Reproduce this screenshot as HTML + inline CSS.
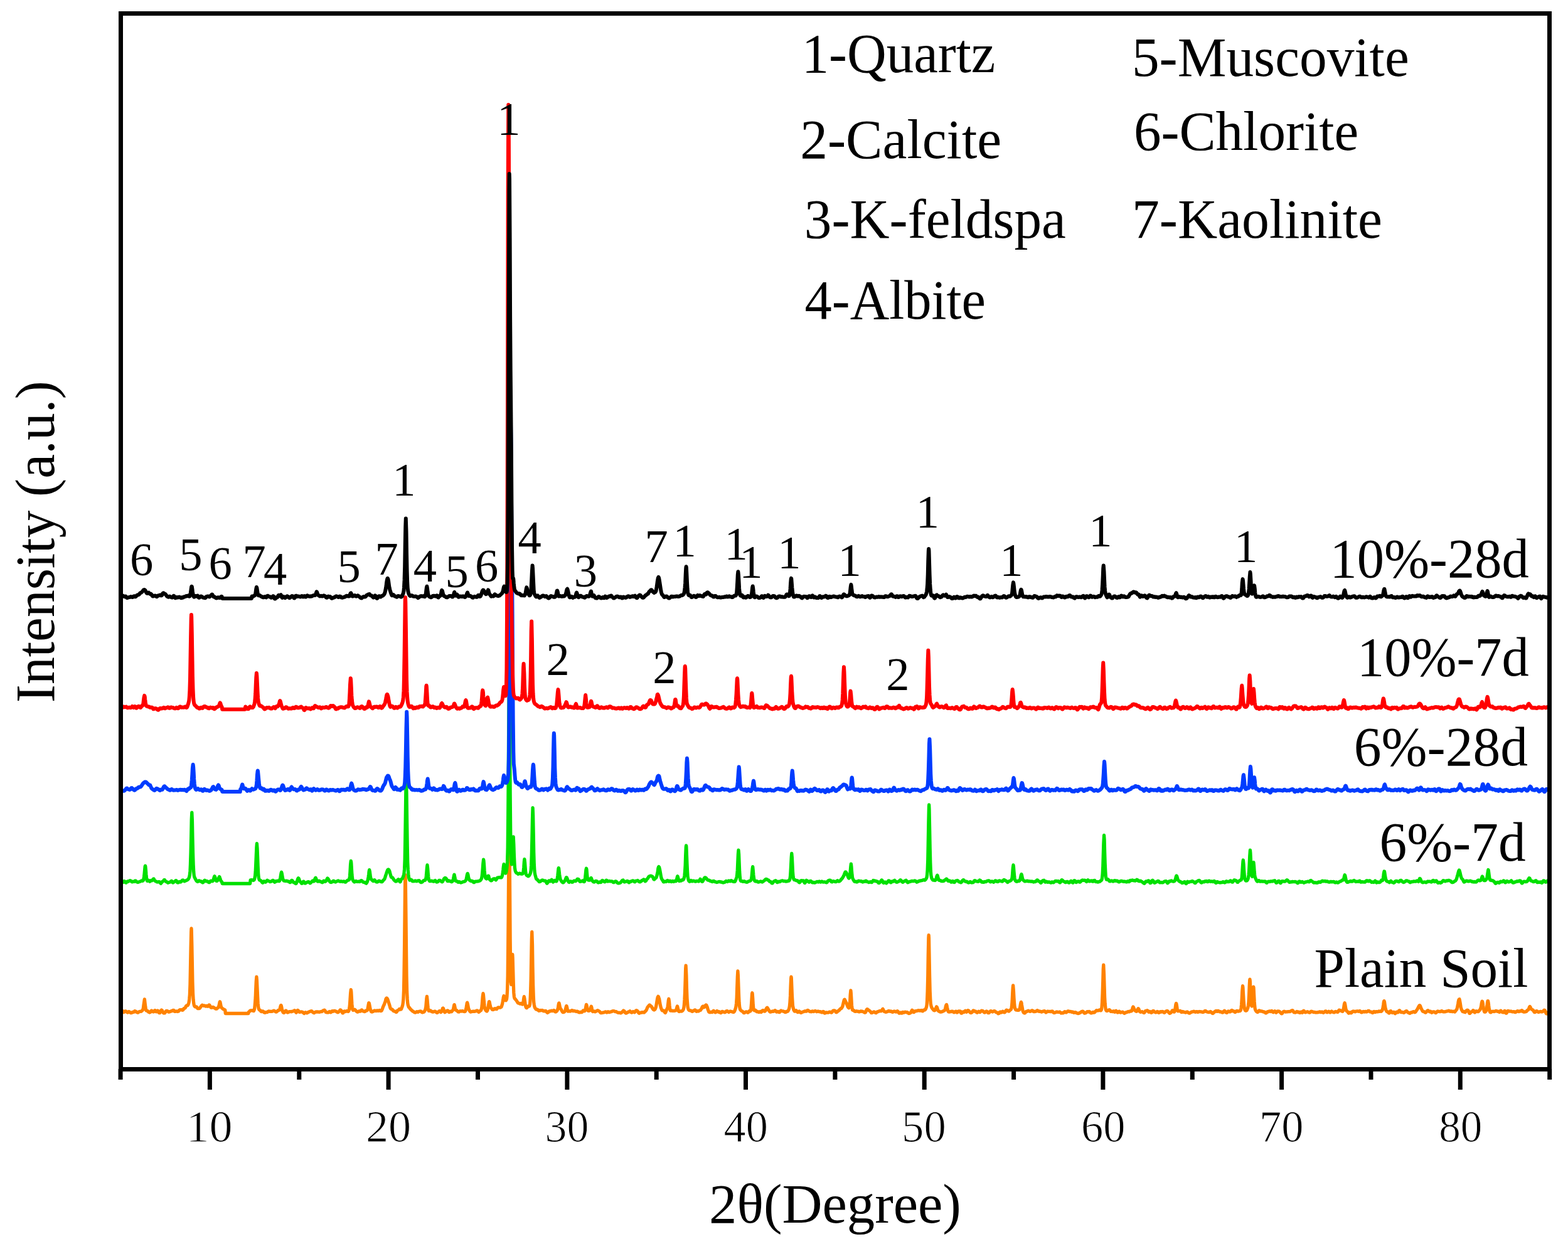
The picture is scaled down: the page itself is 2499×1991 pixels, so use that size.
<!DOCTYPE html>
<html><head><meta charset="utf-8"><title>XRD patterns</title>
<style>
html,body{margin:0;padding:0;background:#fff;}
svg{display:block;}
text{font-family:"Liberation Serif", "Times New Roman", serif;fill:#000;}
.tk{stroke:#fff;stroke-width:1.0px;}
</style></head>
<body>
<svg width="2499" height="1991" viewBox="0 0 2499 1991">
<rect width="2499" height="1991" fill="#fff"/>
<g fill="none" stroke-width="5.6" stroke-linejoin="round" stroke-linecap="round">
<path d="M192.5 1610.6 l.6 .2 .5 0 .6-.2 .6 .4 .5 .6 .6 1 .6 .8 .6 .3 .5-.3 .6-.4 .6-.6 .5-.5 .6 .1 .6-.1 .5 .4 .6 .7 .6 .4 .6 .4 .5 .3 .6-.6 .6-.5 .5-.4 .6-.1 .6 .3 .5 .5 .6 .6 .6 .4 .5 .2 .6 0 .6 .1 .6-.4 .5-.5 .6 0 .6-.5 .5 .3 .6-.1 .6-.3 .5-.7 .6-.7 .6 .1 .5 0 .6 .6 .6 .5 .6 .2 .5 .5 .6 .2 .6 .3 .5 .1 .6-.4 .6-.4 .5-.5 .6-.3 .6-.3 .5 0 .6 .1 .6-.1 .6 0 .5-.5 .6-.4 .6-.4 .5-.9 .6-.8 .6-2.5 .5-3.9 .6-4.4 .6-3.8 .3-1.8 .3 2.9 .5 4.3 .6 4.9 .6 3.9 .5 2.1 .6 .1 .6 0 .5 .1 .6 .1 .6 1 .5 .6 .6 .4 .6 .2 .6-.1 .5 .6 .6-.3 .6-.5 .5-.9 .6-1 .6-.3 .5 .3 .6 .7 .6 .3 .6 .3 .5 .3 .6-.1 .5-.5 .6-.7 .6-.8 .6-.2 .5 .8 .6 .8 .6 .7 .5 0 .6-.7 .6-.6 .6-.7 .5 .3 .6 .8 .6 1.2 .5 1.2 .6 .3 .6-.1 .5-.7 .6-1.2 .6-1.1 .5-1 .6-.6 .6 .3 .6 .9 .5 1.5 .6 1.1 .6 .7 .5 .5 .6-.3 .6 .2 .5-.1 .6-.8 .6-.5 .5-1.1 .6-.8 .6-.1 .5 0 .6 0 .6 .3 .6 .4 .5 .3 .6 .7 .6 0 .5-.3 .6-.2 .6-.1 .5-.1 .6-.3 .6-.3 .6-.4 .5-.2 .6 .3 .6-.4 .5-.6 .6-.2 .6-.1 .5 .7 .6 1.1 .6 .3 .6 0 .5-.1 .6-.5 .6 0 .5 .4 .6-.2 .6 .1 .5 .4 .6-.3 .6 0 .5-.3 .6-1.1 .6-.5 .5-.5 .6-.1 .6 .2 .6-.1 .5-.1 .6-.1 .6 0 .5 .6 .6 .1 .6-.4 .5-.5 .6-1.3 .6-.8 .6 0 .5-.2 .6-.2 .6-.9 .4-1.2 .7-1.2 .6-.6 .5-.1 .6 0 .6-.2 .6-.7 .5-1 .6-1.6 .6-2.8 .5-4.4 .6-6.7 .6-16.6 .5-25.6 .6-31.8 .6-26.4 .3-5.1 .2 2.7 .6 23.7 .6 32 .5 26.9 .6 18 .6 10.1 .6 5.6 .5 2.9 .6 1.6 .6 .9 .5 .5 .6 .1 .6-.2 .5 0 .6 .2 .6 .8 .6 1 .5 .7 .6 .2 .6-.1 .5-.1 .6 0 .6 0 .5-.3 .6-.8 .6-.8 .6-.9 .5-.8 .6-.8 .6-.4 .5-.5 .6 .3 .6 .4 .5 0 .6 .4 .6-.3 .5-.1 .6 .4 .6 .1 .5 .3 .6 .4 .6-.6 .6-.2 .5 0 .3 .2 .3 .5 .6 .4 .5-.2 .6-.8 .6-.9 .5-.5 .6 .1 .6 .8 .6 1.2 .5 .9 .6 .9 .6 .4 .5-.1 .6-.1 .6-.5 .5-.2 .6 0 .6 .2 .5 .4 .6 .3 .6 .4 .5 .3 .6 .4 .6 .4 .6 .4 .5 0 .6 0 .6-.7 .5-.3 .6-.4 .6-.6 .5 0 .6-1.2 .6-2.2 .5-2.6 .6-2.8 .3-.6 .3 .5 .6 2.5 .5 3.1 .6 2.3 .6 1.1 .5 .6 .6 .4 .6 .5 .6 .6 .5 .3 .6 .3 .6 .1 .5 .3 .6 .4 .6 .4 .5 5.3 .6 0 .6 0 .5 0 .6 0 .6 0 .6 0 .5 0 .6 0 .6 0 .5 0 .6 0 .6 0 .5 0 .6 0 .6 0 .5 0 .6 0 .6 0 .5 0 .6 0 .6 0 .6 0 .5 0 .6 0 .6 0 .5 0 .6 0 .6 0 .6 0 .5 0 .6 0 .6 0 .5 0 .6 0 .6 0 .5 0 .6 0 .6 0 .5 0 .6 0 .6 0 .5 0 .6 0 .6 0 .6 0 .5 0 .6 0 .6 0 .5 0 .6 0 .6 0 .5 0 .6 0 .6 0 .5 0 .6 0 .6 0 .6 0 .5 0 .6 0 .6 0 .5 0 .6 0 .6 0 .6-2.4 .5-.2 .6-.5 .6-.5 .5-.7 .6-.3 .6 .1 .5-.1 .6 0 .6 0 .5-.3 .6 .3 .6 .4 .6 .1 .5 .2 .6-1 .6-2 .5-3.7 .6-6.8 .6-8.1 .5-12.8 .6-13.3 .6-6.7 .5 5.6 .6 13 .6 13 .5 10.4 .6 5.6 .6 3.1 .6 1.4 .5 .5 .6 .3 .6 .3 .5 .5 .6 1.1 .6 .5 .5 0 .6 0 .6-.5 .6-.2 .5 .2 .6 .3 .6 .6 .5 .9 .6 .3 .6 .2 .5-.1 .6-.4 .6-.2 .5-.1 .6 .1 .6 .1 .5-.1 .6-.4 .6-.6 .6-.5 .5-.2 .6 .1 .6 .2 .5 .2 .6-.2 .6 .1 .5 0 .6 .1 .6 0 .6-.2 .5 0 .6-.4 .6-.1 .5-.3 .6-.3 .6 .1 .5 .2 .6 .4 .6 .5 .6 .5 .5 .2 .6 .1 .6-.1 .5-.7 .6-.4 .6-.6 .5-.6 .6 .1 .6-.3 .5-.2 .6-.3 .6-1.2 .5-1.9 .6-2.4 .6-1.9 .2-.1 .4 .5 .5 2.2 .6 2.9 .6 2.4 .5 1.6 .6 1.2 .6 .8 .5 .2 .6 .2 .6-.6 .6-.8 .5-.8 .6-1 .6-.3 .5 .3 .6 .8 .6 1.2 .5 .6 .6 .1 .6-.2 .6-.6 .5-.3 .6 .1 .6-.4 .5 0 .6 0 .6-.2 .5 .3 .6 0 .6 .1 .5-.3 .6-.3 .6-.1 .5-.2 .6 0 .6-.3 .6-.6 .5-.3 .6 .1 .6 .7 .5 1.1 .6 .9 .6 .6 .5-.5 .6-1 .6-1.1 .6-1.1 .5 .1 .6 .6 .6 .9 .5 .9 .6 .4 .6 .1 .5-.3 .6 0 .6-.1 .6-.1 .5 .1 .6 .1 .6 .2 .5 .1 .6 .6 .6 .4 .5 .5 .6 .6 .6-.4 .5-.4 .6-.4 .6-.6 .5 .3 .6 .2 .6 .3 .6 .3 .5-.2 .6-.4 .6-.5 .5-.1 .6-.4 .6 0 .5-.5 .6-.3 .6 0 .6-.4 .5 0 .6-.1 .6-.2 .5 .5 .6 .5 .6 .4 .5 .6 .6 .5 .6 .3 .6 .2 .5-.2 .6-.6 .5-.5 .6-.2 .6-.2 .6 0 .5 0 .6-.2 .6 .2 .5 0 .6 0 .6 .2 .5-.1 .6 .2 .6 0 .6-.2 .5-.1 .6-.4 .6 .1 .5-.1 .6-.2 .6 .1 .5-.6 .6-.3 .6-.4 .6-.6 .5 .2 .6-.5 .6-.1 .5 .7 .6 .5 .6 1.1 .5 1 .6 .1 .6 .2 .5 .1 .6-.1 .6 .1 .6 .2 .5-.5 .6-.3 .6-.4 .5-.4 .6 .4 .6 .6 .5 .3 .6 0 .6-.5 .6-1.1 .5-.4 .6-.1 .5 .1 .6 .5 .6-.2 .6-.2 .5-.5 .6-.1 .6 .2 .5 .1 .6 .2 .6 .4 .6 .1 .5 .3 .6 .7 .6 .2 .5 .3 .6-.1 .6-.4 .5-.4 .6-.6 .6-.7 .5-.8 .6-.8 .6-.2 .5 .5 .6 .6 .6 1.3 .6 1 .5 .7 .6 1 .6-.2 .5-.6 .6-.9 .6-1.2 .5-.1 .6 .1 .6 .3 .5 .2 .6-.2 .6-.4 .6-.4 .5-.1 .6 .2 .6 .4 .5 .5 .6-.1 .6-1 .6-1.7 .5-3.2 .6-5.4 .5-7.6 .6-9.4 .7-6.4 .5 3.2 .5 9.1 .6 10.4 .6 6.2 .5 2.8 .6 .9 .6 0 .6-.5 .5-.5 .6-.2 .6 .3 .5 .4 .6 .7 .6 .7 .5 .4 .6 .7 .6 .5 .5 .2 .6 .2 .6-.3 .5-.3 .6-.5 .6-.4 .6 .2 .5-.2 .6 .5 .6-.2 .5-1 .6-.4 .6-.7 .6 .2 .5 .8 .6 .4 .5 .5 .6 .1 .6 .1 .6 .5 .5 .1 .6 0 .6-.4 .5-.9 .6-.3 .6-.1 .5 0 .6 .1 .6-.8 .6-1.9 .5-2.7 .6-3.7 .6-3 .2-.2 .3 .2 .6 2.6 .6 3.2 .5 2.8 .6 2.2 .6 1.6 .5 1.3 .6 .3 .6 .1 .6 0 .5-.5 .6-.1 .6-.3 .5-.6 .6-.2 .6-.3 .5-.1 .6 .5 .6 0 .5 .1 .6 0 .6-.5 .6-.1 .5 0 .6 0 .6 .5 .5 0 .6-.3 .6-.2 .6-.4 .5 .2 .6 .4 .6 .4 .5 0 .6-.1 .6-.5 .5-.9 .6-1.3 .6-1.8 .5-1.5 .6-1.4 .6-1.3 .5-1 .6-1.5 .6-1.7 .6-1.7 .5-1.6 .6-2.6 .6-1.2 .6-.4 .5 .3 .6 .9 .5 .8 .6 1.9 .6 1.9 .5 1.5 .6 1.8 .6 1.8 .6 2.1 .5 2.1 .6 1.3 .6 1 .5 .1 .6 .1 .6 .5 .5 .1 .6 .8 .6 .7 .6 .7 .5 .4 .6 0 .6 .1 .5 .1 .6 .3 .6 .6 .5 .4 .6 .2 .6-.3 .5-.7 .6-1.3 .6-.7 .6-.1 .5-.4 .6-.1 .6-.8 .5-.7 .6 0 .6 .3 .5 .4 .6 .1 .6-.6 .5-1.5 .6-1.2 .6-1.8 .6-2.3 .5-3.1 .6-6.2 .6-13.2 .5-26.3 .6-44.5 .6-58.8 .5-48.4 .3-6.6 .3 9.4 .6 50.9 .6 58.1 .5 42.9 .6 25 .6 11.5 .5 6.2 .6 3.5 .6 1.8 .5 1.4 .6 .7 .6 .3 .5 .9 .6 .9 .6 .4 .6 .8 .5 .5 .6 .4 .6 .6 .5 .6 .6 .4 .6 .2 .5 .5 .6 .3 .6 .3 .5 .6 .6 0 .6 .2 .5 0 .6-.5 .6-.2 .6-.4 .5-.3 .6 .5 .6 .1 .5 .1 .6-.3 .6-.5 .6-.2 .5-.2 .6 .1 .6-.1 .5-.2 .6 .3 .6 .4 .5 .5 .6 .5 .6 .3 .5-.4 .6 .1 .6-.1 .6-.4 .5-.1 .6-1.1 .6-.8 .5-1.2 .6-2 .6-3.1 .5-6.2 .6-7.2 .5-3 .6 5.1 .6 7.6 .6 5.5 .6 3.3 .5 1.5 .6 .1 .6-.1 .5-.1 .6-.3 .6 0 .5 .8 .6 .3 .6 .1 .6 .6 .5-.1 .6-.1 .6 .5 .5-.1 .6-.3 .6-.1 .5-.3 .6-.2 .6 .1 .5 .3 .6 .4 .6 .7 .6 .6 .5 .2 .6-.2 .6-.4 .5-.6 .6-.4 .6-.4 .5-.4 .6-.5 .6 .4 .5 .5 .6 .5 .6 .7 .5-.5 .6-1 .6-1.2 .6-2 .5-1.6 .5-.3 .7 .8 .5 2.3 .6 1.8 .6 1.2 .6 .7 .5-.4 .6-.4 .5-.6 .6-.5 .6-.4 .6-.4 .5-.1 .6-.1 .6 .5 .5 1 .6 .8 .6 .4 .6-.2 .5-.7 .6-.4 .6-.1 .5 .3 .6 .4 .6-.3 .5-.7 .6-.5 .6-.9 .5-.8 .6-1.5 .6-3.1 .6-2.9 .2-.6 .3 .4 .6 3.1 .6 2.8 .5 1.8 .6 .5 .6 .1 .5 .2 .6 .7 .6 .5 .5 .3 .6 .9 .6-.2 .5 .3 .6 0 .6-.5 .6-.3 .5-.5 .6 .2 .6 0 .5 .1 .6 0 .6-.4 .6-.1 .5 .1 .6 .3 .5 .3 .6 .1 .6 .2 .6 .1 .5 0 .6-.4 .6-1.1 .5-1.9 .6-3 .6-3.4 .5-3.5 .5-1.1 .7 2.5 .6 3.2 .5 2.8 .6 2.2 .6 .9 .5 1.1 .6 1.1 .6 .5 .5 .6 .6 0 .6-.4 .5 0 .6-.2 .6-.1 .6 0 .5-.3 .6 0 .6 .1 .5 .1 .6 0 .6-.1 .5-.1 .6-.2 .6-.3 .5-.2 .6-.3 .6-.2 .6 .3 .5 .5 .6 .7 .6 .6 .5 .4 .6-.4 .6-.6 .6-.5 .5-.8 .6-.1 .6-.3 .5-1.2 .6-2.2 .6-4.7 .5-6.8 .6-7.5 .7-4.6 .4 1.9 .6 6.4 .6 6.4 .5 5.2 .6 3.3 .6 2.1 .6 .9 .5 1 .6 .7 .6 .2 .5 .2 .6-1 .6-1.7 .5-2.5 .6-3.6 .6-3.9 .5-2.6 .3-.1 .3 .7 .6 3.1 .6 3 .5 2 .6 1.2 .6 .6 .5 .7 .6 .8 .6 .7 .5 .1 .6 .1 .6-.2 .6-.5 .5-.5 .6-.5 .6-.1 .5-.2 .6 .5 .6 .5 .5 .1 .6 0 .6-.7 .5-.9 .6-.7 .6-.4 .6-.1 .5 .1 .6 .1 .6 0 .5 0 .6 .1 .6-.2 .5-.5 .6-.3 .6-1.2 .5-1.7 .6-1.9 .6-3.3 .6-3.6 .5-3.6 .7-2.4 .5 .7 .5 2.4 .6 2.2 .6 1.2 .5 .7 .6 .1 .6-.8 .6-1.4 .5-3.9 .6-10.4 .6-21.9 .5-44.7 .6-71.3 .6-80.5 .6-45.2 .5 30 .6 76.4 .5 74.3 .6 48.5 .6 22 .6 3.6 .5-9.7 .6-19 .6-17.4 .2-1.9 .3 4.9 .6 21 .6 21 .5 13.8 .6 6.4 .6 2.5 .5 1 .6 .4 .6 .7 .6 .8 .5 .6 .6 .7 .6 1 .5 .8 .6 1.2 .6 .6 .5 .1 .6 .2 .6 .1 .6 .5 .5 .2 .6 .2 .6-.3 .5-.4 .6 .2 .6 .2 .5 .6 .6 .6 .6-.1 .5-1.8 .6-3.5 .6-4.6 .5-2.4 .6 2.9 .6 4.8 .6 4.1 .5 2.9 .6 2.1 .6 .9 .5 .3 .6-.4 .6-1 .5-.8 .6-.7 .6 0 .6 .3 .5 0 .6-.8 .6-2.4 .5-5.6 .6-13.3 .6-20.8 .5-30.9 .6-32.5 .5-12.5 .7 21.1 .5 34.1 .6 28.8 .6 18.3 .5 9.6 .6 4.5 .6 2.9 .5 1.7 .6 .9 .6 .8 .5 .6 .6 .5 .6 .2 .6 0 .5-.1 .6 .2 .6 .6 .5 .8 .6 .5 .6-.1 .5-.1 .6-.4 .6-.3 .5 .4 .6-.1 .6 0 .5 0 .6-.3 .6 .1 .6 .2 .5 .4 .6 .5 .6 .1 .5 .2 .6-.1 .6-.4 .6 0 .5 0 .6 .2 .6 .9 .5 .7 .6 .5 .6 .7 .5-.3 .6-.3 .6-.3 .5-.9 .6-.5 .6-.2 .6-.2 .5 .1 .6 0 .6-.3 .5-.3 .6 0 .6 0 .5 .3 .6 .1 .6-.3 .5-.5 .6-.3 .6 .2 .6 .5 .5 1 .6 .6 .6 .2 .5-.1 .6-.5 .6-.4 .5-.6 .6-1 .6-1.6 .6-2.8 .5-3.4 .6-3.1 .3-.6 .2 .4 .6 2.6 .6 3.1 .6 2 .5 1.1 .6 .7 .6 .6 .5 1.2 .6 1.2 .6 .8 .6 .9 .5 .2 .6-.1 .6-.1 .5-.3 .6-.3 .6-.7 .5-1.2 .6-2.2 .6-2.7 .5-1.9 .3-.6 .3 .2 .6 2.4 .5 2.4 .6 2.2 .6 1.3 .6-.2 .5 0 .6-.2 .6 0 .5 .3 .6 0 .6-.1 .5-.5 .6-.2 .6-.5 .5-.1 .6 .2 .6 .2 .6 .7 .5-.1 .6-.1 .6 0 .5-.2 .6 .3 .6 .3 .6 .1 .5 .3 .6 .2 .5-.3 .6 .1 .6-.1 .6 .2 .5 .5 .6 .5 .6 .3 .5 .1 .6 .1 .6-.2 .6-.3 .5 .1 .6-.1 .6 .1 .5 .2 .6-.4 .6-.8 .5-.7 .6-.9 .6 .1 .5 .3 .6 .2 .6 .3 .5-.4 .6-1.3 .6-2.4 .6-3.6 .6-2.7 .5 1 .6 3.2 .5 3 .6 1.6 .6 1.1 .5 0 .6-.1 .6 .1 .5-.3 .6-.2 .6-1.1 .6-2.1 .5-2.4 .6-1 .6 2 .5 3.2 .6 2.2 .6 .9 .5-.2 .6-.3 .6-.1 .6 0 .5 .4 .6 .6 .6-.2 .5-.3 .6-.2 .6-.5 .5-.3 .6-.2 .6-.4 .5-.1 .6 .3 .6 .2 .6 .4 .5 .4 .6 .3 .6 .7 .5 .7 .6 .6 .6 .4 .5 0 .6-.1 .6-.1 .5-.2 .6-.1 .6 0 .6-.3 .5 0 .6-.2 .6-.2 .5-.2 .6-.5 .6 .1 .6 .1 .5 .2 .6 .8 .6-.2 .5-.3 .6 0 .6-.7 .5 .3 .6 .3 .6 .2 .5 0 .6-.3 .6-.2 .5-.3 .6 0 .6 0 .6-.2 .5-.4 .6-.4 .6-.1 .5-.1 .6 0 .6 .2 .5 0 .6 .2 .6 .5 .5 0 .6 .1 .6 0 .6 .1 .5 .4 .6 .4 .6 .4 .5 .2 .6 .2 .6 .1 .5 0 .6-.2 .6 .1 .6 .1 .5 .1 .6 .3 .6-.1 .5-.3 .6-.4 .6-.5 .5-.7 .6-.6 .6-.5 .5-.7 .6 .2 .6 .4 .6 .8 .5 1.1 .6 .8 .6 .5 .5 .2 .6 0 .6-.3 .5-.3 .6-.3 .6-.7 .5-.2 .6 .1 .6-.4 .6-.3 .5-.4 .6-.5 .6 .3 .5 .8 .6 .6 .6 .5 .5 .2 .6-.5 .6-.2 .6-.3 .5-.5 .6 .4 .6 .1 .5 .4 .6 .3 .6-.6 .5-.6 .6-1 .6-.8 .5 0 .6-.1 .6 .4 .6 .5 .5 .5 .6 1 .6 1.1 .5 .7 .6 .4 .6-.2 .5-.6 .6-.4 .6 0 .5 0 .6-.1 .6 .1 .5-.4 .6-.1 .6 0 .6 .1 .5 .2 .6 .2 .6-.1 .5-.8 .6-.4 .6-.7 .6-.5 .5-.4 .6-1 .6-1.1 .5-1.6 .6-1.3 .6-1 .5-.7 .6-.5 .6-.8 .5-.7 .4-.4 .2-.1 .6 .4 .5 .6 .6 .4 .6 .4 .6 .6 .5 .6 .6 1.2 .6 1 .5 .8 .6 .9 .6 .5 .5 .4 .6 .2 .6-.3 .6-.6 .5-.9 .6-1.4 .6-1.9 .5-2.7 .6-3.6 .6-3.7 .5-3 .6-2.4 .7-1.1 .5 .5 .5 2 .6 1.3 .6 3.2 .5 3.5 .6 2.9 .6 2.7 .5 2.1 .6 1.5 .6 1.2 .5 1.1 .6 .5 .6 .2 .5-.1 .6-.1 .6 .2 .6 .9 .5 1.1 .6 .9 .6 .5 .5-.7 .6-1.5 .6-1.5 .5-1.5 .6-1.3 .6-1.1 .5-2.5 .6-4.6 .6-5.5 .5-2 .6 4 .6 6.7 .6 5.1 .5 2.4 .6 .7 .6 0 .6-.4 .5 .2 .6 .2 .6 .2 .5 0 .6-.2 .6 .2 .5 0 .6 0 .6-.1 .5-.2 .6-.2 .6 0 .5-.3 .6-1.1 .6-2.2 .6-2.4 .3-.8 .2 .1 .6 2.4 .6 2.9 .5 1.9 .6 1 .6 .1 .5-.1 .6-.3 .6-.3 .6 .1 .5-.1 .6 .2 .6 0 .5-.3 .6-.3 .6-.7 .5-.7 .6-1.3 .6-2.5 .5-4.3 .6-8.4 .6-12.2 .6-19.2 .5-18.3 .4-4.6 .8 16.1 .5 20.1 .6 15.7 .6 8.1 .5 5.6 .6 2.8 .6 1.7 .5 .5 .6 .7 .6 0 .5 .2 .6 .3 .6-.2 .6 .3 .5 .2 .6 .4 .6 .6 .5 0 .6-.3 .6-.4 .5-.4 .6-.3 .6-.3 .6-.3 .5-.4 .6 .1 .6 .7 .5 .6 .6 .9 .6 .1 .5-.4 .6-.1 .6-.3 .6 .4 .5 .1 .6-.5 .6-.3 .5-.3 .6-.4 .6-.1 .5-.2 .6-1.1 .6-.7 .5-.9 .6-1.7 .6-1 .5-.5 .6-.2 .6 .9 .6 .8 .5-.2 .6-.3 .6-.9 .5-1.5 .8-.5 .4-.4 .6 .2 .5 1.3 .6 1.2 .6 1.6 .5 2 .6 1.7 .6 1.5 .5 1.4 .6 .5 .6 .1 .5 .3 .6-.3 .6-.2 .6 0 .5-.2 .6 .3 .6 .3 .5-.5 .6-.4 .6-1 .5-.5 .6 .2 .6 .6 .5 .9 .6 .5 .6 .3 .5 0 .6-.4 .6-.6 .6-.5 .5-.7 .6 .3 .6 .5 .5 .4 .6 .5 .6-.4 .5-.2 .6 .2 .6 .5 .6 .8 .5 .5 .6-.2 .6-.5 .5-.8 .6-.7 .6 0 .5 0 .6 .3 .6 .3 .6 .1 .5 .2 .6 .3 .6 .1 .5-.3 .6-.4 .6-.6 .5-.7 .6-.1 .6 0 .5 0 .6 .7 .6 .4 .5 .3 .6 .4 .6-.5 .6-.3 .5-.3 .6-.4 .6 .3 .5 0 .6 .1 .6 .4 .5-.1 .6 .2 .6 .4 .6-.1 .5 .3 .6-.2 .6-.7 .5-.8 .6-1.4 .6-1.7 .5-1.7 .6-2.8 .6-4.9 .6-8.7 .5-15.3 .6-17.3 .6-10.1 .5 7.4 .6 17.2 .6 16.1 .5 10.2 .6 6.1 .6 3.1 .5 1.4 .6 .9 .6 .5 .5 .4 .6 .5 .6 .2 .6 .3 .5 .4 .6 .6 .6 1 .5 .4 .6 .1 .6-.3 .5-.6 .6-.3 .6-.4 .6-.3 .5 0 .6 .2 .6 .4 .5 .4 .6 .4 .6-.2 .5-.5 .6-.8 .6-1 .5-.2 .6 .4 .6 .1 .5-.7 .6-3.2 .6-6.5 .6-9.6 .5-8 .3-1.2 .3 1.5 .6 8.2 .5 9.6 .6 5.7 .6 2.3 .5 .7 .6 0 .6-.5 .6-.1 .5 .5 .6 .6 .6 .8 .5 .6 .6 .1 .6-.1 .5-.2 .6 .3 .6 .3 .6 .4 .5-.2 .6-.4 .6-.3 .5-.2 .6 .8 .6 .3 .5-.2 .6-.5 .6-1.1 .5-.8 .6-.3 .6 0 .5 .3 .6 .4 .6 .5 .6 .4 .5-.2 .6-.5 .6-.8 .5-1.8 .6-1.2 .6-.8 .7-.7 .4 .7 .6 .5 .5 1 .6 1.2 .6 .6 .6 1.4 .5 .6 .6 .5 .6 .5 .5-.1 .6-.1 .6-.2 .6-.2 .5-.5 .6-.1 .6-.1 .5 .2 .6 .3 .6-.4 .5-.4 .6-.6 .6-.4 .5 .2 .6 .6 .6 .6 .5 .8 .6 .4 .6-.2 .6-.1 .5-.4 .6 0 .6 .4 .5 .4 .6 .4 .6-.2 .5-.8 .6-.6 .6-.9 .6-.2 .5 .4 .6 .1 .6 .4 .5-.1 .6 0 .6 .1 .5 .1 .6 .5 .6 .1 .6 .2 .5 .7 .6 .1 .6-.1 .5-.2 .6-.8 .6-.2 .5 .1 .6-.1 .6-.2 .5-.9 .6-1.2 .6-1.1 .5-1.6 .6-3.2 .6-6.3 .6-10.6 .5-14.6 .6-13 .3-2.4 .3 1.7 .5 12.4 .6 15 .6 9.9 .5 6.9 .6 3.3 .6 2.5 .5 1.5 .6 .8 .6 1 .6-.1 .5-.7 .6-.3 .6-.5 .5 .3 .6 .9 .6 .8 .5 .8 .6 .3 .6-.3 .6-.3 .5-.6 .6-.5 .6 .4 .5 .3 .6 1 .6 .7 .5-.1 .6 0 .6-.6 .5-.3 .6 0 .6-.4 .5-.1 .6-.2 .6-.2 .6-.2 .5-.4 .6-.2 .6 .2 .5 .2 .6 .1 .6-.1 .6-.8 .5-.5 .6-.3 .6-.1 .5 .4 .6 .3 .6 .4 .5 .5 .6 .2 .6 .1 .5 .4 .6 0 .6-.1 .6 .2 .5-.5 .6-.4 .6 .3 .5-.2 .6 .2 .6 .4 .5-.2 .6-.3 .6-.2 .5-.4 .6-.1 .6 .4 .5 .3 .6 .2 .6 .4 .6-.3 .5-.1 .6-.2 .6-.1 .5 .1 .6 .4 .6 .2 .5 0 .6 .2 .6-.2 .6 .1 .5 .5 .6 .2 .6 .3 .5 0 .6-.7 .6-.5 .5-.2 .6 .2 .6 .7 .6 1.3 .5 .4 .6 0 .6-.2 .5-.7 .6-.2 .6 0 .5 .1 .6 .1 .6 .1 .5 0 .6 0 .6-.3 .5-.3 .6-.3 .6-.2 .6 0 .5 .3 .6 .2 .6 .3 .5 .3 .6-.3 .6-.6 .5-.9 .6-.8 .6-.5 .6-.2 .5 0 .6-.1 .6 0 .5 .4 .6 .8 .6 .8 .5 .8 .6 .2 .6-.4 .6-.3 .5-.6 .6-.7 .6-.2 .5-.5 .6-.5 .6-.3 .5-.6 .6-.9 .6-.4 .5-.5 .6-.6 .6 .2 .5-.9 .6-.9 .6-1 .6-2.2 .5-2.1 .6-2.5 .6-2.5 .5-1.6 .6-.6 .3 .5 .3 .7 .5 1.1 .6 1.1 .6 1.1 .6 1.1 .5 1.6 .6 1.7 .6 1.4 .5 1.5 .6 .7 .6 .8 .5 .2 .6-.9 .6-2.4 .6-6.8 .5-10.7 .7-7 .4 3.7 .6 9.8 .6 10.1 .6 5 .5 2.4 .6 .6 .6 .1 .5 0 .6 .2 .6 .6 .5 .6 .6 .4 .6 0 .6-.3 .5-.2 .6-.2 .6 .3 .5 0 .6 .1 .6 .2 .5-.1 .6 .3 .6 .3 .6 .1 .5-.1 .6-.2 .6-.4 .5-.4 .6 .2 .6 0 .5 .1 .6 .3 .6-.2 .5 .3 .6 .2 .6 .2 .5 .5 .6 .1 .6 .6 .6 .1 .5-.3 .6-.5 .6-1.7 .5-1.4 .6-1 .6-.7 .5 .2 .6 .7 .6 .3 .5 .3 .6 .5 .6 .4 .6 .4 .5 .5 .6 .7 .6 .3 .5 .9 .6 .8 .6-.2 .6 0 .5-.3 .6-.4 .6-.2 .5-.3 .6-.3 .6 0 .5 .3 .6 .5 .6 .6 .5 .3 .6 0 .6-.5 .5-.4 .6-.7 .6-.2 .6-.1 .5-.3 .6 .1 .6-.5 .5-.2 .6-.3 .6 0 .5 .2 .6-.1 .6 .3 .6-.4 .5-.5 .6-.9 .6-1.4 .5-.4 .6 1 .6 1.5 .5 .9 .6 .6 .6 .4 .6 .1 .5 .3 .6 .2 .6-.3 .5 .1 .6-.1 .6-.3 .5-.1 .6-.5 .6-.2 .5-.3 .6-.2 .6 .5 .5 0 .6 .3 .6 .2 .6-.4 .5 0 .6 .2 .6 .4 .5 .5 .6 .3 .6 0 .5-.6 .6-.4 .6-.3 .5-.1 .6 .1 .6 .3 .6 .4 .5 .1 .6 .2 .6-.3 .5-.7 .6-.3 .6-.1 .5 .4 .6 .8 .6 1.1 .6 .9 .5 .3 .6-.1 .6-.6 .5-.4 .6-.1 .6 .4 .5 .6 .6 .1 .6-.5 .5-.7 .6-.5 .6-.1 .6 .5 .5 .4 .6-.3 .6-.3 .5-.5 .6 0 .6 .3 .5 .2 .6 .2 .6-.1 .6-.2 .5 .3 .6 .3 .6 .7 .5 .6 .6 .2 .6-.2 .5-.3 .6-.2 .6-.2 .5-.4 .6-1 .6-1.3 .6-1.1 .5-.6 .6 .4 .6 1.2 .5 1.2 .6 .6 .6 0 .5-.8 .6-.8 .6-.2 .5-.2 .6 0 .6 .1 .5-.3 .6 .1 .6-.2 .6-.4 .5-.1 .6-.2 .6 .2 .5 .1 .6-.2 .6 .2 .5-.2 .6 .4 .6-.1 .6-.5 .5 0 .6-.1 .6 .5 .5 .8 .6 0 .6-.5 .5-.7 .6-.6 .6-.3 .6 .2 .5-.1 .6-.6 .6-.8 .5-1.4 .6-1.6 .6-3.3 .5-7 .6-15 .6-24.1 .5-32.8 .6-28 .3-4.6 .3 4.3 .5 27.7 .6 32.8 .6 24.6 .6 12.9 .5 7.2 .6 3 .6 1.9 .5 1.4 .6 .8 .6 1 .6 .3 .5 .8 .6 .8 .6 .3 .5 .5 .6-.2 .6-.2 .5-1 .6-1.3 .6-1.9 .7-1.5 .4 .3 .6 1.2 .6 1.9 .5 1.7 .6 1.2 .6 .6 .5 .4 .6 .1 .6 .1 .5 .5 .6 .3 .6 .1 .5-.1 .6 0 .6-.4 .5-.2 .6 .1 .6-.6 .6-.4 .5-.2 .6-.2 .6-.1 .5-.5 .6-1.2 .6-2 .5-2.4 .6-2.2 .7-1.4 .5 1.4 .5 2.9 .6 2.7 .6 2.7 .5 1.2 .6 .6 .6 .2 .5 0 .6-.1 .6-.3 .6 .1 .5-.3 .6 0 .6 .1 .5-.4 .6 0 .6-.1 .5 .3 .6 .5 .6 .4 .5 .5 .6-.1 .6-.1 .5-.4 .6-.7 .6-.4 .6 .2 .5 .2 .6 1 .6 .6 .5-.3 .6-.5 .6-.7 .5-.6 .6 .2 .6-.2 .6-.2 .5 0 .6 .3 .6 1.6 .5 1 .6 .5 .6 0 .5-1.5 .6-.5 .6-.1 .6-.2 .5 .6 .6 0 .5-.8 .6-.5 .6-.7 .6-.3 .5 .9 .6 .6 .6 .6 .5-.2 .6-.9 .6-.7 .5-.8 .6 0 .6 .2 .6 .6 .5 .8 .6 .6 .6 .9 .5 .4 .6 .2 .6 .2 .5-.3 .6-.3 .6-.7 .6-1 .5-.7 .6-.7 .6 .1 .5 .1 .6 .7 .6 .4 .5-.2 .6 .3 .6-.1 .5 .6 .6 .8 .6 .2 .5 .4 .6-.5 .6-.6 .6-.3 .5-.5 .6 .4 .6 .5 .5 .3 .6 .1 .6-.6 .5-.7 .6-.6 .6-.4 .6-.2 .5 0 .6 .4 .6 .1 .5 .7 .6 .6 .6 .4 .5 .7 .6 .1 .6-.2 .6-.4 .5-.7 .6-.6 .6-.2 .5 .1 .6 .4 .6 .5 .5 .8 .6 .8 .6 .1 .5 0 .6-.6 .6-1.1 .5-.5 .6-.6 .6-.3 .6 0 .5 .4 .6 .4 .6 .4 .5 .3 .6-.4 .6-.3 .5-.4 .6-.3 .6 0 .5-.1 .6 .4 .6 .4 .6 .6 .5 .7 .6 .1 .6 0 .5 .3 .6 .2 .6 .7 .6 .8 .5-.2 .6-.1 .6-.9 .5-1.1 .6-.3 .6-.2 .5 .5 .6 .6 .6-.1 .5-.4 .6-.7 .6-.6 .5-.1 .6 .5 .6 .6 .6 .4 .5 .2 .6-.2 .6-.4 .5-.8 .6-1 .6-.8 .5-.6 .6 .2 .6 .3 .6 .3 .5 .6 .6 .2 .6 .3 .5 .1 .6-.7 .6-.7 .5-.4 .6-.5 .6-.3 .5-.6 .6-1.9 .6-3.9 .6-7.6 .5-10.9 .6-10.6 .4-3.1 .7 8.6 .6 11.4 .6 8.3 .5 5.4 .6 2.8 .6 1.4 .5 .8 .6 .4 .6 .1 .6 .1 .5 0 .6 .1 .6-.1 .5 0 .6 .1 .6-.1 .5-.5 .6-1.2 .6-2.3 .5-3.6 .6-3.3 .6-1.9 .6 1.1 .5 3.7 .6 3.3 .6 3.4 .5 2.6 .6 1.5 .6 1.1 .5 .4 .6 .3 .6 .2 .6-.3 .5-.9 .6-.6 .6-.7 .5-.2 .6 .2 .6-.4 .5-.4 .6-.1 .6-.5 .5 .3 .6 .4 .6 0 .5 .4 .6 .1 .6-.1 .6 0 .5-.5 .6-.4 .6-.3 .5-.4 .6 .4 .6 .2 .6 .6 .5 .9 .6 0 .6 0 .5-.1 .6-.3 .6-.1 .5 .1 .6-.2 .6-.5 .5-.4 .6-.5 .6 0 .6 .7 .5 .3 .6 .4 .6 .2 .5-.4 .6 .4 .6-.1 .5 .1 .6 .3 .6 .2 .5 .2 .6 0 .6-.2 .5-.4 .6-.3 .6 .1 .6-.2 .5-.2 .6-.2 .6 .2 .5 .5 .6 .6 .6 .9 .5 .2 .6-.6 .6-.3 .6-.7 .5-.3 .6 .2 .6 .1 .5-.1 .6 0 .6 0 .5 .1 .6 .2 .6-.1 .6 .2 .5-.2 .6-.3 .6 0 .5-.3 .6 .2 .6 .9 .5 .7 .6 .5 .6 .3 .5-.2 .6 0 .6-.2 .5 0 .6-.4 .6-.5 .6 0 .5-.2 .6 .1 .6 .2 .5 .1 .6 .1 .6-.1 .5-.1 .6 0 .6-.3 .6 .4 .5 .5 .6 .4 .6 .7 .5-.1 .6-.2 .6 .1 .5-.3 .6 .3 .6-.1 .6-.5 .5-.3 .6-.8 .5-.4 .6 0 .6 .4 .6 .6 .5 .3 .6-.2 .6-.5 .5-.7 .6-.4 .6-.3 .5-.1 .6 .1 .6 .3 .6 .4 .5-.1 .6 .1 .6-.2 .5 0 .6 .6 .6 .1 .5 .2 .6-.3 .6-.1 .6 .4 .5 .2 .6 .7 .6 .1 .5-.3 .6 .1 .6-.3 .5-.1 .6 .3 .6 .1 .5 .5 .6 .3 .6 .2 .5 .1 .6 .1 .6 .3 .6-.2 .5-.3 .6-.2 .6-.5 .5-.1 .6-.1 .6-.5 .5-.5 .6-.4 .6-.5 .6 0 .5-.1 .6-.1 .6 .6 .5 .6 .6 1 .6 .6 .5 .3 .6-.2 .6-.3 .6-.1 .5-.5 .6-.3 .6-.7 .5-.5 .6 .1 .6 0 .5 .3 .6-.2 .6-.4 .5 .1 .6 .3 .6 .7 .5 .7 .6 .5 .6 .1 .6 .1 .5-.2 .6-.3 .6-.5 .5-.4 .6 0 .6 .2 .5 .4 .6-.1 .6-.4 .5-.4 .6-.9 .6-.4 .6-.6 .5-.7 .6 .2 .6 0 .5 0 .6 .3 .6-.2 .6-.2 .5 0 .6-.7 .6-.2 .5 .1 .6 .5 .6 .5 .5-.3 .6-1.5 .6-4.1 .5-7.7 .6-14.3 .6-19 .5-19.3 .5-6.5 .7 13.9 .6 20.4 .5 16.8 .6 10.3 .6 6.3 .5 3.2 .6 1.4 .6 .9 .5 .1 .6-.1 .6-.3 .6-.3 .5-.5 .6-.3 .6-.1 .5-.3 .6 .4 .6 .8 .5 .7 .6 .8 .6 .1 .6-.2 .5 0 .6 .2 .6 .3 .5-.2 .6-.3 .6-.4 .5 .3 .6 .9 .6 .4 .5-.3 .6-.8 .6-.8 .5-.2 .6 .6 .6 .8 .6 .7 .5 .6 .6-.1 .6-.5 .5-.8 .6-.4 .6 0 .5 .6 .6 .9 .6 .2 .5 .3 .6-.3 .6-.3 .6-.1 .5-.3 .6 0 .6 .1 .5 .4 .6 .6 .6 .7 .5 .3 .6-.3 .6-.1 .6-.7 .5-.3 .6-.1 .6-.2 .5 0 .6-.3 .6-.4 .5-.2 .6-.2 .6 .2 .5 .2 .6-.1 .6-.4 .6-.4 .5-.4 .6 .3 .6 .1 .5-.1 .6-.7 .6-2 .5-1.9 .6-1.7 .4-.6 .8 1.4 .5 1.3 .6 1.5 .6 1 .5 .7 .6 .5 .6 .3 .5 .5 .6 .1 .6-.2 .5-.6 .6-1.5 .6-1.5 .4-.8 .7 .5 .6 1.3 .6 1.6 .5 1 .6 .8 .6 .4 .5-.1 .6-.2 .6-.1 .5-.1 .6-.1 .6 .3 .5 .4 .6 .6 .6 .4 .6 .1 .5-.3 .6-.9 .6-.9 .5-.7 .6-.4 .6 0 .5 0 .6-.1 .6-.5 .6 .2 .5 .5 .6 .7 .6 1.1 .5 .1 .6-.2 .6-.6 .5-.1 .6 .4 .6 .5 .6 .9 .5 .1 .6-.4 .6-.6 .5-1.2 .6-.5 .6-.3 .5 .3 .6 .8 .6 .3 .5 .5 .6 .2 .6 .1 .5 .5 .6-.2 .6-.5 .6-.3 .5-.6 .6 .2 .6 .7 .5 .6 .6 .4 .6 .1 .6-.4 .5-.8 .6-.4 .6-.1 .5 0 .6 .3 .6 0 .5-.3 .6-.3 .6 .1 .5 .1 .6 .5 .6 .6 .6 .4 .5 .2 .6-.2 .6-.7 .5-.6 .6-.3 .6-.6 .5-.2 .6 0 .6-.3 .5 .2 .6 .6 .6 .5 .5 .9 .6 .9 .6 .5 .6 .3 .5-.2 .6-.3 .6-.4 .5-.6 .6-.8 .6-1.1 .5-.8 .6-.5 .6 .3 .6 .8 .5 1 .6 .5 .6-.2 .5-1.1 .6-2.7 .6-3.7 .5-3.9 .7-2.2 .5 1.4 .6 3.9 .5 3.9 .6 2.2 .5 1 .6-.1 .6-.3 .6 .2 .5 0 .6-.2 .6 0 .5 .1 .6 .7 .6 1 .5 .3 .6 .1 .6-.4 .6-.7 .5 .1 .6 .3 .6 .2 .5 .3 .6 0 .6 .1 .5 .4 .6 .1 .6 .1 .6-.6 .5-.2 .6-.2 .6-.1 .5 .6 .6 .1 .6 .4 .5 .7 .6 .2 .6 .1 .5-.1 .6-.4 .6-.4 .5-.3 .6-.3 .6-.5 .6-.1 .5-.2 .6 0 .6 0 .5-.3 .6-.2 .6-.1 .5 .3 .6 .4 .6 .3 .6 .1 .5-.2 .6-.5 .6 .1 .5-.1 .6 0 .6 .8 .5-.1 .6-.1 .6 0 .6-.6 .5-.1 .6 .1 .6 .1 .5 0 .6 .2 .6-.1 .5 .2 .6 .1 .6 .2 .5 .2 .6-.1 .6 0 .5-.3 .6-.3 .6-.7 .6-.5 .5-.1 .6-.2 .6 .4 .5 .6 .6 .3 .6 .3 .5 .1 .6 .1 .6 .3 .6-.1 .5 .2 .6 .2 .6-.4 .5-.2 .6-.1 .6-.6 .5 .3 .6 .8 .6 .3 .6 .8 .5 .5 .6 .2 .6 .2 .5-.5 .6-.6 .6-.9 .5-.4 .6-.2 .6-.6 .5-.4 .6-.4 .6-.1 .5 .6 .6 .4 .6-.1 .6-.3 .5-.6 .6-.1 .6 .6 .5 .2 .6 .6 .6 .3 .5-.5 .6 .3 .6 .2 .5-.1 .6 .4 .6 .4 .6 .2 .5 .2 .6-.2 .6-.8 .5-.9 .6-.5 .6-.5 .6 .3 .5 .6 .6 .5 .6 1.1 .5 .5 .6 0 .6 .2 .5-.6 .6-.9 .6-.4 .5-.6 .6 .1 .6 .4 .5 .2 .6 .4 .6-.1 .6-.2 .5-.7 .6-1 .6-.4 .5-.2 .6 .4 .6 .8 .5 .3 .6-.2 .6 .1 .6 .2 .5 .4 .6 .9 .6 .2 .5-.2 .6-.5 .6-.7 .5-.5 .6-.2 .6-.1 .5 .5 .6 .2 .6 0 .6 0 .5-.4 .6 0 .6 .1 .5-.2 .6-.5 .6-1.4 .5-3 .6-5.4 .6-9.6 .5-11.1 .8-8.8 .4 2.7 .5 9.9 .6 9.8 .6 7.5 .6 4.9 .5 2.6 .6 1.3 .6 .7 .5 .1 .6-.1 .6-.3 .5-.5 .6-1.3 .6-1.5 .6-1.5 .5-3.2 .6-5.4 .6-11.1 .5-13.7 .6-10.5 .2-.9 .4 2.9 .5 12.3 .6 13 .6 9.2 .6 4.5 .5 .9 .6-2.8 .6-6.4 .5-9.7 .6-10.2 .3-1.8 .3 1.7 .5 10.4 .6 11.3 .6 7.6 .5 4 .6 1.8 .6 1.1 .5 .8 .6 .6 .6 .7 .6 .2 .5 .2 .6-.2 .6-1.1 .5-.4 .6-.9 .6 0 .6 .5 .5 0 .6 .7 .6-.2 .5 0 .6 .1 .6-.2 .5 .5 .6 .3 .6 .2 .5 .3 .6-.1 .6-.2 .6 .4 .5 .1 .6 .5 .6 .8 .5 .3 .6-.2 .6-.4 .5-.8 .6-.6 .6-.2 .5 .1 .6 0 .6-.3 .5-.4 .6-.3 .6 .1 .6 .4 .5 .3 .6-.1 .6-.6 .5-.4 .6 0 .6 .6 .5 .8 .6 .5 .6 .3 .6-.5 .5-.5 .6-.6 .6-.4 .5 .5 .6 .7 .6 .8 .5 .5 .6-.5 .6-.7 .6-.3 .5-.7 .6 .2 .6-.1 .5-.2 .6 .3 .6 .2 .5 .5 .6 .5 .6 .8 .5 .5 .6 .8 .6 .4 .5-.3 .6-.3 .6-1.1 .6-.6 .5-.6 .6-.7 .6 .1 .5-.2 .6 .2 .6 .4 .5 .2 .6 0 .6 0 .5-.1 .6-.1 .6 .1 .6-.2 .5 .1 .6-.2 .6-.1 .5 .1 .6 .1 .6 0 .6-.2 .5-.4 .6-.4 .5-.2 .6-.3 .6-.3 .6-.3 .5 0 .6 .8 .6 .8 .5 1 .6 .6 .6 0 .6 .1 .5 .1 .6 0 .6-.2 .5-.4 .6-.7 .6-.2 .5 .3 .6 .2 .6 .5 .5-.2 .6-.2 .6 .2 .5 .4 .6 .7 .6 0 .6-.3 .5-.7 .6-.4 .6 .4 .5 .3 .6 .5 .6-.4 .5-1.1 .6-1 .6-.4 .5 .3 .6 .7 .6 1 .6 .4 .5 .1 .6-.1 .6-.3 .5-.4 .6-.1 .6 0 .6-.2 .5 .3 .6 .3 .6 0 .5 .6 .6 .3 .6-.3 .5-.1 .6-.8 .6-.5 .5-.2 .6-.1 .6 .2 .5 .1 .6 .3 .6 .4 .6 .3 .5 .1 .6 .1 .6-.4 .5 .1 .6 .2 .6 0 .5 .4 .6-.2 .6 0 .5 .1 .6-.2 .6 .1 .6-.1 .5-.3 .6 .1 .6-.4 .5-.2 .6 .1 .6-.2 .6 .6 .5 .3 .6-.2 .5-.2 .6-.4 .6 .1 .6 .4 .5 .7 .6 .2 .6-.3 .5-.3 .6-.6 .6-.6 .5-.4 .6-.3 .6 .1 .6 .7 .5 .7 .6 .4 .6 .1 .5-.3 .6-.7 .6-.3 .5-.3 .6 .2 .6 .6 .5 .5 .6 .5 .6-.5 .6-.4 .5-.6 .6-.4 .6 .6 .5 .2 .6 .3 .6 .1 .5 .1 .6 .3 .6 .2 .6-.1 .5-.4 .6-.5 .6-.5 .5 .3 .6 0 .6 .1 .5 .3 .6 .2 .6 .1 .5-.3 .6-.9 .6-1.2 .6-.9 .5 0 .6 .3 .6 .3 .5 .5 .6-.1 .6 0 .5 .7 .6 .2 .6 .4 .5-.1 .6-1 .6-1.8 .6-3 .5-3.5 .6-3.3 .5-.9 .6 2.5 .6 3.9 .6 3.4 .5 2.1 .6 1 .6 0 .5 .5 .6 .8 .6 .7 .6 1 .5 .5 .6-.3 .6-.5 .5-.5 .6-.2 .6 .4 .5 .6 .6 .1 .6-.4 .6-.9 .5-.8 .6-.4 .6-.3 .5 .2 .6-.1 .6 .1 .5 .5 .6 0 .6 .1 .5-.2 .6-.4 .6-.1 .6-.1 .5-.1 .6 .1 .6-.1 .5 0 .6 .3 .6 .1 .5-.1 .6-.3 .6-.4 .6 .2 .5 .7 .6 .8 .6 .5 .5 .2 .6-.2 .6-.7 .5-.1 .6-.4 .6-.1 .5 .5 .6 .1 .6 .1 .6-.2 .5-.4 .6 0 .6 0 .5 .4 .6 .2 .6-.4 .5-.2 .6-.4 .6-.6 .5 0 .6-.2 .6 .2 .6 .5 .5 .5 .6 .5 .6 .1 .5 0 .6 0 .6 .2 .5 .1 .6 .9 .6 .2 .5-.4 .6-.4 .6-1 .6-.3 .5 .5 .6 .4 .6 .2 .5-.2 .6-.5 .6-.2 .5 0 .6 .1 .6 .2 .6-.1 .5-.1 .6-.1 .6-.6 .5 .2 .6 .1 .6-.2 .5 .3 .6-.4 .6-.2 .5 .4 .6-.4 .6-.4 .6-1.2 .5-2 .6-2.7 .6-3.6 .5-4.2 .6-2.1 .6 1.5 .5 3.6 .6 4.2 .6 2.8 .6 2.1 .5 1.2 .6 .9 .5 .7 .6 .1 .6 .2 .6 .1 .5 1 .6 .9 .6 .1 .5-.2 .6-1.8 .6-.9 .6-.5 .5 0 .6 1 .6 .5 .5 .5 .6 .8 .6-.3 .5-.3 .6-.1 .6-.5 .5 .5 .6 .8 .6 .7 .6 .5 .5-.5 .6-.7 .6-.7 .5-.6 .6 .4 .6 .3 .5 0 .6-.1 .6-1 .5-1.1 .6-.7 .6-.4 .5 .4 .6 1 .6 1 .6 .4 .5 .3 .6-.1 .6-.3 .5 .2 .6 .2 .6 0 .6 .5 .5 .1 .6-.1 .5-.2 .6-.6 .6-.5 .6-.9 .5-.1 .6-.2 .6 0 .5 1 .6 .2 .6 .5 .6 .7 .5-.1 .6 .4 .6 .6 .5 .1 .6 .2 .6-.1 .5-.8 .6-.5 .6-.2 .5 0 .6 .2 .6-.2 .5-.5 .6-.3 .6-.3 .6 .2 .5 .3 .6 .2 .6 .4 .5-.3 .6-.5 .6-.7 .5-1 .6-.7 .6-.6 .5-1 .6-1 .6-1.2 .6-1.3 .5-1 .6-.9 .6-.8 .4-.1 .7 .9 .6 1.4 .6 1.5 .5 1.4 .6 1 .5 .9 .6 1.2 .6 1.1 .6 .4 .5 .1 .6 .1 .6 .1 .5 .4 .6 .6 .6 .3 .5 .2 .6-.4 .6-.6 .6-.8 .5-.7 .6-.5 .6-.3 .5-.2 .6 .5 .6 .5 .5 .6 .6 .5 .6-.4 .5-.3 .6 .1 .6 .4 .6 1 .5 .7 .6-.2 .6-.4 .5-.6 .6-.3 .6 .2 .6-.1 .5 0 .6 .1 .6 .4 .5 .6 .6 .6 .6 0 .5-.5 .6-.7 .6-.7 .5-.4 .6-.4 .6 .1 .5 .3 .6 .1 .6 .1 .6 0 .5 .1 .6 .1 .6-.2 .5-.3 .6-.4 .6-.3 .5 .2 .6 .5 .6 .3 .5 .3 .6-.1 .6 0 .6 .2 .5-.1 .6 .1 .6-.3 .5-.1 .6 0 .6-.3 .5-.1 .6-.2 .6-.1 .5 0 .6-.2 .6-.3 .6-.1 .5 .1 .6 .4 .6 .4 .5 .2 .6-.1 .6-.4 .5 0 .6 .2 .6 .3 .6 .4 .5 0 .6-.4 .6-.1 .5 .1 .6 0 .6 .5 .5 .2 .6-.7 .6-.7 .5-.8 .6-1 .6-.4 .6-1.1 .5-2.5 .6-2.7 .6-3.4 .5-3.4 .6-2.3 .7-1.1 .4-.1 .6 2.8 .6 3.3 .6 4 .5 3.4 .6 1.7 .6 1.8 .5 .8 .6 1.1 .6 1 .5-.1 .6 .2 .6-.4 .5 .1 .6 .8 .6 .1 .6 .3 .5-.8 .6-.9 .6-.7 .5-.6 .6-.2 .6-.3 .5 .2 .6 .2 .6 1 .5 1.4 .6 1.3 .6 1.1 .6 0 .5-.4 .6-1 .6-.8 .5-.1 .6-.3 .6-.1 .5-.4 .6-.9 .6-.7 .5-.1 .6 .7 .6 1.1 .6 1.2 .5 .4 .6-.6 .6-.6 .5-.6 .6-.5 .6 .2 .5 .1 .6 .2 .6 .5 .6 0 .5-.2 .6-.7 .6-.7 .5-.7 .6-.7 .6-.5 .5-1.5 .6-1.9 .6-2.9 .5-3.8 .8-3 .4 .1 .6 2.4 .5 3.7 .6 3.7 .6 3.2 .5 2.6 .6 1.3 .6 .1 .5 0 .6-.5 .6-.8 .6-1 .5-2.9 .6-4.1 .5-4.8 .7-3.5 .5 .1 .6 3.2 .5 4.4 .6 3.8 .6 3.3 .5 2.2 .6 .9 .6 .4 .6-.2 .5-.5 .6-.3 .6-.4 .5-.2 .6 0 .6-.1 .5 .1 .6 .2 .6-.1 .5 .1 .6-.2 .6-.5 .6-.3 .5-.1 .6 0 .6 .3 .5 .4 .6 .2 .6 0 .5-.1 .6 .1 .6 .3 .5 .7 .6 .2 .6-.6 .5-.9 .6-.8 .6 0 .6 .9 .5 .7 .6 .4 .6 .4 .5 0 .6 .3 .6 0 .6-.7 .5-.8 .6-.9 .6 0 .5 .9 .6 1.4 .6 1.2 .5 .2 .6-.4 .6-1.2 .5-1.3 .6-.7 .6-.2 .6 .1 .5 .2 .6 .4 .6 0 .5 0 .6 .1 .6-.1 .5-.1 .6 .2 .6 .3 .5 .1 .6 .3 .6 0 .5 0 .6-.3 .6 0 .6 .2 .5 .1 .6 .6 .6 .2 .5-.4 .6-.1 .6-.4 .6-.5 .5-.1 .6-.6 .5 .1 .6 .4 .6 .3 .6 .3 .5-.3 .6-.5 .6-.1 .5 .1 .6 .1 .6-.1 .6-.7 .5-.5 .6 0 .6 .5 .5 .8 .6 .7 .6 .3 .5-.2 .6 .2 .6 0 .5-.2 .6 0 .6 0 .5-.2 .6-.1 .6-.4 .6-1.2 .5-.4 .6-.4 .6-.2 .5-.2 .6-1.3 .6-1.8 .5-1.4 .4-.7 .2-.1 .6 .9 .5 1 .6 1.2 .6 .9 .6 .6 .5 .5 .6 0 .6 .5 .5 .2 .6 .8 .6 1.2 .6 .7 .5 .7 .6 0 .6-.5 .5-.5 .6-.5 .6-.4 .5-.1 .6 .2 .6 .5 .5 .5 .6 .4 .6 .3 .5-.4 .6 0 .6-.1 .6-.4 .5-.1 .6 0 .6-.1 .5 .3 .6 .3 .6-.2 .5-.1 .6-.2 .6-.6 .5-.2 .6-1 .6-.5 .6 .1 .5 .3 .6 1.5 .6 1.4 .5 1.2 .6 1.1 .6 .2 .5-.4 .6-.6 .6-1 .5-.7 .6-.2 .6 0 .6 .2 .5 .6" stroke="#ff8200" stroke-width="5.3"/>
<path d="M192.5 1405.7 l.6 .2 .5 .1 .6 .5 .6 .2 .5 0 .6-.2 .6-.9 .6-.6 .5-.4 .6 0 .6 .5 .5 .8 .6 .8 .6 .4 .5 .1 .6-.7 .6-1 .6-.3 .5-.3 .6 0 .6 .3 .5-.4 .6-.5 .6-.1 .5-.4 .6-.1 .6 .2 .5 .1 .6 .8 .6 .5 .6 .4 .5 .1 .6-.3 .6-.3 .5 .2 .6 .1 .6-.1 .5-.1 .6-.8 .6-.5 .5 .1 .6 .1 .6 .6 .6 .6 .5 .5 .6 .2 .6 .1 .5 .3 .6-.3 .6-.2 .5-.1 .6-.4 .6-.1 .5 0 .6-.4 .6-.3 .6-.4 .5-.3 .6-.2 .6 .1 .5 .4 .6-.3 .6-.6 .5-1.9 .6-3.6 .6-5.3 .6-6.6 .5-5 .3-.7 .3 .7 .6 5.9 .5 6.8 .6 5.8 .6 3.4 .5 1.4 .6 0 .6-.8 .5-.3 .6 .1 .6 .9 .6 .5 .5 .5 .6-.4 .6-.8 .5-.2 .6-.5 .6 .1 .5 .4 .6-.4 .6-.4 .6-.8 .5-1.2 .7-.1 .4 .6 .6 1.2 .6 1.1 .6 .4 .5 .4 .6 .2 .6 .3 .5 .4 .6 .4 .6 .1 .6 0 .5-.1 .6-.2 .6 0 .5-.1 .6 0 .6 .8 .5 .6 .6 .7 .6 .7 .5-.6 .6-.7 .6-.8 .6-1 .5 0 .6-.4 .6-.4 .5-.7 .6-1 .6-.4 .5 .4 .6 1.1 .6 .6 .5 .4 .6 .5 .6 0 .5 .6 .6 .5 .6 .3 .6 .4 .5-.3 .6-.2 .6-.1 .5-.3 .6 0 .6-.2 .5-.4 .6-.6 .6-.5 .6-.3 .5 .5 .6 1 .6 .8 .5 .5 .6-.2 .6-.8 .5-.5 .6-.1 .6-.5 .6-.4 .5-.3 .6-.7 .6 .2 .5 .6 .6 .8 .6 1.4 .5 .3 .6 .1 .6-.1 .5-.9 .6-.4 .6-.1 .5-.1 .6 .3 .6 .4 .6-.3 .5-.4 .6-.6 .6-1 .5-.5 .6-.2 .6-.1 .5 .6 .6 .6 .6 .3 .6 .3 .5-.2 .6-.3 .6-.3 .5-.4 .6 0 .6-.3 .5-.3 .6-.1 .6-.6 .6-.5 .5-.5 .6-1 .6-1.1 .5-1.6 .6-3.3 .6-5.9 .5-11 .6-18.7 .6-25.6 .5-26.1 .6-11.8 .6 12.6 .5 26.2 .6 25.5 .6 18.5 .6 11.6 .5 5.6 .6 2.8 .6 1.1 .5 1.2 .6 1.1 .6 .9 .5 1 .6 .9 .6 .6 .6 .5 .5 .3 .6-.4 .6-.4 .5-.6 .6-.4 .6 .3 .5 .2 .6 .2 .6 .5 .6-.3 .5 .2 .6 .5 .6 .2 .5 .8 .6 .5 .6-.1 .5-.3 .6-1 .6-1.1 .5-.7 .6-.4 .6 .3 .5 .6 .6 .3 .6 .3 .6 .1 .5-.4 .6 .2 .6 .4 .5 .2 .6 .7 .6 .6 .5-.1 .6 .2 .6-.5 .6-1 .5-.4 .6-.7 .6 0 .5 .3 .6-.1 .6 .5 .5-.2 .6-.4 .6-1.1 .5-2.1 .6-2.1 .6-1.7 .3-.4 .2 .3 .6 1.5 .6 2.1 .6 1.9 .5 1.3 .6 .5 .6 0 .5-.3 .6-.6 .6-.8 .5-1.2 .6-1.5 .6-1.5 .5-1 .4 .6 .2 .7 .6 1.7 .6 1.8 .5 1.6 .6 .9 .6 .7 .5 .2 .6 2.8 .6 0 .6 0 .5 0 .6 0 .6 0 .5 0 .6 0 .6 0 .5 0 .6 0 .6 0 .5 0 .6 0 .6 0 .6 0 .5 0 .6 0 .6 0 .5 0 .6 0 .6 0 .5 0 .6 0 .6 0 .5 0 .6 0 .6 0 .5 0 .6 0 .6 0 .6 0 .5 0 .6 0 .6 0 .5 0 .6 0 .6 0 .6 0 .5 0 .6 0 .6 0 .5 0 .6 0 .6 0 .5 0 .6 0 .6 0 .5 0 .6 0 .6 0 .5 0 .6 0 .6 0 .6 0 .5 0 .6 0 .6 0 .5 0 .6 0 .6 0 .5 0 .6 0 .6 0 .5 0 .6 0 .6 0 .6 0 .5 0 .6 0 .6 0 .5 0 .6 0 .6 0 .6 0 .5 0 .6 0 .6 0 .5 0 .6-5.7 .6 0 .5-.1 .6 .1 .6-.2 .5 .2 .6 .2 .6 .2 .6 .1 .5-.2 .6-.4 .6-1.2 .5-1.9 .6-3.6 .6-6.7 .5-10.3 .6-14.3 .6-14.2 .5-5.9 .6 7.6 .6 14.6 .5 13.9 .6 12.9 .6 5.4 .6 2.5 .5 1.1 .6 .5 .6 0 .5 .4 .6 .3 .6 .3 .5 1.2 .6 .7 .6 .9 .6 .3 .5-.6 .6-.5 .6-.8 .5-.5 .6 .5 .6 .1 .5 .4 .6 .4 .6-.3 .5-.6 .6-.8 .6-.9 .5-.4 .6 .3 .6 .5 .6 .3 .5 .2 .6 .4 .6 0 .5 .2 .6 .5 .6-.4 .5 .1 .6-.1 .6-.6 .6 0 .5-.7 .6-.6 .6 .1 .5 .1 .6 .9 .6 1.1 .5 .5 .6 .3 .6-.5 .6-.8 .5-.3 .6-.3 .6 .2 .5 .2 .6-.2 .6-.3 .5-.3 .6 .2 .6 .3 .5 .3 .6-.2 .6-1.2 .5-1.9 .6-3.1 .6-3.8 .6-3.2 .4-1.1 .7 2.3 .6 3.5 .5 3.2 .6 2.5 .6 1.1 .5 1 .6 .2 .6-.1 .6 .4 .5-.1 .6 .1 .6 .1 .5-.4 .6 .1 .6 .1 .5 .1 .6 .4 .6 .2 .6-.1 .5 .2 .6 .3 .6 .6 .5 .6 .6 .1 .6-.4 .5-.9 .6-1.1 .6-.8 .5-.2 .6 .3 .6 .9 .5 1.2 .6 .6 .6 .4 .6 .1 .5-.1 .6 .3 .6 .8 .5 .5 .6 .3 .6-.2 .5-1.3 .6-1.3 .6-1.9 .6-2.1 .6-1.4 .5-.6 .6 .5 .5 1.3 .6 1.4 .6 1.3 .5 1.1 .6 .6 .6 .6 .6 .8 .5 .7 .6 .3 .6-.4 .5-1.2 .6-.8 .6-.8 .5 0 .6 1.1 .6 .8 .5 .7 .6 .3 .6-.2 .5-.5 .6-.3 .6-.5 .6-.1 .5-.3 .6-.3 .6 .2 .5-.5 .6 0 .6 .6 .5 .4 .6 .8 .6 .5 .6-.4 .5-.5 .6-.6 .6-.7 .5-.6 .6-.7 .6-.4 .5 0 .6 .6 .6 .4 .6-.2 .5-1.2 .6-1.8 .5-1.5 .8-1.1 .4 .8 .6 1.5 .5 1.2 .6 1.4 .6 .6 .5 .3 .6 .2 .6-.5 .5-.4 .6-.1 .6 .1 .6 .5 .5 .4 .6 .4 .6 0 .5 .1 .6 .5 .6 .3 .5 .3 .6-.2 .6-.7 .6-.9 .5-.9 .6 .1 .6 .2 .5 .5 .6 .5 .6-.3 .5-.5 .6-.8 .6-1 .5-1.3 .6-1 .4-.5 .8 .7 .5 1.1 .6 .6 .6 1.1 .5 1.1 .6 .6 .6 .9 .5 .2 .6-.2 .6 .4 .6-.3 .5-.2 .6-.3 .5-.7 .6-.5 .6-.2 .6-.1 .5 .3 .6 .7 .6 .4 .5 .2 .6 .2 .6-.2 .6-.5 .5-.3 .6-.1 .6-.4 .5-.3 .6 .1 .6-.4 .5 .3 .6 .5 .6 .1 .5 .3 .6 .2 .6-.4 .5 0 .6 .1 .6-.1 .6 .2 .5 .2 .6 .2 .6-.2 .5-.1 .6-.2 .6 0 .5 .3 .6 .5 .6 .3 .5 .1 .6-.4 .6-.5 .6-.8 .5-.5 .6-.5 .6-.3 .5 0 .6-.2 .6 0 .6-.6 .5-1.6 .6-4.3 .5-7.1 .6-11 .7-6 .5 3 .5 8.5 .6 9.7 .6 5.6 .5 3 .6 1.1 .6 1.1 .6 .8 .5 .4 .6 .4 .6-.4 .5-.4 .6-.3 .6-.4 .5 .2 .6 .3 .6 .3 .5 .1 .6 .1 .6-.1 .5-.2 .6 .1 .6-.1 .6 .3 .5 0 .6-.3 .6-.7 .5-.6 .6-.3 .6 .2 .6 .4 .5 .5 .6 .6 .5 .5 .6 .6 .6 0 .6-.1 .5 .1 .6 0 .6 .6 .5 .6 .6 .3 .6 .3 .5-.7 .6-.9 .6-1.3 .6-1.8 .5-2 .6-3.3 .6-4.6 .5-4.8 .5-2.1 .7 2.9 .5 4.6 .6 3.9 .6 2.5 .5 1.1 .6 .7 .6 .2 .6 .7 .5 .7 .6 .4 .6 .2 .5-.6 .6-.6 .6-.6 .5 .3 .6 .8 .6 .7 .5 .8 .6 .3 .6 .2 .6 .2 .5-.1 .6-.4 .6-.2 .5-.6 .6-.6 .6 .2 .6-.3 .5 .4 .6 .6 .6 0 .5 .4 .6 0 .6 0 .5 .3 .6-.5 .6-.6 .5-1 .6-.7 .6-.5 .5-.4 .6-.6 .6-1.5 .6-1.7 .5-2 .6-1.6 .6-1.6 .5-1.8 .6-1.7 .6-1.7 .5-1.1 .6-.6 .4-.2 .7 .3 .6 .9 .6 1.1 .6 2 .5 2.1 .6 2.1 .6 2.3 .5 1.3 .6 .6 .6 .3 .5-.2 .6 .4 .6 1 .6 .9 .5 1.1 .6 .8 .6 .5 .5 .5 .6 .4 .6 .5 .5 .2 .6-.2 .6-.3 .5-.7 .6-.7 .6-.4 .6-.8 .5-.3 .6 .3 .6 .8 .5 1.8 .6 .9 .6 .3 .5-.7 .6-1.9 .6-1 .5-.9 .6-.5 .6-.1 .6-1 .5-1.5 .6-1.7 .6-1.7 .5-2.7 .6-6.9 .6-15.1 .5-27.7 .6-41.3 .6-44.6 .5-19 .6 26 .6 45.6 .6 39.3 .5 25.2 .6 13.1 .6 7 .5 4.4 .6 2.7 .6 1.6 .5 .7 .6-.3 .6-.4 .6-.3 .5 .3 .6 .5 .6 1 .5 .6 .6 0 .6 .3 .5-.4 .6 .2 .6 .1 .5-.2 .6 0 .6-.6 .5 .3 .6 .1 .6 0 .6 .5 .5-.4 .6-.2 .6 .2 .5-.5 .6-.1 .6 0 .6-.1 .5 .5 .6 .7 .6 .7 .5 .7 .6 .2 .6 0 .5-.2 .6-.1 .6-.2 .5-.7 .6-.7 .6-.6 .6-.6 .5 0 .6-.1 .6 .1 .5-.3 .6-1 .6-1.6 .5-4 .6-6.6 .6-7.2 .5-3.7 .6 4.8 .6 7.9 .6 6.4 .5 3.6 .6 1.8 .6 .6 .5 .6 .6 0 .6-.3 .5 .1 .6-.4 .6 .1 .6 .3 .5-.1 .6 .3 .6 .2 .5 .2 .6 .1 .6-.3 .5-.7 .6-.4 .6-.3 .5 .6 .6 .8 .6 .6 .6 .6 .5-.2 .6 0 .6-.3 .5-.5 .6-.3 .6-.9 .5-.5 .6-.1 .6 0 .5 .3 .6 .4 .6 .2 .5 .7 .6 .6 .6 .2 .6 .1 .5-.7 .6-1.1 .6-1 .5-1.3 .6-1.1 .6-.6 .6-.5 .5-.1 .6 .4 .5 .2 .6 .6 .6 1.2 .6 1.2 .5 1.4 .6 .3 .6-.1 .5-.1 .6-.6 .6 .6 .6 0 .5-.2 .6 .3 .6 0 .5 .3 .6 .7 .6 .2 .5-.3 .6-.4 .6-.9 .5-1.3 .6-2.3 .6-3 .6-3 .2-.3 .3 1.1 .6 3 .6 3.4 .5 2.1 .6 .5 .6 .2 .5-.1 .6 .1 .6 .4 .5 .8 .6 .4 .6 .1 .5-.3 .6-.3 .6 0 .6 .2 .5 .8 .6 .1 .6 .2 .5-.1 .6-.4 .6-.1 .6-.3 .5-.1 .6-.4 .5-.1 .6-.1 .6-.1 .6-.1 .5-.3 .6-.3 .6-.7 .5-1 .6-1.3 .6-2.8 .5-3.1 .6-2.4 .4-.9 .8 2.3 .5 3.3 .6 2.3 .6 1.6 .5 1.2 .6 .2 .6 .4 .5 .4 .6 .3 .6 .2 .5-.2 .6 .1 .6-.1 .6 .5 .5 .7 .6 .5 .6 .5 .5 0 .6-.5 .6-.5 .5-.4 .6-.1 .6 0 .5 0 .6-.1 .6-.1 .6 0 .5 .1 .6-.2 .6-.1 .5-.3 .6-.2 .6 0 .6-.4 .5-.3 .6-.4 .6-.9 .5-.8 .6-1.6 .6-3.2 .5-4.9 .6-6.9 .6-8.6 .7-6 .4 2 .6 7.5 .5 8.2 .6 6.4 .6 3.6 .6 1.9 .5 .4 .6 .7 .6 .1 .5-.7 .6-.6 .6-1.8 .5-1.6 .7-.2 .5 1.4 .5 2.1 .6 1.8 .6 1 .6 .3 .5 .6 .6 .5 .6 0 .5-.2 .6-.5 .6-1 .5-.4 .6-.2 .6-.6 .6 .3 .5-.2 .6-.2 .6 .7 .5 .4 .6 .6 .6 .3 .5-.7 .6-1 .6-1.1 .5-.8 .6-.2 .6 .1 .6-.2 .5-.1 .6-.1 .6-.2 .5 .1 .6 .3 .6 0 .5 .1 .6-.1 .6-.5 .5-1.1 .6-2.1 .6-3.5 .6-4.7 .5-4.8 .7-4.5 .5 1 .5 6.2 .6 3.7 .6 2.3 .5 1.2 .6-.8 .6-1.9 .6-2.9 .5-4.8 .6-8.3 .6-22.1 .5-46.8 .6-78.4 .6-95.4 .7-68 .4 23.6 .6 85 .5 91.2 .6 64.1 .6 33.2 .6 14.2 .5 3.9 .6-1.1 .6-6.4 .5-13.3 .6-16.3 .5-6.8 .6 11.9 .6 17.6 .6 12.7 .5 7.5 .6 3.7 .6 2 .6 1 .5 1 .6 .1 .6 .4 .5 .3 .6 .3 .6 .8 .5-.2 .6-.2 .6-.2 .6-.6 .5 .1 .6 .2 .6 .4 .5 .3 .6-.1 .6 .1 .5-.2 .6 .1 .6-.2 .5-1 .6-3.1 .6-6 .6-9.1 .5-3.9 .6 4.8 .6 8.1 .5 6.3 .6 3.6 .6 1.9 .5 .8 .6 .4 .6 .3 .5 .3 .6 .5 .6 .1 .6-.4 .5-.6 .6-1 .6-.9 .5-1.2 .6-1.7 .6-3.5 .5-7.8 .6-16.4 .6-25.9 .6-30.8 .6-18.9 .5 11.7 .6 30.1 .5 28.5 .6 19.5 .6 10.3 .5 4.2 .6 2.9 .6 2.1 .5 2.2 .6 1.8 .6 .5 .6 .6 .5 .3 .6 .2 .6 1 .5 .6 .6 .6 .6 .7 .5 0 .6 0 .6-.3 .5-.6 .6-.1 .6-.7 .5-.2 .6-.4 .6-.3 .6 .2 .5 0 .6 .5 .6 .3 .5 .2 .6 .1 .6-.1 .6-.1 .5 .2 .6 1.1 .6 1.1 .5 1.2 .6 .6 .6-.5 .5-.8 .6-1.1 .6-1.1 .5-.7 .6-.2 .6 .4 .6 .3 .5 .5 .6-.3 .6-1.2 .5-.5 .6-.7 .6 .7 .5 1.5 .6 .9 .6 .7 .5-.5 .6-.9 .6-.7 .6-.5 .5 0 .6 .3 .6 .5 .5 .5 .6 .1 .6-.5 .5-1.7 .6-2.8 .6-4.6 .6-5.8 .5-4.6 .3-1.3 .3 .6 .5 4.5 .6 5.4 .6 4.1 .6 2.5 .5 1.7 .6 .9 .6 1.1 .5 .8 .6 .5 .6 .7 .6 .4 .5 .1 .6-.2 .6-.6 .5-.8 .6-.6 .6-.7 .5-1.2 .6-1.2 .6-1.7 .5-1.3 .3 0 .3 .1 .6 1.1 .5 1.5 .6 1.4 .6 1.6 .6 1 .5 .9 .6 .3 .6-.5 .5-.3 .6-.5 .6-.3 .5 .1 .6 .2 .6 .5 .5 .6 .6-.2 .6 0 .6-.7 .5-.8 .6-.1 .6-.5 .5 .3 .6 .1 .6 .2 .6 .1 .5-.4 .6-.4 .5-1.1 .6-.8 .4-.6 .8-.2 .5 .2 .6 .2 .6 .6 .5 1.3 .6 1.1 .6 .6 .6 .2 .5-.2 .6-.3 .6-.1 .5 .1 .6-.3 .6-.6 .5 0 .6 0 .6 .7 .5 .8 .6 .1 .6-.8 .5-2.2 .6-3.7 .6-5.7 .6-6.4 .6-2.5 .5 1.9 .6 7 .5 5.3 .6 3.3 .6 1 .5 .1 .6 .3 .6-.3 .5 .3 .6-.2 .6-.9 .6-1.3 .7-1.4 .4 .7 .6 1.5 .5 1.5 .6 .9 .6 .3 .5 1.1 .6 .3 .6 .2 .6 .2 .5-.8 .6 0 .6-.4 .5-.4 .6 .2 .6-.2 .5 .1 .6 .6 .6 .5 .5 .7 .6 .6 .6-.1 .6-.3 .5-.2 .6-.5 .6 .3 .5 .3 .6 .1 .6-.2 .5-.9 .6-1 .6-.9 .5-.2 .6 .3 .6 .6 .6 .5 .5 .2 .6 .4 .6 .4 .5 0 .6-.2 .6-.9 .6-.9 .5-.6 .6 .1 .6 .7 .5 .4 .6 .7 .6-.1 .5-.4 .6 0 .6-.2 .5 .1 .6 .2 .6 .2 .5-.1 .6 .1 .6-.1 .6 0 .5 .2 .6 .2 .6 .7 .5 .5 .6 .3 .6 0 .5-.4 .6-.3 .6-.6 .5-.4 .6-.2 .6 0 .6 .5 .5 .8 .6 .7 .6 .5 .5 .3 .6 .3 .6-.1 .5 .1 .6-.1 .6-.2 .6-.3 .5-.1 .6-.4 .6-.8 .5-.5 .6-.8 .6-.8 .5-.5 .6-.3 .6-.1 .5 .9 .6 1.1 .6 .7 .6 .4 .5-.3 .6-.4 .6-.2 .5 0 .6-.1 .6-.2 .5-.4 .6-.2 .6 .4 .5 .8 .6 .7 .6 .7 .6-.1 .5-.6 .6-.4 .6-.7 .5 0 .6 .2 .6-.2 .5-.3 .6-.5 .6-.4 .6 0 .5 .1 .6 .1 .6 .6 .5 .6 .6 .4 .6 .1 .5-.6 .6-.7 .6-.3 .5 0 .6-.1 .6 .1 .6-.2 .5-.5 .6 .6 .6 .4 .5 .4 .6 .8 .6 0 .5 .1 .6 0 .6-.4 .5-.3 .6-.7 .6-.7 .5 .2 .6-.5 .6-.4 .6-.1 .5-1.1 .6 0 .6 .5 .5 .4 .6 1.3 .6 .8 .6-.4 .5-.3 .6-1.3 .6-.9 .5-.4 .6-.9 .6-.3 .5-1 .6-1.1 .6-.6 .5-.7 .6-.2 .6-.2 .5-.1 .7-.2 .5 0 .6 .4 .5 .2 .6 .1 .6 .4 .5 .5 .6 1 .6 1.9 .5 .9 .6 .4 .6-.4 .6-1.1 .5-.5 .6-.1 .6-.4 .5-.9 .6-1.7 .6-2.4 .5-2.4 .6-2.7 .6-5.1 .6-2 .5-.7 .6 .9 .6 2.2 .5 2.2 .6 3.4 .6 3.4 .5 3.2 .6 2.4 .6 1.7 .5 .9 .6 1 .6 .8 .5 .8 .6 1.2 .6 .2 .6-.2 .5-.3 .6-.4 .6 .1 .5 .3 .6 .2 .6-.4 .5-.7 .6-.5 .6-.5 .5 .1 .6 .6 .6 .5 .6 .5 .5 0 .6-.5 .6-.5 .5 .1 .6 .5 .6 .4 .6 .4 .5-.1 .6-.7 .6-.4 .5 .1 .6 .3 .6 .3 .5 .3 .6-.7 .6-.4 .5 0 .6 0 .6 .5 .5-.1 .6-1.1 .6-1.7 .6-2.5 .5-2.2 .3-.4 .3 .6 .6 2.2 .5 2.5 .6 1.7 .6 .6 .5-.4 .6-.4 .6-.2 .6 0 .5 .7 .6-.1 .6-.6 .5-.5 .6-.5 .6-.1 .5 .3 .6-.6 .6-1.2 .5-1.7 .6-3.5 .6-6.5 .6-10 .5-15.3 .6-13.4 .3-2.4 .3 1.7 .5 12.8 .6 15.4 .6 12 .5 7.2 .6 3.5 .6 2.2 .5 1.4 .6 .5 .6 .6 .5-.1 .6-.6 .6-.5 .6-.5 .5 .5 .6 .4 .6 .3 .5 .1 .6-.6 .6-.2 .5 0 .6 .1 .6 .2 .6 .2 .5 .3 .6 .2 .6 .1 .5-.2 .6-.3 .6-.4 .5 0 .6 .2 .6 .1 .6 .1 .5 .3 .6-.1 .6-.8 .5-.8 .6-1.2 .5-.8 .6 .6 .6 .9 .6 .9 .5 1 .6 .6 .6 0 .5-.5 .6-1.1 .6-1.2 .6-1.3 .5-1.1 .6-.7 .6-.5 .5-.1 .6 .3 .4 .3 .8 .8 .5 .8 .6 .7 .6 .8 .5 .4 .6 .3 .6-.2 .5 .1 .6 0 .6 .5 .5 .5 .6 .2 .6 .4 .6-.1 .5 .3 .6 .3 .6 .1 .5 .2 .6-.4 .6-.5 .5-.3 .6 0 .6 .5 .5 .5 .6 .3 .6 .1 .5 .1 .6 .3 .6 .2 .6 .2 .5-.1 .6-.3 .6 0 .5-.3 .6-.1 .6-.1 .5-.2 .6 .1 .6 .1 .6 .2 .5 .3 .6-.1 .6 0 .5 .2 .6 0 .6 .5 .5 .2 .6-.2 .6 .3 .6-.3 .5-.3 .6 0 .6-.5 .5-.5 .6-.4 .6-.5 .5 .1 .6 .2 .6 .4 .5 .3 .6-.4 .6-.3 .5-.4 .6-.5 .6 .4 .6 .2 .5 .3 .6 0 .6-.6 .5-.4 .6-.2 .6 .4 .5 .4 .6 .4 .6 .3 .6 .2 .5-.1 .6 .3 .6 .1 .5-.3 .6 0 .6-.9 .5-1.4 .6-1.4 .6-1.6 .6-2.1 .5-3.7 .6-7 .5-11.5 .6-13.6 .6-6.9 .6 6.5 .5 13.5 .6 14.1 .6 8.3 .5 4.3 .6 2 .6 .7 .5 0 .6 .1 .6-.1 .6 .2 .5 .5 .6 0 .6-.1 .5-.2 .6-.3 .6 .2 .5 .4 .6 .3 .6 .3 .6 .1 .5 .1 .6 .2 .6 0 .5-.3 .6-.4 .6-.5 .5-.2 .6-.2 .6-.2 .5 0 .6-.2 .6-.2 .5-.3 .6-1.1 .6-1.9 .6-3.5 .5-5.8 .6-6.8 .5-3.1 .6 5.9 .6 7.2 .6 5.1 .5 2.5 .6 1.5 .6 .7 .6 .4 .5 .1 .6-.3 .6-.2 .5 .1 .6 .2 .6 .7 .5 .4 .6 .2 .6 0 .6-.3 .5 0 .6-.2 .6-.3 .5-.1 .6-.3 .6 .2 .5 .3 .6 .3 .6 .3 .5-.2 .6-.4 .6-.3 .5-.5 .6-.4 .6-.3 .6-.6 .5-.6 .6-.6 .6-.6 .5-.1 .6 0 .6 .3 .5 .4 .6 .3 .6 .5 .5-.1 .6 .2 .6 .7 .6 .5 .5 .9 .6 .3 .6-.2 .5 .3 .6 .2 .6 1.1 .6 .9 .5 .3 .6-.1 .6-.8 .5-.8 .6-.6 .6-.6 .5-.3 .6-.5 .6-.3 .5-.1 .6-.2 .6 .4 .5 .7 .6 1 .6 .7 .6 0 .5-.2 .6-.8 .6-.3 .5 .3 .6 0 .6 .1 .5 0 .6-.7 .6-.4 .6-.1 .5-.3 .6-.1 .6-.1 .5-.1 .6 .2 .6 .3 .5 .2 .6 .2 .6 0 .6-.2 .5 .2 .6 0 .6 0 .5 .4 .6-.1 .6-.2 .5 .1 .6-.5 .6-.2 .5 .2 .6-.3 .6 .1 .5-.3 .6-1.2 .6-1.8 .6-4.3 .5-7.4 .6-11.2 .6-12.1 .5-5.4 .6 6.6 .6 12.2 .5 11 .6 6.7 .6 3.3 .5 1.5 .6 .7 .6-.2 .6 0 .5 .5 .6 .3 .6 .4 .5 .3 .6 0 .6-.1 .5 .1 .6 .3 .6 .5 .6 1 .5 .8 .6 .3 .6 .2 .5-.6 .6-.8 .6-.9 .5-.7 .6-.3 .6 0 .5 .5 .6 0 .6-.1 .5-.2 .6 .1 .6 1.1 .6 1.4 .5 1.1 .6 .1 .6-1.1 .5-1.4 .6-1.2 .6-.6 .6 .3 .5 .3 .6 .4 .6 .3 .5 .6 .6 .4 .6 .4 .5 .2 .6-.8 .6-.3 .5-.7 .6-.1 .6 .4 .6 .3 .5 1 .6 .6 .6 .3 .5-.1 .6-.1 .6-.3 .5 .2 .6 .6 .6 0 .5-.1 .6-.4 .6-.4 .5-.1 .6-.2 .6-.3 .6-.3 .5-.1 .6 .5 .6 .2 .5 0 .6-.4 .6-.6 .5 .1 .6 .6 .6 .3 .6 .2 .5-.4 .6-.5 .6-.3 .5 .1 .6 .4 .6 .2 .5 .4 .6 0 .6-.2 .6 0 .5 .1 .6 0 .6 .1 .5 .1 .6 .5 .6 .1 .5 0 .6-.4 .6-1 .5-.8 .6-.6 .6-.4 .5-.2 .6 .1 .6-.4 .6 0 .5 .2 .6 .4 .6 1 .5 .8 .6 .4 .6-.1 .5-.5 .6-.3 .6-.3 .6-.1 .5 .3 .6 .1 .6 .2 .5 .3 .6-.1 .6 .2 .5 0 .6-.3 .6-.4 .6-.9 .5-.3 .6 .3 .6 .3 .5 .7 .6 .1 .6-.3 .5-.2 .6-.5 .6-.3 .5-.7 .6-1 .6-.5 .5-.7 .6-.6 .6-.6 .6-1.1 .5-.9 .6-1.1 .6-1.1 .5-1.3 .6-1.7 .6-1.3 .5-1.1 .6-.2 .6 .6 .6 .9 .5 1.2 .6 1.2 .6 1.3 .5 1.7 .6 1.3 .6 1.3 .5 .6 .6-.4 .6-1.1 .6-3.3 .5-5.8 .6-7.4 .6-4.9 .5 3.9 .6 7.9 .6 6.3 .5 3.8 .6 1.8 .6 1.1 .5 1.1 .6 .9 .6 .9 .5 .5 .6-.1 .6 0 .6-.1 .5 0 .6 .8 .6 .1 .5-.1 .6-.2 .6-1 .5-.3 .6-.2 .6-.1 .6 .3 .5 .1 .6 .2 .6-.1 .5 .2 .6-.1 .6 0 .5 .6 .6 0 .6 .5 .5 .2 .6-.4 .6-.4 .5-.1 .6 .1 .6 0 .6 .1 .5-.7 .6-.5 .6 0 .5 .3 .6 .9 .6 .3 .5 0 .6 .2 .6 0 .5 .3 .6 .5 .6-.2 .6-.3 .5 0 .6-.5 .6 .3 .5 .4 .6 0 .6 .3 .6-.8 .5-.8 .6-.5 .6-1 .3 0 .2 .1 .6 .1 .6 .3 .5 .4 .6-.2 .6-.1 .5 .3 .6 .2 .6 .4 .5 .2 .6-.2 .6 .4 .6 .3 .5 .7 .6 1.1 .6 .1 .5-.1 .6-.5 .6-.9 .5-.6 .6-.6 .6-.8 .6-.8 .2-.4 .3-.1 .6 .6 .6 1.3 .5 1.3 .6 .9 .6 .6 .5-.3 .6-.7 .6-.2 .6-.3 .5 .5 .6 .7 .6 .4 .5 .4 .6-.6 .6-.6 .5-.9 .6-.9 .6-.6 .5-.5 .6 0 .6 .1 .5 .7 .6 .8 .6 .8 .6 .6 .5-.1 .6-.5 .6-.7 .5-.6 .6 0 .6 .2 .5 0 .6-.4 .6-.8 .5-.4 .6-.3 .6 .6 .6 .6 .5 .6 .6 .8 .6 .1 .5 .3 .6-.1 .6-.3 .5-.3 .6-.3 .6-.1 .6-.4 .5-.2 .6-.6 .6-.9 .6-.4 .5 .2 .6 .6 .5 .8 .6 .6 .6 .8 .5 .3 .6 .3 .6-.3 .6-.6 .5-.4 .6-.4 .6 0 .5-.4 .6-.4 .6-.2 .5-.4 .6 .7 .6 .7 .6 .9 .5 1 .6 .3 .6-.2 .5-.3 .6-.5 .6-.4 .5 .2 .6-.2 .6-.1 .5-.1 .6-.5 .6 0 .6-.2 .5-.2 .6 .4 .6-.1 .5 0 .6 0 .6-.3 .5-.3 .6-.1 .6 .2 .5 .1 .6 .7 .6 .3 .5 .3 .6 .6 .6-.6 .6 .2 .5-.3 .6-.4 .6 .2 .5-.5 .6-.5 .6-.1 .5-.2 .6 .1 .6 0 .6-.2 .5-.2 .6-.2 .6 .1 .5-.1 .6-.4 .6-.3 .5-.2 .6 .2 .6 .2 .6 .3 .5-.3 .6-.6 .6-.5 .5-1 .6-1 .6-1.6 .5-3.8 .6-7.9 .6-16 .5-25.8 .6-33.2 .6-25.8 .2-2.7 .3 6.6 .6 29.6 .6 32.3 .6 23.3 .5 13.2 .6 7.2 .6 3.2 .5 1.8 .6 1.1 .6 .7 .6 .8 .5 .2 .6-.2 .6 .2 .5-.1 .6 .2 .6 .4 .5-.3 .6-.7 .6-1 .5-2.2 .6-2.3 .6-1.3 .3-.3 .3 .4 .5 2.2 .6 2 .6 2 .5 1.1 .6 .1 .6 .2 .5 0 .6 0 .6 .4 .5 .5 .6 .2 .6 .2 .5 0 .6-.3 .6 0 .6 .2 .5-.2 .6-.2 .6-.5 .5-.7 .6-.1 .6-.4 .5-.5 .8-.7 .4-.3 .6 .3 .5 .9 .6 1 .6 .8 .5 .5 .6-.2 .6-.1 .5-.2 .6 0 .6 .4 .6 .3 .5 .8 .6 .6 .6 .1 .5-.3 .6-.8 .6-.5 .5-.1 .6 .6 .6 1 .5 .4 .6 .1 .6-.4 .5-.9 .6-.6 .6-.5 .6-.1 .5-.2 .6-.1 .6-.1 .5-.2 .6 .3 .6 .7 .5 .6 .6 .5 .6 .3 .6-.1 .5 .3 .6 .3 .6 .4 .5 0 .6-.5 .6-.7 .5-1 .6-1 .6-.6 .6-.3 .5 0 .6 .6 .5 .6 .6 .6 .6 .4 .6 .3 .5 .1 .6-.2 .6 .1 .5-.1 .6 .4 .6 .9 .5 .4 .6 .1 .6 .2 .6-.3 .5-.2 .6-.3 .6-.7 .5-.1 .6 .3 .6 .5 .5 .7 .6-.1 .6-.2 .6 .1 .5-.1 .6-.1 .6-.6 .5-1.1 .6-.9 .6-.4 .5 0 .6 .5 .6 .4 .5 .2 .6 .2 .6-.1 .5 .1 .6 .4 .6-.1 .6 .1 .5-.5 .6-.7 .6-.4 .5-.7 .6 .2 .6 .2 .5 .7 .6 1.1 .6 .1 .6 .8 .5 .1 .6-.4 .6 .6 .5 0 .6-.1 .6 .1 .5-.5 .6-.5 .6 .1 .6 .1 .5 .1 .6-.2 .6-.4 .5-.5 .6-.3 .6-.1 .5-.1 .6-.2 .6-.1 .5 .1 .6 .3 .6 .7 .5 .5 .6 .4 .6 0 .6-.4 .5-.2 .6-.3 .6 0 .5 .4 .6 .4 .6 .3 .5 .3 .6-.3 .6-.7 .5-.4 .6-.7 .6-.4 .6 .2 .5 .1 .6 .4 .6 .7 .5 .2 .6 .1 .6 0 .6-.5 .5-.6 .6-.3 .6-.3 .5 .2 .6 .2 .6 .2 .5 0 .6 0 .6 .2 .5 .1 .6 .5 .6-.2 .5-.5 .6-.7 .6-1.1 .5-.3 .6 .1 .6 .5 .6 .4 .5 .1 .6 .3 .6 .3 .5 .6 .6 .7 .6 .6 .6 .5 .5-.2 .6-.5 .6-.5 .5-.5 .6-.2 .6-.1 .5-.1 .6-.4 .6-.5 .5-.2 .6-.7 .6-1.3 .6-2.8 .5-5.8 .6-8.6 .7-5.1 .4 2.1 .6 8 .6 6.5 .5 4.5 .6 2.3 .6 1.6 .5 .5 .6 .3 .6 .4 .6-.3 .5 .3 .6-.2 .6-.6 .5 0 .6-.5 .6 .1 .5 .4 .6-.7 .6-1.1 .5-1.8 .6-3.1 .6-2.8 .6-1.3 .5 1.3 .6 3 .6 2.8 .5 1.5 .6 .8 .6 .5 .5 .4 .6 .6 .6 .3 .6 0 .5 0 .6-.2 .6 0 .5-.1 .6-.4 .6 .1 .5 .1 .6 .1 .6 .5 .5-.1 .6-.1 .6 .1 .5 .1 .6 0 .6 .1 .6 .2 .5-.2 .6 .1 .6 .1 .5-.2 .6 .4 .6 .2 .6 .2 .5 .2 .6-.4 .6-.1 .5-.2 .6 0 .6 .3 .5-.3 .6-.5 .6-.7 .5-1 .6-.3 .6 .2 .6 .7 .5 .7 .6 .3 .6 .2 .5-.1 .6 .6 .6 .6 .5 .6 .6 .8 .6-.2 .5-.5 .6-1 .6-1.1 .5-.5 .6-.4 .6-.1 .6 0 .5-.3 .6 .5 .6 1 .5 1 .6 .4 .6-.2 .5-.5 .6-.4 .6 .5 .6 .4 .5 .3 .6 0 .6-.4 .5 .1 .6-.2 .6 .2 .5 .2 .6 .3 .6 .4 .6 .3 .5-.1 .6-.8 .6-.3 .5-.2 .6 .3 .6 .5 .5 .2 .6-.1 .6-.5 .5-.6 .6-.4 .6-.4 .5-.4 .6 .1 .6-.2 .6 .2 .5 .4 .6-.1 .6 .1 .5-.3 .6-.1 .6 .5 .5 .6 .6 .8 .6 .4 .6 .1 .5-.3 .6-1.1 .6-.9 .5-1.3 .6-.7 .6 .3 .5 .3 .6 .9 .6 .7 .6 .2 .5 .2 .6 .3 .5 .1 .6 .6 .6 .5 .6-.2 .5 0 .6-.8 .6-.4 .5 0 .6 .1 .6 .6 .5 .5 .6 .5 .6 0 .6 0 .5-.6 .6-.6 .6-.6 .5-.7 .6-.2 .6 .3 .5 .7 .6 1.1 .6 .7 .6 .1 .5-.6 .6-1.2 .6-1 .5-.7 .6-.1 .6 .7 .5 .8 .6 .9 .6 .6 .5-.2 .6-.4 .6-.2 .5-.6 .6-.1 .6-.1 .6-.1 .5 .6 .6 .3 .6 .4 .5 0 .6-.5 .6-.6 .5-.7 .6-.6 .6-.4 .6-.3 .2 0 .3-.2 .6 .3 .6 .1 .5 .1 .6 .1 .6-.4 .5 .1 .6 .1 .6 .4 .6 .7 .5 .5 .6 .6 .6-.4 .5-.9 .6-1 .6-.5 .5 .3 .6 .7 .6 1 .5 .2 .6 0 .6-.2 .5-.2 .6-.4 .6-.2 .6 .2 .5-.1 .6 .8 .6 .3 .5 0 .6 0 .6-.8 .5-.7 .6-.1 .6-.1 .5 .8 .6 .9 .6 .4 .6 .2 .5-.1 .6-.1 .6 .2 .5 .3 .6 .1 .6-.3 .6-.2 .5-.1 .6 0 .6-.1 .5-.4 .6-.6 .6-.5 .5-.3 .6-.5 .6-1.1 .5-2.8 .6-5.9 .6-11.5 .5-16.7 .6-20.3 .7-13.4 .5 6.7 .5 19.2 .6 18.8 .6 12.6 .5 7.8 .6 3.8 .6 1.7 .5 .2 .6-.3 .6-.3 .6 0 .5 .5 .6 .7 .6 1 .5 .7 .6 .4 .6 0 .5-.4 .6-.2 .6-.3 .6-.1 .5 .3 .6 0 .6 .6 .5 .3 .6-.2 .6-.1 .5-.7 .6-.3 .6-.2 .5 .1 .6 .4 .6 .1 .5 .2 .6 0 .6-.4 .6 .2 .5 .1 .6 .5 .6 .6 .5 .3 .6 .2 .6-.1 .5-.3 .6-.3 .6-.3 .5-.6 .6 .1 .6 .1 .6-.1 .5 .5 .6-.1 .6 0 .5 .5 .6 0 .6-.1 .5 .1 .6-.1 .6 0 .6 .3 .5 0 .6 .2 .6 .2 .5-.1 .6-.3 .6-.7 .5-.2 .6 .1 .6 .7 .5 .3 .6-.3 .6-.6 .6-1.2 .5-.3 .6 0 .6 .1 .5 .1 .6-.2 .6-.3 .5 0 .6 .4 .6 .3 .6 0 .5 .1 .6-.1 .6 0 .5 .5 .6-.2 .6-.2 .5-.4 .6-.9 .6-.3 .5 .2 .6 .1 .6 .9 .6 .8 .5 .3 .6 .1 .6 .2 .5-.5 .6-.1 .6 .4 .5-.3 .6 .5 .6 .5 .5 0 .6 .7 .6 .2 .5 .4 .6 .5 .6 .6 .6 .5 .5 .1 .6-.3 .6-1 .5-1 .6-.8 .6-.4 .5 0 .6 .5 .6 0 .6-.5 .5-.4 .6-.5 .6-.1 .5 .8 .6 .9 .6 .7 .5 1.3 .6 .2 .6-.5 .6-.5 .5-1.8 .6-.8 .6-.5 .5-.4 .6 .6 .6 .5 .5 .8 .6 1.2 .6 .9 .5 .1 .6-.3 .6-.3 .5-.5 .6-.3 .6-.1 .6-.3 .5-.4 .6-.4 .6-.4 .5 0 .6 .4 .6 .8 .6 .8 .5 .6 .6 0 .6-.2 .5-.1 .6-.2 .6 .3 .5 .2 .6-.2 .6 .2 .5-.2 .6-.4 .6-.3 .6-.5 .5-.4 .6-.1 .6-.2 .5-.1 .6 0 .6-.1 .5 .8 .6 .6 .6 1.2 .5 .6 .6-.3 .6-.7 .5-1.3 .6-.4 .6-.4 .6 .2 .5 .1 .6-.5 .6-.2 .5-.3 .6 0 .6 .3 .5 .4 .6 .1 .6 .2 .6 .1 .5 0 .6-.1 .6-.4 .5-.5 .6-1 .6-1.5 .5-2 .6-2.4 .6-1.2 .6 .8 .5 1.8 .6 2 .5 1.8 .6 .9 .6 .6 .6 .7 .5 .2 .6 .5 .6 .4 .5-.2 .6 .4 .6 .3 .5 .5 .6 .6 .6 .3 .6-.2 .5-.4 .6-.1 .6-.5 .5-.4 .6-.4 .6 0 .5 .5 .6 1 .6 1.2 .6 .3 .5-.4 .6-1 .6-1.3 .5-.6 .6 .2 .6 .3 .5 .4 .6 .2 .6-.4 .5-.3 .6-.2 .6-.2 .5 .1 .6-.1 .6-.1 .6-.4 .5-.3 .6 .2 .6 .2 .5 .4 .6 .4 .6 .2 .5 .7 .6 .8 .6 .3 .6-.2 .5-.9 .6-.8 .6-.5 .5-.2 .6-.1 .6-.4 .5-.4 .6-.4 .6-.2 .6-.1 .5 0 .6 .5 .6 .7 .5 .8 .6 1 .6 .5 .5 .1 .6-.3 .6-.4 .5-.6 .6-.3 .6 .3 .5-.1 .6 .2 .6-.2 .6-.7 .5 .1 .6-.5 .6 .1 .5 .1 .6-.3 .6 .7 .5 .3 .6 .2 .6 0 .6-.8 .5-.5 .6-.3 .6 .2 .5 .4 .6 .3 .6 .3 .5-.1 .6-.1 .6-.3 .6 .1 .5 .3 .6 .3 .6 .1 .5-.1 .6-.5 .6-.5 .5 0 .6 .4 .6 1 .5 1 .6 .6 .6-.1 .5-.7 .6-.9 .6-.2 .6 0 .5 .5 .6 .4 .6 .1 .5 .1 .6-.1 .6 .3 .5 .2 .6-.2 .6-.2 .5 .1 .6-.2 .6 .1 .6 0 .5-.7 .6-.3 .6 .1 .5 .1 .6 .5 .6 .6 .6-.1 .5-.1 .6-.5 .6-1 .5-.4 .6-.2 .6 .4 .5 .5 .6 .1 .6-.1 .5-.3 .6 0 .6 .2 .5-.2 .6-.5 .6-.6 .6-.4 .5 .2 .6 .6 .6 .7 .5 .6 .6 .3 .6-.1 .5-.5 .6-1 .6-.8 .6-.9 .5-.1 .6 .2 .6 .2 .5 .3 .6 0 .6 .4 .5 .5 .6 1 .6 .8 .5 .2 .6-.1 .6-1.1 .6-.6 .5-.4 .6-.2 .6 0 .5-.5 .6-.5 .6-.2 .5-.1 .6-1.2 .6-3 .5-6.5 .6-9.9 .6-8.6 .4-2.5 .7 6.7 .6 10.6 .6 7 .5 4.7 .6 2.1 .6 1 .5 .9 .6-.1 .6 .1 .5-.1 .6-.6 .6-.9 .6-1.3 .5-2.4 .6-3.9 .6-7 .5-9.6 .6-13.5 .7-9.5 .4 4 .6 12.5 .6 12.3 .6 8 .5 4.5 .6 .9 .6-3.1 .5-6.7 .6-9.4 .5-3.5 .6 6.1 .6 8.6 .6 5.7 .5 3.1 .6 1.6 .6 1.2 .5 1.4 .6 1.3 .6 .6 .6 .8 .5 0 .6-.6 .6-.2 .5-.7 .6 .1 .6 .5 .6 .4 .5 .6 .6 0 .6-.3 .5 0 .6-.3 .6 .3 .5 .3 .6-.2 .6 .2 .5-.1 .6-.2 .6 .2 .6-.2 .5 .1 .6 0 .6 .1 .5 1.1 .6 .2 .6 .9 .5 .1 .6-.9 .6-.3 .5-.8 .6-.2 .6 0 .5 .2 .6 .1 .6 0 .6-.1 .5-.5 .6-.1 .6 .1 .5 0 .6 .1 .6 0 .5-.3 .6-.2 .6 .1 .6-.5 .5-.1 .6 .1 .6-.3 .5 .6 .6 1 .6 .8 .5 .9 .6 .3 .6-.4 .6-.5 .5-.8 .6-.6 .6-.6 .5-.2 .6 .1 .6 .7 .5 1 .6 1 .6 .6 .5-.3 .6-.8 .6-1 .5-.8 .6-.2 .6 0 .6 .1 .5 .2 .6 .2 .6-.1 .5 .1 .6 .1 .6-.2 .5-.1 .6-.7 .6-.5 .5-.5 .6-.5 .6 .2 .4 .2 .7 .7 .6 .9 .6 .6 .5 .5 .6 .4 .6 .2 .6-.4 .5 0 .6 0 .5-.3 .6 .2 .6-.1 .6-.3 .5-.2 .6 .2 .6 .1 .5 0 .6 .1 .6-.1 .6-.3 .5 .2 .6 .3 .6-.1 .5 .3 .6 .2 .6 0 .5 .8 .6 .7 .6-.2 .5-.3 .6-.9 .6-1 .5-.4 .6 .2 .6 .3 .6 .5 .5 .4 .6-.1 .6-.1 .5-.3 .6-.3 .6 .4 .5 .2 .6 .5 .6 .6 .5-.2 .6-.1 .6-.3 .6-.5 .5-.1 .6-.2 .6 0 .5 0 .6-.3 .6-.1 .6-.2 .5-.1 .6 .3 .6 .2 .5 .2 .6-.1 .6-.8 .5-.9 .6-.4 .6-.1 .5 .3 .6 .6 .6 .4 .5 .3 .6 .4 .6 .6 .6 .6 .5 .3 .6 .2 .6-.3 .5-.2 .6 .2 .6-.1 .5 .4 .6-.2 .6 .1 .5 .2 .6-.3 .6 .1 .6-.5 .5-.5 .6-.3 .6 0 .5 .2 .6 0 .6 .3 .6 0 .5-.3 .6-.2 .5-.7 .6-.6 .6-.2 .6-.1 .5 .2 .6 .4 .6 0 .5-.2 .6 .1 .6-.2 .5 0 .6 .5 .6 0 .6 0 .5 .2 .6-.4 .6 .1 .5 .4 .6 0 .6 .6 .5 .1 .6 .1 .6 .1 .5-.2 .6-.4 .6-.3 .6 0 .5 .1 .6 .4 .6 .1 .5-.1 .6-.2 .6-.2 .5 .3 .6-.3 .6 .3 .6 .6 .5 .1 .6 .6 .6-.2 .5-.5 .6-.1 .6-.2 .5 .4 .6 .6 .6 .1 .5 0 .6-.2 .6-.6 .6-.4 .5-.5 .6-.2 .6-.2 .5-.1 .6-.1 .6-.4 .5-.5 .6-.4 .6-.5 .5-.2 .6 .1 .6-.1 .6-1.1 .5-2.6 .6-2.8 .5-1.5 .6 .9 .6 3 .6 2.8 .5 2.3 .6 1.5 .6 .7 .5 .4 .6 0 .6-.2 .6-.2 .5-.5 .6 0 .6-.2 .5-.1 .6-.3 .6-.5 .5 .1 .6 .1 .6 .5 .6 .1 .5-.3 .6-.1 .6-.6 .5-.2 .6-.1 .6-.4 .5 .4 .6 .5 .6 .3 .5 .6 .6 .2 .6-.2 .6 .1 .5-.2 .6-.1 .6 .1 .5 0 .6 .1 .6-.4 .5-.4 .6-.3 .6 0 .6 .7 .5 .9 .6 .4 .6 0 .5-.3 .6-.3 .6 .1 .5 .1 .6 .2 .6-.2 .5 0 .6 .2 .6-.1 .6 .3 .5-.2 .6-.5 .6-.6 .5-.8 .6-.2 .6-.2 .5 .2 .6 .7 .6 .1 .5 .1 .6-.1 .6-.7 .6-.2 .5 0 .6 .4 .6 .5 .5 .7 .6 .6 .6 .3 .5 0 .6-.1 .6-.3 .5 0 .6 .4 .6 .2 .6-.3 .5-.6 .6-.9 .6-.6 .5 .4 .6 .8 .6 1.1 .5 .6 .6-.4 .6-.3 .6-.5 .5 0 .6 .6 .6 .3 .5 0 .6-.1 .6-.1 .5-.4 .6-.6 .6-.7 .5-1.2 .6-.6 .6 .4 .6 .3 .5-.3 .6-1.6 .6-3.8 .5-5.2 .8-3.8 .4 .1 .5 3 .6 4.5 .6 3.2 .6 2.1 .5 1.7 .6 .5 .5 .6 .6 .5 .6 .1 .6 0 .5 .3 .6 .2 .6 .3 .5 .6 .6-.7 .6-.5 .6-.7 .5-.5 .6 .5 .6 .7 .5 .7 .6 .3 .6 .2 .5-.1 .6 .4 .6 .3 .5-.2 .6-.4 .6-1.1 .6-.6 .5-.3 .6-.2 .6 0 .5-.1 .6 .1 .6 .1 .5 .5 .6 .2 .6 .2 .5 .3 .6-.3 .6-.3 .5-.7 .6-.9 .6-.2 .6-.1 .5 .2 .6 .7 .6 .4 .5 .4 .6 .9 .6 .3 .6 .3 .5 .1 .6-.4 .5-.3 .6-.4 .6-.4 .6-.4 .5-.6 .6-.2 .6-.1 .5 0 .6 .4 .6 .4 .6 0 .5 .2 .6 .1 .6 .3 .5 .6 .6 .6 .6 .4 .5-.3 .6-.2 .6-.5 .5-.3 .6 .2 .6 0 .5-.1 .6-.3 .6-.2 .6-.3 .5 .1 .6 .3 .6 0 .5 0 .6 0 .6-.1 .5-.5 .6-.2 .6-.4 .5 0 .6 .7 .6 .3 .6 .4 .5-.7 .6-1.5 .6-1.5 .4-1.3 .7 .3 .6 1.1 .6 1.4 .5 1.4 .6 .8 .5 .7 .6 .3 .6 .3 .6 .1 .5-.4 .6-.2 .6-.1 .5-.1 .6 .2 .6 0 .5 .1 .6 .4 .6 .1 .6-.4 .5-.6 .6-.4 .6-.4 .5 .1 .6 .2 .6-.1 .5 0 .6 0 .6 0 .5 .1 .6 .1 .6 .4 .6 .2 .5-.2 .6-.2 .6-.9 .5-1 .6-.2 .6-.1 .6 .6 .5 1 .6 .5 .6 0 .5-.5 .6-.6 .6-.6 .5 .1 .6 .5 .6 .9 .5 1 .6 .6 .6 .5 .5 0 .6-.3 .6-.3 .6-.1 .5 .1 .6 .1 .6 .6 .5-.4 .6-.3 .6-.2 .5-.9 .6-.4 .6-.7 .5-.8 .6-.2 .6 0 .6 .4 .5 .5 .6 .4 .6 0 .5-.3 .6-.4 .6-.2 .5-.2 .6 .2 .6 0 .5-.1 .6-.2 .6-.4 .6 0 .5 .2 .6 .3 .6 .2 .5 .1 .6 .3 .6 .4 .5 .8 .6 .6 .6 .4 .6 .1 .5-.1 .6-.2 .6-.3 .5-.4 .6-.4 .6-.4 .5-.4 .6 0 .6-.6 .5-.8 .6-1 .6-1.7 .6-1.9 .5-2 .6-1.9 .6-2.1 .5-2.2 .6-2 .6-1.2 .2 .1 .3 .5 .6 2 .6 2.5 .6 2.7 .5 2.1 .6 1.9 .6 1.2 .5 .8 .6 .6 .6 .4 .5 1.2 .6 1.1 .6 1.2 .5 .7 .6-.2 .6-.4 .6-.5 .5-.6 .6-.2 .6 .1 .5-.2 .6 .1 .6 .1 .5 .1 .6 .5 .6-.1 .5 .1 .6-.2 .6-.4 .6 0 .5-.1 .6 0 .6 .2 .5 .5 .6 .3 .6 .3 .5 .2 .6-.4 .6 .5 .5 .1 .6-.1 .6 .2 .6-.5 .5 0 .6 .3 .6 .1 .5 .2 .6-.2 .6-.6 .5-.5 .6-.7 .6-.5 .6-.4 .5-.3 .6 .4 .6 .1 .5 .1 .6 .5 .6-.3 .5 0 .6-.6 .6-1.4 .5-1.5 .6-2 .6-1.2 .2 .6 .4 .7 .5 1.9 .6 1.8 .6 .8 .5 .8 .6 0 .6 .1 .5 0 .6-.8 .6-.3 .6-1 .5-1 .6-1.4 .5-3.3 .6-4.3 .6-3.7 .3-1.4 .3 .6 .5 3.8 .6 4.7 .6 4.1 .5 2.1 .6 1.1 .6 .3 .6 .1 .5 .2 .6-.3 .6 .2 .5 .2 .6 0 .6 .7 .5 .3 .6 .2 .6 .6 .5 .7 .6 .7 .6 1.1 .6 .4 .5-.5 .6-.2 .6-.6 .5-.4 .6 .2 .6-.4 .5-.1 .6 .4 .6 .3 .5 .4 .6-.2 .6-.8 .5-.7 .6-.6 .6 0 .6 .4 .5 .2 .6 .1 .6-.2 .5-.4 .6-.5 .6-.7 .6 0 .5 .6 .6 .6 .6 1.1 .5 .6 .6-.2 .6-.4 .5-.7 .6-.9 .6-.3 .5 .2 .6 .5 .6 .6 .6 .3 .5-.1 .6-.2 .6-.2 .5 0 .6-.4 .6-.4 .5-.4 .6-.5 .6 .6 .5 .8 .6 .7 .6 1.1 .5 .1 .6 0 .6 0 .6-.7 .5-.2 .6-.4 .6 .1 .5 .1 .6-.3 .6-.3 .6-.5 .5-.1 .6-.2 .5 .4 .6 0 .6-.2 .6 0 .5-.6 .6-.3 .6 0 .5 0 .6 .5 .6 1.1 .6 1.1 .5 1 .6 .4 .6-.4 .5-.9 .6-.6 .6-.6 .5-.4 .6 .3 .6-.2 .5 .1 .6 .3 .6-.1 .5 .2 .6-.1 .6-.1 .6-.4 .5-.6 .6-.6 .6-1.4 .5-.8 .6-1 .6-1 .5 .2 .4 .1 .2 1 .6 1 .5 .8 .6 1 .6 .3 .6 .3 .5 .2 .6 .1 .6 .2 .5 .2 .6 .5 .6 0 .6-.2 .5-.2 .6-.7 .6-.5 .5-.1 .6-.2 .6 .6 .5 .8 .6 .9 .6 .7 .5 0 .6-.3 .6-.4 .5-.1 .6 .4 .6 .2 .6-.2 .5-.2 .6-.3 .6 .2 .5 .7 .6 .6 .6 .1 .5-.6 .6-1.1 .6-1.2 .5-.6 .6 0 .6 .2 .6 .7 .5 .6 .6 .4 .6 .3 .5 .1 .6-.2 .6-.5 .5-.6 .6-.7 .6-.4 .5 .3 .6 .9 .6 1.1 .6 1.3 .5 .7" stroke="#00e000" stroke-width="5.3"/>
<path d="M192.5 1260.2 l.6 0 .5-.5 .6 .3 .6 0 .5 .1 .6 .6 .6-.1 .6 0 .5 .1 .6-.3 .6-.5 .5-.4 .6-.9 .6-.7 .5-.7 .6-.6 .6-.1 .6 .2 .5 .7 .6 .5 .6 .3 .5 .1 .6 .1 .6 .2 .5 .3 .6-.3 .6-.5 .5-.9 .6-.9 .6-.1 .6-.2 .5 .5 .6 1 .6 .2 .5 .9 .6 .4 .6 .2 .5 .5 .6-.1 .6-.3 .5-.7 .6-.8 .6-.6 .6-.1 .5 0 .6-.2 .6-.3 .5-1 .6-.3 .6-.5 .5-.3 .6 .4 .6-.3 .5-.1 .6-.1 .6-.4 .6-.7 .5-.6 .6-1 .6-1 .5-.7 .6-.9 .6-.5 .5-.6 .6-.4 .6-.3 .6-.7 .5 .1 .6-.2 .6-.1 .5 .6 .6 .3 .6 .8 .5 .6 .6 .3 .6 .5 .5 .7 .6 .8 .6 .2 .6 .5 .5-.3 .6 .2 .6 1.3 .5 1.1 .6 1.5 .6 1.1 .5 .5 .6 .4 .6 .6 .6 .3 .5 .3 .6 .7 .5 .2 .6 .1 .6 .2 .6-.7 .5-.7 .6-.6 .6-.6 .5-.5 .6 .2 .6 .2 .6 .3 .5 .6 .6 .1 .6 .3 .5 .6 .6 .3 .6 .5 .5 .1 .6-.7 .6-.5 .5-.2 .6-.1 .6 .3 .6 0 .5-.8 .6-1 .6-1.4 .5-1.2 .6-.7 .6-.4 .5 .1 .6 .7 .6 .7 .5 .7 .6 .4 .6 .3 .5 .5 .6 .7 .6 .6 .6 .3 .5 .2 .6 .1 .6 .2 .5 .3 .6 .5 .6 .1 .5-.2 .6-.5 .6-.6 .6-.4 .5 .1 .6 .4 .6 .6 .5 .4 .6 .1 .6 .1 .5-.1 .6-.1 .6 0 .6-.1 .5 .1 .6-.1 .6-.3 .5 0 .6 0 .6 .2 .5 .5 .6 .1 .6-.3 .5-.1 .6-.2 .6-.4 .5 0 .6 0 .6-.1 .6 .3 .5 .2 .6-.2 .6-.2 .5 .1 .6 0 .6 .3 .5 .1 .6-.1 .6-.4 .6-.1 .5 .2 .6 0 .6 .7 .5 .4 .6 .5 .6 .4 .5-.8 .6-.7 .6-1.2 .6-.6 .5 .4 .6-.2 .6-.2 .5-.6 .6-1.1 .6-.3 .5-.2 .6-.3 .6-1.4 .5-3.8 .6-6.5 .6-9.1 .5-9.9 .7-5.7 .5 3.4 .6 9.3 .5 10.4 .6 7.4 .6 4.3 .5 2.6 .6 1.3 .6 1 .5 .4 .6-.1 .6-.5 .6-.7 .5-.3 .6-.2 .6 .6 .5 .5 .6 .5 .6 .4 .5 .1 .6-.3 .6-.1 .6-.4 .5-.1 .6 .2 .6 .9 .5 .8 .6 .5 .6 .1 .5-.9 .6-1 .6-.7 .5-.4 .6 .3 .6 .8 .5 .4 .6 .4 .6 .2 .6-.4 .5 .1 .6 0 .6 0 .5 .3 .6 .2 .6 .2 .5 .3 .6 .3 .6-.3 .6 0 .5-.5 .6-.5 .6-.3 .5-.8 .6-.7 .6-1.2 .5-1.2 .6-.9 .6-.4 .5 .7 .6 1.3 .6 .9 .5 .5 .6 .7 .6 .3 .6 0 .5 .3 .6-.7 .6-1.1 .5-1.1 .6-2 .6-1.6 .6-.8 .5 .5 .6 1.8 .5 1.6 .6 1.3 .6 .7 .6 .5 .5 .3 .6 .2 .6 .5 .5 .2 .6 2.9 .6 0 .6 0 .5 0 .6 0 .6 0 .5 0 .6 0 .6 0 .5 0 .6 0 .6 0 .5 0 .6 0 .6 0 .6 0 .5 0 .6 0 .6 0 .5 0 .6 0 .6 0 .5 0 .6 0 .6 0 .5 0 .6 0 .6 0 .5 0 .6 0 .6 0 .6 0 .5 0 .6 0 .6 0 .5 0 .6 0 .6 0 .6 0 .5 0 .6 0 .6 0 .5 0 .6 0 .6 0 .5 0 .6 0 .6 0 .5 0 .6 0 .6 0 .5-3.8 .6-.6 .6-.9 .6-1.9 .5-2.3 .7-1.9 .5 1.1 .5 2.8 .6 2 .6 .8 .5 0 .6-.3 .6-.4 .5 .1 .6 .3 .6 .5 .6 1 .5 .9 .6 .8 .6 .6 .5-.3 .6-.4 .6-.7 .6-.4 .5 .3 .6 .5 .6 .5 .5 .3 .6-.2 .6-.9 .5-.8 .6-.8 .6-.6 .5 .5 .6 .4 .6 0 .6 .4 .5-.3 .6-.4 .6 0 .5-.3 .6-.2 .6-.4 .5-.9 .6-1.9 .6-3.6 .5-5.9 .6-10 .6-5.5 .2-.6 .3 1.4 .6 6.4 .6 6.4 .6 6.1 .5 3.7 .6 2.3 .6 1.4 .5 .4 .6 0 .6 0 .5-.3 .6 .8 .6 .9 .6 .4 .5 .3 .6-.7 .6-.4 .5 .5 .6 .4 .6 1 .5 1.1 .6 .1 .6 0 .5-.2 .6-.6 .6 .1 .5 .3 .6-.3 .6 .4 .6-.1 .5-.1 .6 .6 .6-.3 .5-.6 .6-.3 .6-.7 .5-.2 .6 .3 .6 0 .6 .3 .5 .6 .6 .4 .6 .2 .5-.1 .6-.7 .6-.3 .5 .2 .6 .7 .6 .9 .6 .4 .5 0 .6-.6 .6-.7 .5-.6 .6-.8 .6-.1 .5-.4 .6-.1 .6 .1 .5-.1 .6 .4 .6 .6 .5 .5 .6 0 .6-.9 .6-1.3 .5-1.7 .6-2 .6-1.6 .5-.8 .6 .5 .6 1.5 .5 1.6 .6 1.6 .6 1.4 .6 1.1 .5 .7 .6-.1 .6-.4 .5-.1 .6-.4 .6-.1 .5 0 .6-.6 .6-.3 .6-.1 .5 .3 .6 .9 .6 .7 .5 .2 .6-.6 .6-1.3 .5-1.6 .6-1.3 .6-.7 .3 .3 .2 .5 .6 .7 .6 .9 .5 .5 .6 .4 .6 .4 .6 0 .5 0 .6-.1 .6-.1 .5 .4 .6 .6 .6 .8 .5 .6 .6 .1 .6-.3 .6-.6 .5-.4 .6-.6 .6 0 .5 .1 .6-.4 .6-.2 .5-1.1 .6-1.6 .6-.9 .5-.6 .6 .6 .6 1.3 .6 1.1 .5 1.1 .6 .8 .6 .6 .5 0 .6-.2 .6-.2 .5-.5 .6 .1 .6-.5 .5-.8 .6-.3 .6-.6 .6 .2 .5 .7 .6 .4 .6 .4 .5 .2 .6 .1 .6 .4 .5 .4 .6-.2 .6-.4 .6-.3 .5 0 .6 .9 .6 .9 .5 .6 .6-.1 .6-.9 .5-1.3 .6-.9 .6-.5 .6 .5 .5 .6 .6 .5 .5 .6 .6 .1 .6 .4 .6-.2 .5-.4 .6-.5 .6-.6 .5 .3 .6 .4 .6 .8 .5 .2 .6 .1 .6 0 .6-.3 .5 .1 .6-.3 .6-.5 .5-.1 .6-.2 .6-.3 .5 .2 .6 0 .6 .1 .6 .4 .5 .4 .6 .5 .6 .5 .5 .3 .6-.2 .6-.6 .5-.7 .6-.6 .6 0 .5 .5 .6 .3 .6 .5 .6 .3 .5 0 .6 .4 .6-.2 .5-.5 .6-.5 .6-.4 .5 .1 .6 .1 .6 .3 .6 .2 .5-.3 .6-.1 .5-.2 .6 0 .6 .3 .6 .2 .5 .3 .6 0 .6 .2 .5 .2 .6 .2 .6 .2 .6-.2 .5-.4 .6-.4 .6-.4 .5-.2 .6-.1 .6 .4 .5 .6 .6 .8 .6 .6 .5-.2 .6-.5 .6-.7 .5-.8 .6-.2 .6-.2 .6 .1 .5 .2 .6 .1 .6-.2 .5-.1 .6 0 .6 0 .5 .4 .6 .3 .6 .1 .5 0 .6-.3 .6-.5 .6-.6 .5-.5 .6-.5 .6 0 .5 .5 .6 .5 .6 .6 .6 .4 .5-.1 .6-.5 .5-1.2 .6-2.2 .6-2.9 .6-2.4 .3-.9 .2-.3 .6 1.7 .6 2.1 .5 2.5 .6 1.9 .6 1.3 .6 1 .5 .3 .6 .3 .6 .4 .5 .3 .6 .1 .6 0 .5-.3 .6-.1 .6-.5 .5-.5 .6-.5 .6-.4 .5 .2 .6 0 .6 .4 .6 .1 .5-.2 .6 .2 .6-.1 .5-.1 .6 0 .6-.1 .6-.4 .5-.3 .6-.1 .5-.1 .6 .3 .6 .2 .6 0 .5 0 .6-.2 .6 .2 .5 .5 .6 .3 .6 .1 .5 0 .6-.8 .6-.1 .6 0 .5-.3 .6 .3 .6-.5 .5-.8 .6-.8 .6-1.4 .6-.8 .5 .2 .6 1.1 .5 1.4 .6 1.3 .6 1.1 .6 .5 .5 .4 .6 .1 .6 0 .5-.1 .6 .1 .6 .1 .5 .5 .6 .1 .6-.3 .5-.6 .6-1.2 .6-.8 .6-.7 .5-.2 .6 .4 .6 .4 .5 .5 .6 .7 .6 .4 .6 .3 .5 .7 .6 .1 .6 .1 .5-.1 .6-.5 .6-.7 .5-1 .6-1 .6-1.8 .5-1.5 .6-1 .6-1.4 .5-.5 .6-.5 .6-1.4 .6-1.3 .5-1.9 .6-2.5 .6-2.1 .5-2.2 .6-.4 .6-1.3 .5-.8 .5-.2 .7 .4 .5 1 .6 1.4 .6 2.3 .6 1.1 .5 1 .6 1.7 .6 2.1 .5 2.4 .6 2.1 .6 1.4 .5 .9 .6 .7 .6 .9 .6 .7 .5 1 .6 .5 .6-.5 .5-.5 .6-1.4 .6-.7 .5 .4 .6 .6 .6 1.5 .5 1.1 .6 .2 .6 0 .6-.2 .5-.1 .6 0 .6 .6 .5 .1 .6 .1 .6 .3 .5-.8 .6-.7 .6-.9 .5-.8 .6-.1 .6 .3 .6 .5 .5-.3 .6-.5 .6-.9 .5-1.8 .6-2 .6-4.2 .5-8.9 .6-16.3 .6-26.9 .6-33.9 .7-26.7 .4 8.3 .6 31.1 .5 32.3 .6 23 .6 12.9 .5 6.3 .6 3.6 .6 1.9 .5 .7 .6 .6 .6 .4 .6 .4 .5 .7 .6 1.2 .6 .5 .5 .4 .6 .1 .6-.5 .5 0 .6 .1 .6 .3 .5 .3 .6 .2 .6-.1 .5-.2 .6 .1 .6-.2 .6 .1 .5 .1 .6 0 .6 .3 .5-.1 .6 0 .6-.2 .6-.3 .5 .1 .6 .2 .6 .5 .5 .5 .6 .1 .6 .3 .5-.2 .6-.2 .6 .2 .5-.4 .6-.1 .6-.4 .6-.5 .5-.5 .6-.2 .6 .2 .5-.1 .6-.2 .6-.8 .5-1.7 .6-2.7 .6-4 .5-4.7 .7-2.9 .5 2.5 .6 5 .5 4.1 .6 2.2 .6 1 .5 .5 .6 0 .6 0 .5-.1 .6 .4 .6 .3 .6 .8 .5 .6 .6-.3 .6-.4 .5-.9 .6-.8 .6 .3 .5 .8 .6 .8 .6 .9 .5 .1 .6-.2 .6 .2 .6-.3 .5 .1 .6 .4 .6-.4 .5 .1 .6-.2 .6-.8 .5-.1 .6-.4 .6-.2 .5 .2 .6-.3 .6 .1 .5 .2 .6-.1 .6 .4 .6-.2 .5-1.2 .6-1.3 .6-1.5 .2-.9 .3 .1 .6 .8 .6 1.7 .6 1.4 .5 1 .6 1.3 .5 .5 .6 .6 .6 .3 .6-.6 .5-.1 .6-.1 .6 .2 .5 .7 .6 .5 .6 .4 .6-.3 .5-.8 .6-.8 .6-.8 .5-.6 .6 0 .6 0 .5-.2 .6 .6 .6 .3 .5 .2 .6 .1 .6-1.5 .6-2.6 .5-3.3 .6-3.1 .5-.8 .6 2.3 .6 3.9 .6 3.7 .5 2.6 .6 1.3 .6 0 .5-.6 .6-1.2 .6-.8 .5-.3 .6-.1 .6 .6 .6 .4 .5 .5 .6 .4 .6-.1 .5-.3 .6-.2 .6-.9 .6-.2 .5-.1 .6-.2 .5 .8 .6 .3 .6-.1 .6 .1 .5-.4 .6-.3 .6 .3 .5-.6 .6-.8 .6-.6 .2-1.4 .3 0 .6 .2 .6 .5 .6 1.3 .5 .1 .6 .4 .6 .4 .5 .2 .6 .1 .6 0 .5-.3 .6-.7 .6-.2 .5 .2 .6 .1 .6 .3 .6-.3 .5-.5 .6-.4 .6 .3 .5 .8 .6 .7 .6 1 .5 0 .6 0 .6 .2 .5-.2 .6 .1 .6-.1 .6-.1 .5 .1 .6 .2 .6-.2 .5-.7 .6-1 .6-1.2 .6-.4 .5-.1 .6 .2 .6 .4 .5 0 .6 0 .6-.5 .5-1.7 .6-2.9 .6-3.5 .7-2.7 .4 1.2 .6 3.1 .5 3.9 .6 2.7 .6 .9 .6 .8 .5-.3 .6 .3 .6 .4 .5-.5 .6-.7 .6-1.1 .5-1.3 .6-1.1 .6-1.2 .5-1.1 .3-.2 .3-.6 .6 1.1 .6 1.4 .5 1.4 .6 1.5 .6 .7 .5 .5 .6 .7 .6 .1 .5 .3 .6 .2 .6-.7 .6 .2 .5-.4 .6-.5 .6 .1 .5-.9 .6-.7 .6-.7 .5-.4 .6-.1 .6 .4 .5 .3 .6 0 .6 .2 .6-.1 .5-.7 .6-.5 .6-.9 .5-.6 .6 .3 .6 .2 .5 .3 .6 0 .6-.6 .5-.9 .6-1.5 .6-2.9 .6-4 .5-4.6 .7-3.5 .5 .8 .5 2.9 .6 3.6 .6 2.9 .5 1.1 .6 .7 .6-.2 .6-.6 .5-.9 .6-1.3 .6-2 .5-3.3 .6-7.5 .6-22.5 .5-57.9 .6-113.6 .6-163.9 .5-158 .5-63.3 .7 42.7 .6 88.1 .5 68.4 .6 55.8 .6 71.2 .5 90.5 .6 80.3 .6 48.7 .5 19 .7 5.6 .5 4.8 .5 7.5 .6 6.8 .6 3.8 .6 1.4 .5 .3 .6-.3 .6-.4 .5 .5 .6 .9 .6 .6 .5 1 .6 .5 .6-.3 .6 0 .5 0 .6-.2 .6 .9 .5 1.1 .6 1.3 .6 1.2 .5 .3 .6-.2 .6-.8 .5-.8 .6-.7 .6-1 .6-1.8 .5-2.7 .6-1.7 .2 0 .4 1.1 .5 3.2 .6 2.2 .6 1.8 .5 1.1 .6 .9 .6 1.1 .5 .2 .6-.2 .6-.9 .6-.7 .5-.4 .6-.4 .6 .5 .5-.2 .6 0 .6-.2 .5-1.1 .6-2 .6-4.3 .6-9.5 .5-9.6 .6-7.7 .3-1.4 .3 1 .5 7.5 .6 9.8 .6 9 .5 5.4 .6 3.2 .6 1.5 .5 .6 .6 .5 .6 .1 .6 .2 .5 .4 .6 .4 .6 .5 .5 .5 .6 .2 .6 .2 .5-.1 .6-.1 .6-.1 .5-.3 .6-.5 .6-.4 .5-.5 .6-.2 .6 .4 .6 .3 .5 .8 .6 .3 .6-.4 .5-.3 .6-.7 .6-.1 .6 .1 .5-.2 .6-.1 .6-.5 .5 .3 .6 .7 .6 .5 .5 .9 .6-.6 .6-1 .5-.3 .6-.9 .6 .2 .6 .8 .5-.5 .6-.1 .6-1 .5-1.2 .6-.8 .6-1.4 .5-3.3 .6-8.5 .6-17.3 .5-26.1 .6-24.6 .3-4.3 .3 4 .6 24.4 .5 26.2 .6 16.1 .6 9.1 .5 4 .6 2.2 .6 1.2 .5 1.1 .6 1.3 .6 .7 .6 .3 .5 .1 .6-.4 .5 0 .6 0 .6 .1 .6-.4 .5-.4 .6-.4 .6 .1 .5 .5 .6 .4 .6 .5 .6 0 .5 0 .6 .4 .6 .1 .5 .2 .6 .4 .6-.1 .5-.3 .6-.7 .6-1.1 .5-1.5 .6-1.6 .6-.9 .3-.1 .2 .4 .6 .8 .6 .8 .6 .7 .5 .1 .6 .4 .6 .6 .5 .2 .6 .6 .6 .4 .5 .3 .6 .5 .6 .1 .5-.2 .6-.1 .6-.4 .6-.2 .5 0 .6-.2 .6-.3 .5-.1 .6 .3 .6 .5 .6 .3 .5-.4 .6-1.2 .5-1.2 .6-1.1 .4 .2 .8 .5 .5 .4 .6 .2 .6 .1 .5 1 .6 1 .6 1.1 .6 .8 .5-.2 .6-.3 .6-.3 .5-.6 .6-.2 .6-.6 .5-.5 .6-.2 .6-.4 .5 .1 .6 0 .6 0 .5 .5 .6 .6 .6 .8 .6 .9 .5 .1 .6-.4 .6-.4 .5-1.2 .6-.2 .6-.1 .5-.5 .6 .1 .6-.3 .5-.6 .6 0 .6-.1 .6-.7 .5-.8 .6-.8 .6-.2 .5 .5 .6 .6 .6 .5 .5 .5 .6 .8 .6 .8 .6 .9 .5 .8 .6 .3 .6 0 .5-.3 .6-.4 .6-.8 .5-.5 .6-.7 .6-.4 .5 .6 .6 .2 .6 .5 .6 .7 .5 .3 .6 .4 .6 .3 .5-.3 .6-.2 .6-.4 .5 0 .6 0 .6 0 .5-.1 .6-.4 .6-.2 .6-.3 .5 .2 .6 .4 .6 .4 .5 .5 .6 .1 .6 0 .6 .3 .5 0 .6-.1 .6-.5 .5-.8 .6-.4 .6-.1 .5 .2 .6 .5 .6 .2 .5 0 .6 0 .6-.4 .5-.3 .6-.4 .6-.7 .6-.2 .5 0 .6 .4 .6 .8 .5 .4 .6 .7 .6 .5 .5 .1 .6 .3 .6-.4 .5-.7 .6-.2 .6-.2 .6-.1 .5 .5 .6 .2 .6 .3 .5 .9 .6 0 .6 0 .5-.4 .6-.3 .6 .1 .6 .2 .5 .5 .6 .2 .6 0 .5-.2 .6-.2 .6-.5 .5 .2 .6-.1 .6-.1 .5 .4 .6 0 .6 .7 .6 .7 .5 .7 .6 .7 .6-.1 .5-.3 .6-.9 .6-1.2 .5-.9 .6-1 .6-.6 .5-.1 .6-.3 .6 .1 .6 .1 .5 0 .6 .4 .6 .7 .5 .7 .6 .7 .6 0 .5-.5 .6-.9 .6-.7 .6-.4 .5 .1 .6 .4 .6 .4 .5 .4 .6 .4 .6 .4 .5 .2 .6 0 .6-.5 .5-.5 .6-.6 .6-.2 .6 .5 .5 .3 .6 .6 .6 .1 .5-.5 .6-.5 .6-.5 .5-.1 .6 .4 .6 .3 .5 .2 .6 0 .6-.4 .5-.2 .6 0 .6 0 .6 .4 .5 .5 .6 0 .6-.4 .5-.7 .6-.9 .6-.3 .6 0 .5 .4 .6 .2 .6-.5 .5-.5 .6-1 .6-.9 .5-.5 .6-1.1 .6-1.4 .5-1.2 .6-1.3 .6-.9 .5-.8 .6-.7 .7-.7 .5 0 .5 .6 .6 .6 .6 .5 .5 .2 .6 .5 .6 .6 .5 1.3 .6 .5 .6-.6 .6-1.2 .5-1.6 .6-.9 .6-.7 .5-.6 .6-1.4 .6-1.9 .5-2.9 .6-1.6 .6-1 .6-.4 .5 .4 .6 1 .6 2.9 .5 2.2 .6 2.5 .6 1.7 .5 1.8 .6 2 .6 1.7 .5 1.6 .6 1.6 .6 .9 .5 .4 .6 .5 .6 0 .6-.1 .5 .2 .6-.2 .6-.1 .5-.1 .6-.3 .6 .2 .5 .4 .6 .9 .6 .7 .5 .7 .6 0 .6-.6 .6-.2 .5-.2 .6 .6 .6 1.2 .5 .6 .6 .1 .6-.7 .6-1.3 .5-.8 .6-.3 .6 0 .5 .3 .6 .5 .6 .2 .5 .7 .6 .7 .6 .2 .5 .2 .6-.4 .6-.8 .5-1.2 .6-2.1 .6-2.4 .5-1.3 .6 .1 .6 1.3 .6 1.7 .5 1.3 .6 .7 .6 .5 .5 .3 .6 .1 .6 .5 .6 .1 .5-.2 .6-.4 .6-.6 .5-.5 .6-.3 .6-.3 .5-.4 .6-.2 .6-.3 .5 .2 .6 .1 .6-.5 .6-1.6 .5-4.6 .6-8.8 .6-12.1 .5-13.6 .6-6.8 .6 6.8 .5 13.6 .6 11.8 .6 7.7 .5 3.9 .6 1.6 .6 .9 .5 1 .6 1.2 .6 1.6 .6 1.7 .5 1.2 .6 .5 .6-.1 .5-.5 .6-1 .6-1 .5-.7 .6-.9 .6-.1 .6 .3 .5-.1 .6 .5 .6 .1 .5-.1 .6 .2 .6-.5 .5-.3 .6 .2 .6 .2 .6 .7 .5 .5 .6 .5 .6 .2 .5 .3 .6 0 .6-.5 .5-.4 .6-.8 .6-.5 .5 .1 .6 .3 .6 .4 .5 .4 .6-.3 .6-.8 .6-1.3 .5-1.7 .6-1.5 .6-1.3 .5-.7 .6-.2 .6 .6 .6 .7 .4 .7 .7 .5 .6 .1 .5 .1 .6 0 .6 .1 .5 .3 .6 .4 .6 .7 .5 1.2 .6 .9 .6 .5 .6 .1 .5-.3 .6 .6 .6 .6 .5 .6 .6 .1 .6-.9 .5-.7 .6-.5 .6 .1 .5 .2 .6 .2 .6 0 .5 0 .6 .3 .6 .2 .6 .1 .5-.1 .6-.3 .6 0 .5 .3 .6 .1 .6 .3 .5-.2 .6-.1 .6 .2 .6-.4 .5 .1 .6-.6 .6-.7 .5-.3 .6-.6 .6 .1 .5 .3 .6 .3 .6 .6 .6 .3 .5 .1 .6 .2 .6-.3 .5 0 .6-.1 .6-.2 .5 .2 .6 .1 .6 0 .5 .1 .6 .1 .6-.2 .5 .4 .6 .8 .6 .4 .6 .5 .5 0 .6-.6 .6 0 .5-.3 .6 .1 .6 0 .5-.5 .6 .1 .6-.3 .6-.3 .5-.1 .6-.1 .6-.2 .5-.1 .6 .2 .6-.5 .5-.3 .6-.1 .6-.8 .6-.6 .5-1.4 .6-2.9 .5-5 .6-8.1 .6-9.2 .7-7.2 .4 3 .6 9.4 .6 9.9 .5 6.7 .6 3.5 .6 2 .5 1 .6 .1 .6 .2 .6 0 .5-.1 .6 .5 .6 .5 .5 .2 .6 .1 .6-.3 .5-.8 .6-.3 .6 .2 .6 .6 .5 1.3 .6 .6 .6-.2 .5-.7 .6-1.3 .6-.5 .5-.1 .6 .5 .6 .6 .5 .6 .6 .8 .6 .5 .5 .1 .6-.2 .6-.8 .6-1.4 .5-1.1 .6-2.3 .6-3.6 .5-3.9 .7-3.1 .5 2 .5 4.8 .6 3.4 .6 2.6 .6 1.2 .5 0 .6 .5 .6-.2 .5-.3 .6 0 .6-.4 .5-.3 .6 .2 .6 .2 .6 .2 .5 .2 .6-.1 .6-.2 .5 .2 .6-.1 .6 .2 .5 .2 .6-.3 .6 .6 .5 .1 .6 0 .6 .7 .5 .1 .6 .3 .6 0 .6-.7 .5-.9 .6-.1 .6 .1 .5 1 .6 .7 .6-.2 .5-.4 .6-1 .6-.2 .5 .2 .6 .2 .6 .5 .6-.5 .5-.2 .6-.1 .6-.3 .5 .6 .6 .3 .6 .4 .6 .4 .5-.4 .6 .1 .6 0 .5 .1 .6 .3 .6 0 .5-.4 .6-.1 .6-.3 .5-.6 .6-.4 .6-.7 .5-.3 .6 .1 .6-.1 .6 .2 .5-.3 .6-.5 .6 .1 .5 .1 .6 .5 .6 .7 .5 .1 .6 0 .6-.4 .6-.1 .5 0 .6 0 .6 .6 .5 .3 .6 .1 .6 .2 .5-.6 .6-.2 .6 .3 .6 .5 .5 1 .6 .5 .6 0 .5-.3 .6-.3 .6 .4 .5 0 .6 0 .6-.8 .5-.9 .6-.6 .6-.7 .5 .2 .6-.4 .6-.2 .6-.5 .5-1.3 .6-2.4 .6-5 .5-9.4 .6-7.7 .4-2.2 .7 6.5 .6 8.1 .6 5.7 .5 3.5 .6 2.1 .6 1 .6 .6 .5 .3 .6-.2 .6 .5 .5 1 .6 1.2 .6 1.4 .5 .8 .6-.2 .6 0 .6-.3 .5 0 .6 .3 .6-.4 .5-.1 .6-.4 .6-.1 .5 .2 .6-.1 .6 .4 .5-.2 .6 .1 .6 .3 .5-.1 .6 .2 .6-.2 .6-.5 .5-.5 .6-.4 .6-.2 .5-.3 .6 .3 .6 .2 .6 0 .5 .5 .6 .2 .6 .2 .5 .5 .6 .6 .6 .5 .5 .4 .6-.5 .6-1.2 .5-1.1 .6-.6 .6 .3 .6 .8 .5 .8 .6 .4 .6-.5 .5-.4 .6-.7 .6-1.1 .5-.3 .6-.6 .6-.4 .5 .3 .6 .2 .6 .6 .5 .8 .6 .5 .6 .4 .6 .3 .5 0 .6 0 .6-.3 .5-.5 .6-.1 .6 0 .5 .6 .6 1 .6 .5 .6 .4 .5 0 .6-.6 .6-.5 .5-.8 .6-.3 .6 0 .5 .1 .6 .4 .6 .3 .6 1 .5 .9 .6 .5 .6 .4 .5-.5 .6-.9 .6-.9 .5-1.2 .6-1.2 .6-.1 .5 .7 .6 1.1 .6 1.3 .5 .4 .6-.3 .6-.7 .6-.5 .5-.2 .6 0 .6 .3 .5-.1 .6-.7 .6-1 .5-1.3 .6-.9 .6-.2 .6 .4 .5 .8 .6 .7 .6 .8 .5 .9 .6 .7 .6 .5 .5 .1 .6-.3 .6-.8 .6-.5 .5-.6 .6-.1 .6 .1 .5-.3 .6-.7 .6-1.2 .5-.8 .6-.8 .6-.2 .5 .1 .6-.7 .6-.5 .5-.5 .6-.5 .6-.3 .6-.7 .5-.8 .6-.3 .6-.2 .5 .4 .4 .4 .8-.1 .5 .2 .6 .2 .6 .4 .6 1 .5 1.7 .6 1.5 .6 1.4 .5 .8 .6-.4 .6-.3 .5-.7 .6-.1 .6 .3 .6 .3 .5-.2 .6-1.7 .5-3.7 .6-5.7 .6-5.7 .3-.9 .3 1.3 .5 5.3 .6 6.3 .6 3.7 .5 1.3 .6 .6 .6 .3 .5 .5 .6 .4 .6 .1 .6-.5 .5-.5 .6 .2 .6 .1 .5 .2 .6 .3 .6-.5 .5-.4 .6 .2 .6 .2 .6 .9 .5 1 .6 .4 .6-.2 .5-.6 .6-.8 .6-.7 .5 .1 .6 0 .6 .3 .5 .5 .6 .1 .6 .2 .5 .2 .6 .1 .6 0 .6-.1 .5-.5 .6-.4 .6-.3 .5 .1 .6 .7 .6 .4 .5 .4 .6-.2 .6-1 .5-.4 .6-.3 .6-.1 .6 .2 .5-.4 .6-.2 .6 .3 .5 .7 .6 .9 .6 .6 .6 .4 .5 .4 .6 .5 .6 .5 .5-.1 .6-.7 .6-1 .5-.8 .6-.3 .6 .2 .5 .2 .6 .1 .6 .5 .5-.1 .6 .5 .6 .4 .6 .1 .5 .3 .6-.1 .6 0 .5 .1 .6-.4 .6-.5 .5-.8 .6-.8 .6-.3 .6-.1 .5 .6 .6 .3 .6 .4 .5 .5 .6-.1 .6 .5 .5 .2 .6-.3 .6 .1 .6-.7 .5-.5 .6 0 .6-.2 .5 0 .6 0 .6 .3 .5 .6 .6 .6 .6 .6 .5-.4 .6-.9 .6-1.1 .5-.7 .6 .2 .6 .8 .6 .9 .5 .5 .6 .1 .6-.3 .5-.1 .6-.2 .6-1 .5-1.2 .6-1.6 .6-1 .3 .2 .2 .3 .6 1.2 .6 1 .6 .5 .5 1 .6 .2 .6 .1 .5 .5 .6-.2 .6-.5 .5-.2 .6-.5 .6-.2 .6 .5 .5 .1 .6 .3 .6-.5 .5-.4 .6 .2 .6-.6 .5 .6 .6-.1 .6-.6 .5 0 .6-.7 .6-.3 .6 .1 .5 .3 .6 .8 .6 .5 .5 .9 .6 .8 .6 .1 .5 .2 .6-.5 .6-.9 .6-.4 .5-.2 .6 .1 .6 .7 .5 .5 .6 .4 .6 .5 .5 0 .6 .2 .6-.2 .5-.5 .6-.4 .6-.9 .6-.6 .5-.4 .6 0 .6 .3 .5 .4 .6 .1 .6-.1 .5-.3 .6-.4 .6 .2 .5 0 .6 .3 .6 .4 .5-.4 .6 0 .6-.2 .6-.2 .5 .4 .6 .2 .6 .5 .5 .3 .6 .1 .6 .4 .5 .1 .6 .3 .6 .2 .6-.3 .5-.4 .6-.5 .6-.5 .5-.2 .6 0 .6-.1 .5-.1 .6-.2 .6-.4 .6-.5 .5-.2 .6-.4 .6-.3 .5 0 .6-.4 .6-.3 .5-.7 .6-1.9 .6-4.2 .5-8.4 .6-14.2 .6-20.7 .5-20.9 .5-7.1 .7 15.1 .6 22.2 .5 18.2 .6 11.2 .6 6 .5 3.2 .6 1.7 .6 1 .6 .4 .5-.3 .6-.2 .6 0 .5 .5 .6 .5 .6 .1 .5 .4 .6-.1 .6 .1 .5 .6 .6-.3 .6-.4 .6-.4 .5-.6 .3 .1 .3 .6 .6 .8 .5 .7 .6 .4 .6 .1 .5-.6 .6-.1 .6 0 .5 0 .6 .7 .6 .6 .5 .2 .6 0 .6-.4 .6-.9 .5-.4 .6-.2 .6 .1 .5 .6 .6 .2 .6 .2 .5-.1 .6-.6 .6-.8 .6-.8 .5-.9 .5-.7 .7 .2 .5 .6 .6 .9 .6 1.1 .5 .7 .6 .1 .6 .2 .6 0 .5 .3 .6 .3 .6 0 .5-.1 .6-.2 .6-.2 .5-.1 .6-.2 .6-.3 .5 0 .6 0 .6 .2 .5 .7 .6 .4 .6 .3 .6 .3 .5-.7 .6-.5 .6 0 .5 .2 .6 .6 .6 0 .5-.8 .6-1.5 .6-1.5 .6-.8 .5-.2 .6 .5 .6 .5 .5 .6 .6 1 .6 .4 .5 .5 .6 .4 .6-.4 .6-.2 .5-.4 .6-.7 .5-.1 .6-.1 .6 .1 .6 .5 .5 .4 .6 .3 .6 .3 .5-.2 .6-.2 .6-.1 .5-.5 .6 .1 .6 .1 .6-.1 .5 .2 .6-.4 .6-.3 .5 .1 .6 .1 .6 .5 .5 .7 .6 .5 .6 .3 .6 .1 .5 .1 .6-.1 .6 .3 .5-.3 .6-.8 .6-.5 .5-.6 .6 .3 .6 .8 .5 .8 .6 .7 .6-.3 .5-.2 .6-.2 .6-.3 .6 .1 .5-.2 .6 .1 .6-.1 .5 .1 .6-.6 .6-.8 .5-.3 .6-.1 .6 .8 .6 .9 .5 .9 .6 .2 .6 .1 .5-.2 .6-.6 .6-.4 .5-.7 .6-.7 .6-.1 .6-.3 .5-.2 .6 0 .6-.1 .5 .4 .6 .6 .6 .8 .5 .7 .6 .6 .6 .1 .5-.3 .6-.2 .6-.1 .5 .1 .6 .4 .6 .2 .6-.2 .5-.5 .6-.8 .6-.7 .5-.2 .6 .3 .6 .4 .5 .5 .6 .2 .6-.3 .5-.4 .6-.4 .6-.2 .6 .2 .5-.1 .6-.4 .6-.1 .5-.5 .6 .5 .6 1.2 .6 .6 .5 .6 .6-.5 .6-1 .5-.4 .6-.2 .6 .1 .5 .1 .6-.2 .6-.4 .5-.2 .6 .1 .6 .3 .5 .2 .6 .3 .6 .1 .6-.1 .5 .1 .6-.3 .6-.7 .5-.6 .6-.8 .6-.3 .5 .4 .6 .8 .6 1.1 .6 1.1 .5 .4 .6-.2 .6-.5 .5-.9 .6-.7 .6-.7 .5-.2 .6-.7 .6-.7 .5-.5 .6-.8 .6 .1 .6-.1 .5-1.8 .6-3.6 .6-5.4 .6-3.7 .5 1.7 .6 4.6 .5 4.5 .6 3.3 .6 1.3 .5 .9 .6 .5 .6 .5 .6 1.1 .5 .7 .6 .7 .6 .3 .5-.4 .6-.1 .6-.2 .5 .2 .6 .1 .6 0 .5-.8 .6-2 .6-2.7 .6-3.5 .7-2.6 .4 .2 .6 1.8 .5 2.6 .6 2.6 .6 1.8 .5 1.3 .6 .6 .6-.4 .6-.4 .5-.1 .6 .2 .6 .7 .5 .8 .6 .3 .6 .1 .5 .2 .6 .1 .6 0 .5 .2 .6 .1 .6-.2 .5 0 .6-.5 .6-1.1 .6-.6 .5-.6 .6-.4 .6 .4 .5 .5 .6 .6 .6 .8 .6 .9 .5 .1 .6-.2 .6-.4 .5-.6 .6-.4 .6 0 .5 .1 .6-.5 .6-.2 .5 0 .6-.2 .6 .6 .6 .7 .5 .1 .6 .4 .6 .3 .5-.1 .6 0 .6-.2 .5-.5 .6-.8 .6-.6 .5-.3 .6-.3 .6 .2 .5 0 .6-.4 .6-.2 .6-.1 .5 .2 .6 .7 .6 .5 .5 .6 .6 .5 .6 .4 .5-.1 .6-.4 .6-.5 .6-.9 .5-.4 .6-.3 .6 .1 .5 .6 .6 .8 .6 1 .5 .5 .6 .3 .6-.3 .6-.6 .5-.4 .6-.3 .6-.2 .5 .1 .6 .2 .6 .2 .5 .3 .6 .1 .6-.4 .5 .1 .6-.3 .6 .3 .5 .4 .6-.6 .6-.5 .6-1.1 .5-.9 .6 .2 .6 .3 .5 .5 .6 1 .6 .5 .5 .3 .6 .4 .6-.1 .6-.3 .5-.2 .6-.4 .6-.4 .5-.1 .6 .1 .6 .3 .5 .2 .6-.4 .6-.1 .6-.2 .5 .4 .6 .8 .5 .3 .6 .1 .6-.1 .6-.6 .5-.3 .6-.1 .6-.2 .5 .2 .6 .3 .6 .3 .5 .3 .6-.5 .6-.3 .6-.4 .5-.8 .6 .6 .6 .3 .5 .4 .6 1.4 .6 .5 .5 .3 .6 .3 .6-.5 .6-.3 .5 .3 .6 .3 .6 .3 .5 .1 .6-.7 .6-.6 .5-.7 .6-.2 .6 .1 .5 0 .6 .5 .6 .3 .5 .5 .6 .3 .6-.5 .6-.5 .5-1.1 .6-.6 .6-.2 .5-.2 .6 .2 .6 0 .5 .1 .6-.2 .6-.1 .6 .2 .5 .3 .6 .6 .6 .9 .5 .5 .6 .3 .6-.1 .5-.8 .6-.7 .6-.7 .6-.3 .5 .3 .6 .2 .6 .6 .5-.2 .6-.6 .6-.5 .5-.9 .6-.4 .6 0 .5 0 .6 .4 .6 .1 .5-.2 .6-.1 .6-.2 .6 .4 .5 .8 .6 .4 .6 .5 .5 .2 .6 .4 .6 .7 .5 .3 .6 .1 .6-.2 .5-.8 .6-.2 .6 .2 .6-.5 .5 .5 .6 .4 .6-.1 .5 .5 .6 .3 .6-.4 .6 0 .5-.4 .6-.4 .6-.3 .5-.4 .6-.3 .6-.9 .5-.6 .6-.5 .6-.9 .5-.7 .6-1.9 .6-3.9 .5-6.9 .6-9.1 .6-12.3 .6-6.9 .5 5.3 .6 12.2 .6 10.8 .5 7 .6 3.8 .6 2 .5 .8 .6 .6 .6 .3 .6 .5 .5 .6 .6 .9 .6 .8 .5 .5 .6 .4 .6-.3 .5-.3 .6-.6 .6-.6 .6 .1 .5 .1 .6 .8 .6 .6 .5-.1 .6-.4 .6-.5 .5-.3 .6 .1 .6 .4 .5 .1 .6 .2 .6 0 .5-.1 .6-.1 .6-.5 .6-.8 .5-.8 .6-.6 .6-.1 .5 .3 .6 .2 .6 .5 .5 0 .6 .4 .6 .6 .5 .1 .6 .3 .6-.2 .6-.5 .5-.1 .6-.3 .6-.3 .5 .4 .6 .5 .6 .7 .5 1.5 .6 .8 .6 .4 .6 0 .5-.9 .6-.5 .6-.6 .5 0 .6 .1 .6-.4 .5 0 .6-.6 .6-.3 .5 0 .6-.4 .6-.1 .6-.2 .5-.2 .6-.4 .6-.5 .5-.7 .6-.7 .6-.3 .5-.2 .6-.1 .6-.1 .6 0 .5-.5 .6 0 .6-.5 .5-.7 .6 .1 .6-.3 .5 .2 .5 .6 .7-.2 .5 .2 .6 .2 .6-.2 .6 .1 .5 .3 .6 .4 .6 .6 .5 .9 .6 .5 .6 .6 .5 .1 .6 .2 .6 .3 .5-.1 .6 .1 .6 .2 .5 .5 .6 .9 .6 .8 .6 .4 .5-.2 .6-.6 .6-.9 .5-.9 .6-.8 .6-.2 .5 .5 .6 .6 .6 .7 .6 .5 .5 0 .6 .3 .6 .6 .5 .4 .6 .3 .6-.6 .5-1 .6-.7 .6-.3 .6 .4 .5 .5 .6 .2 .6-.2 .5-.2 .6 0 .6 .1 .5 .5 .6 0 .6-.1 .5-.2 .6-.2 .6 0 .5 .1 .6 .3 .6 .4 .6 .3 .5 0 .6-.6 .6-.9 .5-.8 .6-1.1 .6 0 .6 .4 .5 .6 .6 1.7 .6 .7 .5 .2 .6 .2 .6-1 .5-.1 .6 .2 .6 .2 .5 .7 .6-.1 .6-.4 .6-.4 .5-.4 .6-.5 .6-.1 .5-.2 .6 .1 .6 .5 .5-.3 .6 0 .6-.5 .5-.8 .6 .3 .6 .1 .5 .8 .6 1 .6 .3 .6 .2 .5-.4 .6-.6 .6-.2 .5-.4 .6-.3 .6 .3 .5-.1 .6 .6 .6 .6 .6 .3 .5 .1 .6-.4 .6-.3 .5-.7 .6-.3 .6-.3 .5-1.2 .6-1 .6-1.4 .6-1.7 .3 0 .2 .5 .6 1.1 .5 2 .6 1.4 .6 .7 .6 .5 .5-.1 .6 0 .6-.4 .5-.1 .6-.1 .6 0 .5 .5 .6 .1 .6 .2 .6-.1 .5-.1 .6 .2 .6 0 .5 .2 .6 .3 .6 0 .5 .2 .6 0 .6-.1 .6-.1 .5-.1 .6 .2 .6-.3 .5-.2 .6-.1 .6-.5 .5-.1 .6-.1 .6-.1 .5 .4 .6 .3 .6 .4 .5 0 .6-.2 .6-.3 .6-.4 .5 .3 .6 .5 .6 .6 .5 .4 .6-.2 .6-.2 .5-.1 .6 .1 .6 .4 .6 0 .5-.1 .6-.1 .6-.4 .5-.2 .6-.4 .6-.6 .5-.6 .6-.6 .6 0 .6 .6 .5 .9 .6 1.3 .6 .7 .5 .1 .6-.4 .6-.8 .5-.7 .6-.4 .6-.1 .5 0 .6 .4 .6-.1 .5 .4 .6 .1 .6-.8 .6-.1 .5-.4 .6 .1 .6 .9 .5 .6 .6 .8 .6 .5 .5 .1 .6-.4 .6-.1 .6-.3 .5-.4 .6 .1 .6-.5 .5-.2 .6 .2 .6-.1 .5 .4 .6 .1 .6-.6 .6-.1 .5 .1 .6 .3 .6 .8 .5 .6 .6 0 .6-.3 .5-.4 .6-.7 .6-.2 .5 0 .6 .1 .6 .1 .5 0 .6 .1 .6 .3 .6 .1 .5 .4 .6-.1 .6-.2 .5 .3 .6-.3 .6-.4 .5-.4 .6-.5 .6-.1 .5 .4 .6 .5 .6 .2 .6 .2 .5 .2 .6 .3 .6 .3 .5-.3 .6-.6 .6-.7 .6-.7 .5-.2 .6-.2 .6 0 .5 .3 .6 .4 .6 .6 .5 .4 .6 .1 .6-.1 .5-.6 .6-.9 .6-.8 .5-.7 .6 0 .6 .5 .6 .3 .5 .2 .6 0 .6 .2 .5 .1 .6 .2 .6 .1 .5-.4 .6-.2 .6 0 .6 .1 .5 .4 .6 .5 .6 .5 .5-.2 .6-.4 .6-.6 .5-1 .6 .1 .6 .3 .5 .5 .6 1 .6 .2 .6 .4 .5 .3 .6 0 .6 .2 .5-.2 .6-.8 .6-1 .5-1.1 .6-.8 .6-.9 .5-2 .6-4 .6-6 .5-6.1 .5-2.1 .7 5.1 .6 6.5 .5 5.4 .6 3.3 .6 1.5 .5 .8 .6 .1 .6-.6 .5-.7 .6-.7 .6-.1 .6 .1 .5 .6 .6-.1 .6-2.6 .5-5 .6-10.8 .6-10.1 .6-5.9 .5 4 .6 9.7 .6 8.5 .5 6.3 .6 3.6 .6 1.5 .5-.5 .6-2.9 .6-4.8 .5-5.9 .5-2.3 .7 4.7 .5 6.2 .6 4.5 .6 2.3 .5 .6 .6-.4 .6 0 .6 .1 .5 .3 .6 1 .6 .8 .5 .7 .6 .5 .6-.4 .6-.5 .5-.5 .6-.4 .6 0 .5-.1 .6-.6 .6-.2 .5-.1 .6 .1 .6 1.1 .5 .9 .6 .9 .6 .7 .6-.2 .5-.6 .6-.8 .6-.8 .5-.4 .6 .2 .6 .9 .5 .6 .6 .5 .6 .1 .5-.6 .6-.1 .6 0 .5 .7 .6 .9 .6 1.1 .6 .7 .5-.1 .6-.8 .6-1.4 .5-1.5 .6-1.3 .6-.3 .5 0 .6 .5 .6 1.1 .6 .4 .5-.1 .6 .2 .6-.4 .5 .1 .6 .7 .6-.1 .5-.2 .6-.4 .6-.6 .6 0 .5 0 .6 .2 .6 .1 .5 0 .6 0 .6-.3 .5 0 .6 .1 .6 .2 .5 .3 .6 0 .6-.1 .5 .1 .6 .1 .6 .4 .6-.1 .5-.3 .6-.5 .6-.7 .5-.2 .6 .1 .6 .3 .5 .4 .6 .5 .6 0 .5 .3 .6 .1 .6-.3 .6-.1 .5-.1 .6 .1 .6 0 .5 .3 .6-.2 .6-.4 .6-.2 .5-.5 .6-.1 .5 0 .6-.6 .6 .1 .6-.5 .5 0 .6 .6 .6 .3 .5 1.1 .6 .9 .6 .7 .6 .7 .5 0 .6-.5 .6-.5 .5-.8 .6-.5 .6 .4 .5 .2 .6 .9 .6 .1 .5-.4 .6-.4 .6-1.1 .5-.3 .6-.6 .6-.2 .6 .4 .5 .5 .6 1.1 .6 .8 .5 .5 .6 0 .6-.7 .5-.6 .6-.7 .6-.4 .5 .1 .6-.3 .6 0 .6 0 .5-.5 .6-.5 .6-.3 .5-.2 .6 .2 .6 .6 .6 .4 .5 .1 .6 .3 .6 0 .5 .2 .6 .3 .6 .1 .5 0 .6-.2 .6-.1 .5-.3 .6 0 .6 .2 .5 .3 .6 .3 .6 .5 .6 .3 .5 .2 .6 .1 .6-.1 .5 0 .6-.4 .6-.8 .5-.5 .6-.7 .6-.2 .5 .5 .6 .2 .6 .5 .6 .5 .5 0 .6 0 .6-.3 .5-.3 .6-.1 .6 .2 .6 .3 .5 .3 .6 .5 .5 0 .6 .1 .6-.1 .6-.6 .5 .1 .6-.3 .6 0 .5 .1 .6-.4 .6-.5 .5-.6 .6-.2 .6-.3 .6 0 .5-.2 .6-.4 .6 .3 .5 .1 .6 .1 .6 .5 .5 .1 .6 .2 .6 .3 .5 0 .6 .1 .6 .3 .6 .5 .5 .4 .6 .2 .6-.1 .5-.6 .6-.1 .6-.3 .5 .3 .6 .6 .6 .2 .6 .7 .5 .3 .6 0 .6 0 .5-.5 .6-.7 .6-.8 .5-.6 .6-.6 .6-.4 .5-.1 .6 .3 .6 .4 .6 .5 .5 .3 .6-.2 .6 .1 .5 .2 .6 .5 .6 .4 .5 .2 .6-.4 .6-.7 .5-.5 .6-.5 .6 0 .6 0 .5-.5 .6-.9 .6-1.6 .5-1.8 .7-1.1 .5 .3 .5 1.5 .6 1.6 .6 1.5 .5 1.4 .6 .7 .6 .3 .6-.2 .5-.1 .6 .1 .6 .3 .5 .6 .6 .1 .6-.1 .5-.2 .6-.3 .6-.4 .6 0 .5-.2 .6-.1 .6 .3 .5 .3 .6 .5 .6 .2 .5 0 .6-.3 .6-.5 .5 .1 .6-.1 .6-.3 .6 .1 .5-.7 .6-.5 .6 0 .5-.2 .6 .4 .6 1 .5 .4 .6 .6 .6 .2 .6 0 .5 .1 .6 0 .6 .3 .5 .1 .6-.1 .6 .1 .5-.2 .6-.5 .6-.3 .5-.3 .6-.9 .6-.5 .6 .1 .5-.2 .6 .5 .6 .9 .5 .2 .6 .3 .6 .4 .5 0 .6 .1 .6 .3 .5-.6 .6-.6 .6-.7 .6-.5 .5 0 .6 .1 .6 .3 .5-.5 .6 0 .6-.1 .5 .1 .6 .6 .6 0 .5 .1 .6-.3 .6 0 .6 .2 .5 .1 .6 .2 .6-.5 .5-.6 .6-.2 .6-.2 .5 .5 .6 .7 .6 0 .6 .2 .5-.3 .6-.2 .6 .2 .5 .4 .6 .4 .6 .4 .5 0 .6-.3 .6-.4 .5-.5 .6-.3 .6-.3 .6 0 .5 0 .6-.4 .6-1 .5-1.6 .6-2.4 .6-2.1 .2-.4 .3-.3 .6 1.8 .6 2.1 .6 1.4 .5 1.1 .6 .5 .5 .8 .6 .8 .6 .3 .6 .1 .5-.4 .6-.6 .6-.1 .5 0 .6 .1 .6 .8 .6 .2 .5 .4 .6 .1 .6-.3 .5 0 .6 .1 .6 .2 .5 0 .6 .1 .6-.1 .5-.3 .6-.2 .6-.7 .6-.3 .5 0 .6 .4 .6 .6 .5 .4 .6 .3 .6-.2 .5-.4 .6-.5 .6-.8 .5-.2 .6 .4 .6 .8 .5 .6 .6 .4 .6-.5 .6-.8 .5-.1 .6-.4 .6-.1 .5-.2 .6-.4 .6 .3 .6 .9 .5 .6 .6 .5 .5 .1 .6-.5 .6-.1 .6-.1 .5-.2 .6 0 .6 .3 .5 .4 .6 1.1 .6 .8 .6 .5 .5 .1 .6-.6 .6-.5 .5-.7 .6-.6 .6-.4 .5 0 .6 .3 .6 .3 .5 .6 .6 0 .6-.2 .5 .1 .6-.6 .6-.3 .6 .3 .5-.5 .6 .1 .6 .2 .5-.5 .6-.3 .6-.5 .5-.8 .6-.7 .6-.4 .5-.1 .6 .3 .6 .7 .6 .6 .5 .8 .6 .6 .6-.4 .5-.8 .6-1.3 .6-1.6 .3-.2 .3 .2 .5 .6 .6 1.3 .5 .9 .6 .6 .6 .5 .6 .1 .5-.1 .6-.2 .6-.1 .5 .2 .6 0 .6-.1 .5 .3 .6 .3 .6 .6 .6 .8 .5-.3 .6-.6 .6-1 .5-1 .6 .2 .6 0 .5 .2 .6 .5 .6-.1 .5 0 .6 .6 .6-.2 .6-.2 .5 0 .6-.5 .6 .3 .5 .4 .6 .1 .6 .1 .6-.7 .5-.6 .6-.4 .6 .2 .5 .9 .6 1 .6 .9 .5 .2 .6-.6 .6-.5 .5-.9 .6-.6 .6-.3 .5-.8 .6-.1 .6 0 .6 .2 .5 1.1 .6 1.2 .6 .8 .5 .7 .6-.4 .6-.9 .5-.6 .6-.4 .6 .2 .5 .6 .6 .4 .6 .2 .6 .1 .5-.3 .6-.2 .6 0 .5 0 .6 .2 .6 .2 .5 0 .6-.1 .6-.2 .5-.1 .6 .1 .6 .5 .6 .2 .5 .1 .6 .2 .6-.2 .5 .1 .6-.2 .6-.6 .5-.5 .6-.6 .6-.1 .6 .2 .5 .4 .6 0 .6-.3 .5-.5 .6-.4 .6 .3 .5 .2 .6 .5 .6 .3 .5-.1 .6-.1 .6-.2 .6-.7 .5-.6 .6-.6 .6-.6 .5-.5 .6-.7 .6-1 .5-2.1 .6-1.8 .4-.9 .8 .7 .5 1.7 .6 1.9 .6 1.3 .5 1.3 .6 1.1 .6 .4 .5 .5 .6 .5 .6 .1 .5 .4 .6 .5 .6 0 .6 .2 .5-.1 .6-.5 .6-.5 .5-.6 .6-.5 .6-.2 .5-.1 .6-.2 .6 0 .5 .3 .6 .1 .6-.1 .6 .1 .5-.5 .6-.1 .6 .5 .5 .5 .6 .4 .6 .5 .5-.1 .6 .1 .6 .6 .5 .4 .6 .5 .6 0 .6-.1 .5-.3 .6-.7 .6-.5 .5-.9 .6-.5 .6-.1 .5-.1 .6 .5 .6 .4 .6 .5 .5 .4 .6 .1 .6 0 .5-.5 .6 0 .6-.4 .5-.1 .6-.1 .6-.7 .5-1.1 .6-2.4 .6-2.6 .7-1.9 .4 0 .6 2.3 .6 2.8 .5 1.9 .6 1.8 .6 1.1 .5 .3 .6 .5 .6-.4 .6-1.4 .5-1.6 .6-2 .5-2.1 .6-1.5 .6-.9 .3 .4 .3 .5 .5 1.4 .6 1.9 .6 1.7 .5 .8 .6 0 .6-.5 .6-.4 .5 0 .6 .7 .6 .8 .5 .2 .6 .3 .6-.1 .5-.3 .6 .2 .6 0 .5 0 .6 .5 .6 .6 .6 .4 .5 .1 .6-.3 .6-.5 .5-.1 .6 .5 .6 .5 .5 .6 .6 .3 .6-.8 .5-1.1 .6-.5 .6-.3 .5 .5 .6 1 .6-.1 .6 .2 .5 .2 .6 0 .6 .8 .5 .4 .6 .1 .6-.1 .6-.7 .5-.5 .6-.5 .6-.1 .5 .1 .6-.3 .6 0 .5-.3 .6 .2 .6 .1 .5 .3 .6 .5 .6 0 .6 .6 .5 .2 .6 0 .6 .3 .5-.2 .6 .1 .6 .1 .5-.5 .6-.3 .6-.6 .5-.4 .6 .3 .6 .3 .5 .6 .6 .2 .6-.4 .6-.1 .5-.5 .6 .3 .6 .6 .5-.1 .6 .1 .6-.6 .6-.9 .5-.4 .6-.3 .5 .4 .6 .4 .6 .2 .6 .1 .5-.4 .6-.6 .6 .1 .5 .1 .6 .4 .6 .9 .6 .5 .5 .1 .6-.5 .6-.6 .5-.6 .6-.6 .6 0 .5-.6 .6-.3 .6 0 .5 .2 .6 .4 .6 .7 .5 .6 .6 .6 .6 .6 .6 0 .5-.1 .6-.5 .6-.7 .5-.8 .6-1 .6-1.1 .5-1.1 .6-.9 .6-.6 .5 .3 .6 .7 .6 1.5 .6 1.5 .5 .5 .6 .8 .6 .1 .5-.2 .6 .3 .6 .3 .6-.1 .5 .3 .6-.1 .6-.5 .5-.4 .6-.8 .6-.1 .5-.1 .6 .2 .6 .8 .5 .3 .6 1 .6 .9 .5 .4 .6 .4 .6-.3 .6-.4 .5-.2 .6-.7 .6-.1 .5-.8 .6-.6 .6-.4 .5-.3 .6 .5 .6 .7 .5 1 .6 1 .6 .8 .6 .3 .5-.3 .6-1 .6-1.2 .5-1.2 .6-.6 .6 0 .5 0 .6 .5 .6 .3 .5 .4 .6 .6 .6 .2 .6 .2 .5 .1" stroke="#003cff" stroke-width="6"/>
<path d="M192.5 1130.6 l.6-.8 .5-.5 .6-.5 .6-.6 .5-.7 .6-.5 .6-.4 .6-.1 .5 .1 .6 .3 .6 .3 .5-.2 .6 0 .6-.2 .5-.3 .6 .7 .6 .3 .6 .4 .5 .4 .6-.1 .6-.2 .5-.1 .6-.1 .6-.2 .5 .3 .6-.1 .6 .2 .5 .3 .6-.5 .6-.4 .6-.6 .5-.8 .6 .6 .6 .5 .5 .5 .6 .4 .6-.6 .5-.6 .6-.8 .6 .2 .5 .4 .6 .8 .6 1.3 .6 0 .5-.4 .6-.6 .6-1.2 .5-.3 .6-.1 .6-.3 .5 .2 .6 .2 .6 .8 .5 .6 .6 .4 .6-.3 .6-.9 .5-1 .6-.6 .6-.1 .5-.4 .6-1 .6-2.6 .5-4.4 .6-4.7 .7-3.1 .5 1.5 .5 4.7 .6 4.6 .6 3.5 .5 1.7 .6 .5 .6 .4 .5 .2 .6 .1 .6 .3 .5 .1 .6-.2 .6 .6 .6 .2 .5 .3 .6 .4 .6-.2 .5 .2 .6 0 .6-.2 .5 .1 .6 .2 .6 .6 .6 .9 .5 .9 .6 0 .5-.2 .6-.3 .6-.5 .6 0 .5 .2 .6-.3 .6 .3 .5 .2 .6 .4 .6 .8 .6 .6 .5 .3 .6-.1 .6-.4 .5-.8 .6-.8 .6-.5 .5-.2 .6 0 .6 .3 .5 .2 .6-.2 .6 .1 .6-.1 .5-.3 .6-.3 .6-.5 .5-.4 .6 .2 .6 .6 .5 .6 .6 .1 .6-.2 .5-.6 .6-.3 .6 0 .5-.3 .6 .1 .6-.4 .6-.3 .5 .3 .6 .1 .6 .6 .5 .5 .6 0 .6-.3 .5-.5 .6-.6 .6 0 .6 .2 .5 .3 .6 .1 .6 0 .5 0 .6 .2 .6 .5 .5 .2 .6 .2 .6 .2 .6 .1 .5-.3 .6-.4 .6-.2 .5-.7 .6 .4 .6 .6 .5-.2 .6 .6 .6-.1 .5-.6 .6-.3 .6-1 .5-.7 .6-.1 .6 .1 .6 .5 .5 .5 .6 .2 .6 .1 .5-.2 .6-.1 .6-.1 .5 0 .6 .3 .6-.1 .6-.2 .5-.3 .6-.6 .6 0 .5 .4 .6 .8 .6 .3 .5-.2 .6-1 .6-1.8 .6-1.7 .5-1.7 .6-2 .6-2.9 .5-5.4 .6-10.3 .6-19.2 .5-29.3 .6-36.4 .6-30.2 .3-5.9 .2 3.2 .6 27.2 .6 36.6 .5 30.9 .6 20.7 .6 13.3 .6 6.3 .5 3 .6 1.7 .6 1 .5 .4 .6 .7 .6 .4 .5 .5 .6 1 .6 .6 .6 .4 .5 .1 .6 0 .6 .1 .5 .7 .6 .6 .6 0 .5 0 .6-.5 .6-.7 .6-.2 .5-.2 .6 .1 .6 .7 .5 .3 .6-.1 .6-.6 .5-1.1 .6-.7 .6-.3 .5 0 .6 0 .6 0 .5 .3 .6 .3 .6 .6 .6 .4 .5-.1 .6 .1 .6 0 .5 .6 .6 .7 .6 .1 .5 .2 .6-.6 .6-.4 .6-.2 .5-.5 .6 .3 .6 0 .5 .4 .6 .3 .6-.6 .5 .1 .6-.1 .6 .3 .5 1.2 .6 .3 .6 .4 .5-.2 .6-.6 .6-.4 .6-1.1 .5-.2 .6-.3 .6-.2 .5-.1 .6-.6 .6-.3 .5-.2 .6-.1 .6-.8 .5-1.6 .6-2 .5-1.2 .7 1.1 .5 1.9 .6 1.6 .6 1.3 .5 .6 .6 3.9 .6 0 .6 0 .5 0 .6 0 .6 0 .5 0 .6 0 .6 0 .5 0 .6 0 .6 0 .5 0 .6 0 .6 0 .6 0 .5 0 .6 0 .6 0 .5 0 .6 0 .6 0 .5 0 .6 0 .6 0 .5 0 .6 0 .6 0 .5 0 .6 0 .6 0 .6 0 .5 0 .6 0 .6 0 .5 0 .6 0 .6 0 .6 0 .5 0 .6 0 .6 0 .5 0 .6 0 .6 0 .5 0 .6 0 .6 0 .5 0 .6 0 .6 0 .5 0 .6 0 .6 0 .6 0 .5 0 .6 0 .6 0 .5 0 .6 0 .6 0 .5 0 .6 0 .6 0 .5 0 .6-4.2 .6 .5 .6 .6 .5 .8 .6 .5 .6 .4 .5 .7 .6 .2 .6-.1 .6-.5 .5-1.3 .6-1 .6-.7 .5-.2 .6 .6 .6 .4 .5 .4 .6 .3 .6-.2 .5 .2 .6 0 .6-.6 .6-.6 .5-1.4 .6-1.6 .6-1.8 .5-2.9 .6-5 .6-8.4 .5-12.7 .6-13.3 .6-6.8 .5 5.6 .6 13 .6 13 .5 8.2 .6 5.2 .6 3 .6 1.9 .5 1.3 .6 .9 .6 .2 .5 0 .6 .1 .6-.1 .5 .5 .6 .6 .6 .2 .6 .6 .5 .3 .6 .4 .6 .9 .5 .8 .6 .7 .6 .2 .5-.3 .6-.7 .6-.7 .5-.4 .6-.3 .6-.1 .5 .2 .6 0 .6 0 .6 .1 .5-.4 .6-.1 .6 .4 .5 .3 .6 .4 .6 .6 .5 0 .6 .1 .6 0 .6-.5 .5-.2 .6-.5 .6-.7 .5-.2 .6-.5 .6 .2 .5 .9 .6 .3 .6 .7 .6-.5 .5-1.1 .6-1 .6-.6 .5 0 .6 .2 .6 .2 .5-.7 .6-.7 .6-1.2 .5-1.5 .6-1.9 .6-2.5 .5-.7 .6 1.5 .6 2.6 .6 2.5 .5 1.7 .6 1.2 .6 1.4 .5 1 .6 .7 .6-.1 .5-.1 .6-.4 .6 0 .6-.1 .5-.8 .6-.4 .6-.5 .5-.1 .6 .3 .6 .4 .5 .4 .6 .5 .6 .7 .6 .1 .5 .1 .6-.2 .6-.3 .5 0 .6 .1 .6 .1 .5 .2 .6 0 .6-.1 .5-.4 .6-.6 .6-.5 .5-.1 .6 .2 .6 .7 .6 .3 .5 0 .6-.3 .6-.9 .5-.5 .6-.6 .6-.1 .5 .4 .6 .3 .6 .7 .6 .2 .5 0 .6 .1 .6-.5 .5 0 .6 .2 .6-.1 .5-.2 .6-.8 .6-.4 .6-.1 .5 .5 .6 1 .6 .2 .5 .1 .6 .4 .6 .5 .5 1.1 .6 1.5 .6 .3 .5-.6 .6-1.1 .6-1.6 .5-.8 .6 .1 .6 .3 .6 .4 .5 .4 .6 .1 .6 .1 .5-.2 .6 0 .6-.3 .5 .3 .6 .5 .6 .2 .6 .5 .5-.2 .6-.6 .6-.4 .5-.8 .6-.2 .6 .2 .5 .5 .6 .4 .6-.1 .6-1.2 .5-1.4 .6-1 .5-.6 .6 .4 .6 .4 .6 .2 .5 .5 .6 .3 .6 .2 .5 .4 .6 .4 .6 0 .5 .3 .6-.2 .6-.5 .6-.1 .5 .1 .6 .8 .6 .7 .5 .5 .6-.2 .6-.6 .5-.5 .6-.3 .6-.1 .6 0 .5 .3 .6-.1 .6 .2 .5-.1 .6-.4 .6-.3 .5-.3 .6 0 .6 0 .5 .5 .6 .5 .6 .1 .6 .3 .5 .3 .6-.2 .6-.2 .5-.5 .6-1.2 .6-.7 .5-.8 .6-.1 .6 .3 .6 .3 .5 .3 .6-.2 .4-.4 .7-.4 .6 .3 .6 .5 .5 .5 .6 .7 .6 .6 .5 1 .6 1.1 .6 .7 .6 .1 .5-.8 .6-.5 .6-.1 .5 0 .6 .4 .6-.4 .5-.6 .6-.2 .6-.5 .5-.1 .6 0 .6-.3 .5-.1 .6 0 .6 0 .6 .2 .5 .1 .6 .3 .6 0 .5 .1 .6 .4 .6-.1 .5 .3 .6-.3 .6-.5 .5-.4 .6-.8 .6-.2 .6-.3 .5-.1 .6 .3 .6 0 .5 .2 .6-.1 .6-1.3 .6-3.3 .5-6.6 .6-11.1 .5-12.6 .8-10.2 .4 3.2 .6 11.7 .5 12.3 .6 7.8 .6 4.8 .5 2.9 .6 1.4 .6 1 .6 1 .5 .5 .6 .5 .6 .7 .5-.1 .6 0 .6 0 .5-.6 .6-.3 .6-.4 .5-.4 .6 .1 .6 .2 .5 .2 .6 .2 .6 .3 .6 .3 .5 .4 .6-.1 .6-.7 .5-.7 .6-1.1 .6-.2 .6 0 .5 .3 .6 .7 .5 .5 .6 .9 .6 .7 .6 .6 .5 .2 .6-.2 .6-.3 .5-.9 .6-.8 .6-.6 .5-.2 .6 .4 .6 .2 .6-.6 .5-2.1 .6-3.1 .6-2.6 .2-.8 .3 .3 .6 2.3 .6 2.5 .5 2 .6 1 .6 .4 .5 .5 .6 .3 .6 .7 .6 .7 .5 .1 .6-.4 .6-.8 .5-.7 .6-.5 .6 0 .5 .1 .6-.1 .6 .2 .5-.2 .6-.4 .6 .1 .6-.1 .5 .5 .6 .5 .6 .4 .5 .3 .6-.1 .6-.5 .6-.9 .5-.5 .6-.2 .6 .5 .5 1.3 .6 .7 .6 .4 .5-.3 .6-.7 .6-.9 .5-.8 .6-.6 .6-1.1 .5-.5 .6-1 .6-1.1 .6-1.4 .5-2.8 .6-2.4 .6-3.3 .5-3.2 .6-1.6 .3-.2 .3 .2 .5 1.3 .6 1.7 .6 3.3 .5 3.3 .6 2.8 .6 3.2 .6 2.1 .5 1.3 .6 .8 .6-.3 .5-.3 .6-.4 .6-.4 .5 .3 .6 .2 .6 .8 .6 .6 .5 .6 .6 .7 .6 .1 .5-.2 .6-.6 .6-.7 .5-.4 .6 .3 .6 .5 .5 .5 .6 .4 .6-.3 .6-.6 .5-.5 .6-.6 .6-.2 .5 .2 .6 .1 .6 0 .5-.3 .6-.9 .6-1 .5-1.1 .6-1.2 .6-1.6 .6-1.9 .5-2.5 .6-4.9 .6-9.9 .5-21.3 .6-36 .6-47.4 .5-39.1 .3-5.4 .3 7.6 .6 41.2 .6 46.9 .5 34.6 .6 20.2 .6 9.9 .5 5.2 .6 3.5 .6 2.3 .5 1.5 .6 1.3 .6 .7 .5 0 .6-.1 .6-.6 .6-.5 .5-.1 .6 0 .6 .6 .5 .6 .6 1.1 .6 .7 .5 .5 .6-.1 .6-.8 .5-.3 .6 0 .6 .2 .5 .6 .6-.3 .6-.7 .6-.4 .5-.2 .6 .4 .6 .4 .5 0 .6-.1 .6-.7 .6-.6 .5-.4 .6-.3 .6 0 .5 .2 .6 0 .6-.2 .5-.2 .6 .1 .6 .3 .5 .1 .6 .2 .6-.8 .6-.7 .5-.3 .6-.6 .6-.8 .5-3.2 .6-7.1 .6-9.4 .5-9.4 .3-1.4 .3 2 .6 9.8 .5 10 .6 6.9 .6 2.9 .6 .5 .5 .1 .6-.3 .6 .9 .5 .9 .6 .4 .6 .7 .5-.1 .6-.3 .6 .1 .6-.5 .5-.6 .6 0 .6 0 .5 .6 .6 .8 .6 .4 .5 .2 .6-.2 .6-.4 .5 0 .6 .3 .6 .7 .6 .4 .5-.2 .6-.3 .6-.6 .5-.2 .6 .3 .6 .1 .5 .3 .6 .1 .6-.3 .5-.8 .6-1.3 .6-1.4 .5-2 .6-1.3 .4-.4 .8 .9 .5 1.7 .6 1 .6 .8 .5 .8 .6 .6 .6 .4 .6 .3 .5 .2 .6-.5 .5-.2 .6-.2 .6 .1 .6 .5 .5 .9 .6 .8 .6 .5 .5 .3 .6-.1 .6-.3 .6-.3 .5-.7 .6-.5 .6-.3 .5-.3 .6 .1 .6-.3 .5-.1 .6-.1 .6-.3 .5-.2 .6-1.2 .6-1.6 .6-1.7 .2-.3 .3-.1 .6 1.2 .6 1.6 .5 1.3 .6 1.2 .6 1.1 .5 .8 .6 .5 .6 .4 .5-.2 .6-.3 .6 0 .5-.2 .6 .4 .6 .4 .6-.3 .5-.2 .6-.3 .6-.5 .5 .1 .6-.2 .6-.9 .6-.5 .5-.8 .6-.2 .5 .6 .6 .2 .6-.2 .6-1.3 .5-2.4 .6-3.1 .6-2.9 .5-.7 .6 1.9 .6 3.8 .5 3.1 .6 2.2 .6 1.2 .6 .3 .5 .1 .6-.2 .6 0 .5 0 .6-.2 .6 .1 .5-.2 .6-.2 .6-.4 .5-1 .6-.4 .6 .2 .6 .7 .5 1.5 .6 1 .6 .4 .5-.3 .6-.6 .6-.4 .5-.6 .6 .2 .6 .1 .5-.3 .6 0 .6-.1 .6 .2 .5 .2 .6 .3 .6-.2 .5-.9 .6-.6 .6-.9 .6-.4 .5 .2 .6-.3 .6-.6 .5-2.4 .6-4.9 .6-6.8 .5-7.5 .6-3.1 .6 2.9 .5 7.7 .6 6 .6 3.7 .5 2.3 .6 .8 .6 .9 .6 .4 .5-.8 .6-1.8 .6-3.3 .5-3.6 .6-3.2 .5-.8 .6 2.6 .6 3.4 .6 3.3 .5 2.2 .6 1.7 .6 1 .6 .5 .5 .3 .6-.3 .6 .3 .5-.2 .6-.2 .6 .2 .5-.2 .6 0 .6 .5 .6 .2 .5-.2 .6 0 .6-.6 .5-.7 .6-.3 .6-.4 .5-.2 .6 .1 .6 .2 .5-.4 .6-.4 .6-.2 .6-.7 .5-.2 .6-.6 .6-1.1 .5-.7 .6-.7 .6-.5 .5-.2 .6-.3 .6-.6 .5-1.1 .6-2.1 .6-4 .6-5.9 .5-5.9 .7-4.2 .5 1.1 .5 4 .6 4.7 .6 3.2 .5 1.3 .6-2 .6-12 .6-29.3 .5-78.2 .6-163.6 .6-252.3 .5-264.9 .6-140 .6 54.5 .5 151.5 .6 124.2 .6 77.1 .2 28.7 .3 55.1 .6 114.5 .6 108.5 .6 67.3 .6 35.6 .5 29.5 .6 37.8 .5 28.5 .6 16.3 .6 8.9 .5 3.4 .6 1.4 .6 .8 .5 .6 .6 .8 .6 .6 .6 .4 .5 .4 .6-.1 .6-.1 .5-.2 .6-.3 .6 .1 .5 .3 .6 .9 .6 .7 .6 .4 .5 .3 .6-.4 .6-.5 .5-.6 .6-.8 .6-1.1 .5-1.9 .6-4.3 .6-9.8 .5-15.9 .6-17.2 .4-4.9 .8 15.7 .5 18 .6 13.2 .6 6.1 .5 2.3 .6 1.7 .6 .9 .5 .7 .6 .3 .6-.3 .5-.5 .6 0 .6-.2 .6-.6 .5-1 .6-2.4 .6-4.6 .5-7.5 .6-20.5 .6-34.6 .5-39.4 .5-14.8 .7 29.6 .6 40.5 .5 29.7 .6 15.7 .6 7.7 .5 3.6 .6 2.1 .6 1.5 .5 .7 .6 .7 .6 .2 .5 .4 .6 .6 .6 .3 .6 .5 .5 .6 .6 .5 .6 .6 .5 .3 .6 0 .6 .1 .5 .3 .6 .4 .6 .2 .5-.3 .6-.6 .6-.5 .5-.1 .6 .5 .6 .2 .6 .3 .5 .5 .6 .3 .6 .7 .5 .6 .6 .3 .6 .3 .6-.1 .5-.2 .6 0 .6-.5 .5 .2 .6 .1 .6 0 .5 .4 .6-.3 .6-.2 .5-.3 .6-.3 .6-.3 .6-.1 .5-.5 .6-.3 .6 .1 .5 .4 .6 .9 .6 .5 .5 .2 .6-.4 .6-.6 .5-.2 .6 .1 .6 .3 .6 .6 .5 .1 .6-.2 .6-.2 .5-1.1 .6-1.5 .6-3 .5-5.2 .6-6.9 .6-7.4 .6-4.5 .5 3.2 .6 7.2 .5 7.2 .6 4.8 .6 3.1 .6 1.8 .5 1.2 .6 .7 .6 .1 .5 .1 .6-.5 .6-.1 .6 0 .5 0 .6 0 .6-.5 .5-.9 .6-.9 .6-1 .5-1.1 .6-1.3 .6-1.7 .5-1.3 .3 .2 .3 .7 .6 2 .5 2.3 .6 2 .6 .8 .6 .3 .5-.1 .6-.4 .6-.3 .5-.2 .6 .1 .6-.1 .5 .7 .6 .2 .6 .1 .5 .2 .6-.5 .6 .2 .6 .1 .5 .4 .6 .7 .6-.1 .5-.2 .6-1.2 .6-1.9 .6-2 .6-1.2 .5 1.3 .5 2.5 .6 2 .6 .8 .6 0 .5-.5 .6-.3 .6 .2 .5 0 .6 .1 .6 .2 .6-.2 .5 .2 .6 .4 .6 .2 .5 .1 .6 .1 .6-.2 .5 .1 .6 .1 .6-.8 .5-.6 .6-1.4 .6-3.3 .5-4.8 .6-5.9 .5-4.2 .7 6 .5 6.2 .6 4.5 .6 2.2 .5 .7 .6 0 .6-.3 .5 0 .6 .1 .6-.1 .5-.3 .6-1.1 .6-2.1 .6-3.4 .7-2.8 .4 .4 .6 2.6 .5 2.7 .6 1.6 .6 1 .5 .4 .6 .1 .6 .3 .6 .1 .5 .3 .6 .4 .6 .3 .5 0 .6-.4 .6-.8 .5-.8 .6-.6 .6 0 .5 .8 .6 .6 .6 .9 .6 .8 .5 .2 .6 .2 .6 .1 .5-.6 .6-.4 .6-.2 .5-.5 .6 .3 .6 .6 .5-.1 .6 .5 .6 .1 .6-.4 .5 .4 .6 .1 .6-.2 .5-.1 .6-.3 .6-.5 .6-.1 .5-.3 .6 .1 .6 .4 .5 .2 .6 .6 .6-.3 .5-.3 .6-.7 .6-.7 .5-.1 .6-.3 .6 .1 .5 .2 .6 .4 .6 .5 .6 .6 .5 .4 .6 .1 .6 .3 .5-.3 .6 .1 .6-.1 .5 0 .6 .4 .6 .1 .5 .4 .6 .2 .6 0 .6 .1 .5-.2 .6-.4 .6-.2 .5 .1 .6-.5 .6 .1 .5-.1 .6 0 .6 .7 .6 .5 .5-.1 .6-.3 .6-.3 .5-.5 .6 .6 .6 .6 .5 .1 .6 0 .6-.6 .5-.5 .6-.4 .6 .1 .6 .1 .5-.1 .6 .3 .6 .3 .5 0 .6 0 .6-.2 .5-.6 .6 0 .6 .4 .5 0 .6 .7 .6 .5 .6-.5 .5-.1 .6-1 .6-1 .5-.2 .6 0 .6 .8 .5 .8 .6 .4 .6 .3 .6 .1 .5 .4 .6 .4 .6 .1 .5-.2 .6-.3 .6-.5 .5-.7 .6-.3 .6-.8 .5-.2 .6 .2 .6 .1 .6 .7 .5 0 .6 .2 .6 .3 .5 .3 .6 .8 .6 .3 .5 0 .6 .2 .6-.3 .5-.2 .6-.1 .6-.8 .5-.7 .6-.8 .6-1.1 .6-.5 .5-.2 .6 .2 .6 .6 .5 .7 .6 .7 .6 0 .6-.2 .5-.8 .6-1.4 .6-1 .5-1 .6-.4 .6 .2 .5-.4 .6-.5 .6-1.2 .5-1.9 .6-1.3 .6-1.3 .5-.6 .7 0 .5 .3 .6 1.1 .5 1.4 .6 1.6 .6 1.2 .5 .6 .6 .4 .6-.1 .5 0 .6 .1 .6-.2 .6-.5 .5-1.1 .6-1.6 .6-1.9 .5-2.5 .6-2.1 .6-2.1 .5-3.3 .5-.4 .7 1.1 .6 1.9 .5 2.2 .6 2.5 .6 2.5 .5 2 .6 1.6 .6 1.2 .5 1 .6 .8 .6 .9 .5 .8 .6 .4 .6 .8 .5 .2 .6 .2 .6 .1 .6 0 .5 .1 .6 .1 .6 .1 .5 .4 .6 .2 .6 .3 .5 .5 .6-.5 .6-.1 .5-.3 .6-.6 .6 .2 .6 0 .5 .2 .6 .2 .6 .2 .5 .3 .6 .5 .6 .5 .6 0 .5-.3 .6-.6 .6-.5 .5-.3 .6 0 .6-.1 .5-.8 .6-1.7 .6-2.6 .5-3.8 .6-3.6 .3-.1 .3 .8 .5 3.6 .6 3.9 .6 2 .6 .2 .5-.1 .6-.2 .6 .1 .5 1 .6 .9 .6 .9 .5 .4 .6 .3 .6 .3 .6 0 .5 .1 .6-.7 .6-1 .5-.9 .6-.7 .6-.7 .5-1.7 .6-4.3 .6-8.7 .5-15.1 .6-18 .6-14 .2-1.5 .4 3.6 .5 16.1 .6 17.5 .6 13.6 .5 6.3 .6 3.2 .6 1.2 .5 .8 .6 1.4 .6 .7 .5 .8 .6 .8 .6 .1 .5 .4 .6 .1 .6-.1 .6 .5 .5 .2 .6 .6 .6 .3 .5-.3 .6 0 .6-.5 .5-.5 .6-.3 .6-.8 .6-.2 .5 .2 .6 .2 .6 .5 .5 .2 .6-.4 .6-.1 .5-.2 .6-.4 .6 .2 .6 0 .5 .1 .6 .4 .6-.2 .5-.2 .6-.4 .6-.9 .5-.9 .6-1 .6-1 .5-.6 .7-.2 .5 .1 .5 .3 .6 .1 .6 .3 .6 .1 .5-.1 .6-.3 .6-.5 .5-.6 .6-.5 .4 .1 .8-.1 .5 .5 .6 .6 .6 .4 .5 1 .6 .8 .6 .8 .5 1.4 .6 1.3 .6 .8 .5 .6 .6-.5 .6-1.3 .6-1.1 .5-.9 .6-.1 .6 .7 .5 .5 .6 .3 .6 .1 .5 0 .6-.2 .6 .1 .5 0 .6-.3 .6 .1 .5 0 .6-.4 .6 0 .6 0 .5 .2 .6 .5 .6 .4 .5 .5 .6 .2 .6 .3 .5 .2 .6-.3 .6 0 .6-.1 .5-.1 .6 0 .6-.3 .5-.3 .6-.2 .6-.3 .5-.2 .6-.4 .6-.1 .6 .5 .5 .4 .6 .8 .6 .5 .5 .2 .6 .4 .6 0 .5 .1 .6 0 .6-.1 .5-.2 .6-.3 .6-.6 .5-.4 .6-.4 .6-.3 .6 .4 .5 .4 .6 .6 .6 .6 .5-.1 .6-.2 .6-.6 .5-.6 .6-.5 .6 0 .6 .1 .5 .2 .6 .5 .6-.3 .5-.4 .6-.6 .6-2.1 .5-3.3 .6-6.2 .6-9 .6-12.7 .5-10.7 .3-1.7 .3 1.7 .5 10.7 .6 12.7 .6 9 .6 5.4 .5 2.5 .6 1.7 .6 1 .5 .4 .6 .9 .6-.2 .5-.2 .6 0 .6-.7 .6-.2 .5-.2 .6 .1 .6 .4 .5 .2 .6 .1 .6-.2 .5-.2 .6 0 .6 .4 .6 .7 .5 .5 .6 .2 .6 .1 .5 0 .6-.3 .6-.1 .5-.1 .6-.1 .6 .1 .5 .4 .6 .2 .6-.8 .5-2.1 .6-4.8 .6-7.2 .6-7.4 .2-.8 .3 1.4 .6 7 .6 6.7 .5 4.6 .6 2.4 .6 1 .5 0 .6-.4 .6-.4 .6-.1 .5-.3 .6-.5 .6-.4 .5-.2 .6 .5 .6 .9 .5 .7 .6 .2 .6 0 .6-.2 .5 .2 .6 .1 .6-.2 .5 .1 .6-.4 .6-.3 .5 .1 .6-.1 .6 .2 .5 .2 .6 0 .6 .1 .5 .4 .6 .4 .6 .3 .6-.3 .5-1.2 .6-1.2 .6-1.2 .5-.8 .6 0 .6 .2 .5 .5 .6 .2 .6 .7 .5 .4 .6 .6 .6 .8 .6 .3 .5 .6 .6 .5 .6 .2 .5 .1 .6 0 .6 .2 .6 .5 .5 .2 .6 .1 .6-.2 .5-.7 .6 0 .6-.3 .5 .2 .6 .2 .6-.6 .5-.8 .6-.7 .6-.6 .5 .4 .6 1 .6 .5 .6 .6 .5 .3 .6 0 .6-.1 .5 0 .6-.3 .6-.5 .5-.1 .6-.3 .6-.5 .6-.3 .5-.5 .6-.3 .6 .1 .5 .5 .6 .6 .6 1 .5 .4 .6 .7 .6 0 .6-.3 .5-.2 .6-.9 .6-.7 .5-.9 .6-.8 .6-.3 .5-.1 .6 .3 .6 .2 .5-.4 .6-.5 .6-1 .5-1.6 .6-2.7 .6-5.5 .6-9.6 .5-13.2 .6-11.9 .3-2.2 .3 1.6 .5 11.2 .6 13.7 .6 9 .5 5.8 .6 3.1 .6 1.9 .5 1.9 .6 1.2 .6 1 .6 .6 .5 .2 .6-.2 .6-.8 .5-.8 .6-.8 .6-.5 .5-.1 .6-.1 .6-.2 .6 .1 .5 .3 .6 .3 .6 .6 .5 .4 .6 .1 .6 .4 .5 0 .6 .1 .6 .4 .5 .3 .6 .3 .6 .1 .5-.2 .6-.3 .6 0 .6-.1 .5-.5 .6-.4 .6-.6 .5-.4 .6 .4 .6 .4 .6 0 .5-.1 .6-.3 .6 .1 .5 .6 .6 .7 .6 .6 .5-.2 .6 .1 .6 .1 .5 .3 .6 .4 .6 0 .6-.5 .5-.9 .6-.7 .6-.3 .5-.1 .6 .5 .6 .2 .5-.1 .6 .1 .6-.2 .5 .2 .6 .1 .6 0 .5 .2 .6-.4 .6 0 .6-.2 .5-.3 .6 .2 .6-.1 .5 .3 .6 .1 .6 .2 .5 .6 .6 .3 .6 .4 .6-.3 .5-.5 .6-.4 .6 .1 .5 .5 .6 .5 .6 .1 .5-.5 .6-.6 .6-.5 .6 .3 .5 .6 .6 .6 .6 .1 .5-.5 .6-.3 .6 0 .5 .8 .6 .7 .6 .2 .5 0 .6-1 .6-.8 .5-.6 .6-.8 .6-.3 .6 0 .5 .3 .6 .9 .6 .8 .5 .6 .6 .2 .6-.2 .5-.5 .6-.4 .6-.3 .6-.2 .5 .2 .6 .5 .6 .2 .5 .4 .6-.3 .6-.3 .5-.2 .6-.7 .6 0 .6-.1 .5 .2 .6 .6 .6 0 .5 .1 .6-.4 .6-.8 .5-.3 .6-.4 .6 .1 .5 0 .6-.4 .6-.7 .5-1.3 .6-2.8 .6-5.3 .6-10.1 .5-15.5 .6-17.6 .6-9.6 .5 7.9 .6 17.1 .6 15.9 .5 10.7 .6 5.1 .6 2.4 .6 1.8 .5 1.4 .6 .8 .6 .3 .5-.2 .6-.4 .6-.3 .5-.6 .6-1.9 .6-3.9 .6-7.2 .5-8.3 .4-2.2 .7 6 .6 7.8 .6 5.6 .6 3.3 .5 1.5 .6 .2 .6 .4 .5 0 .6 .4 .6 .9 .5 .4 .6 .6 .6 .4 .6-.6 .5-.5 .6-.6 .6-.7 .5 .3 .6 .5 .6 .2 .5 .2 .6-.5 .6-.3 .6 .2 .5 .2 .6 .8 .6 .5 .5 .2 .6 .2 .6-.3 .5-.3 .6-.6 .6-.8 .5-.2 .6-.4 .6 .2 .5 .4 .6 0 .6-.3 .6-.4 .5-.3 .6 .3 .6 .9 .5 .9 .6 .3 .6 0 .5 .1 .6 0 .6 .3 .5 .2 .6-.5 .6-.4 .6-.5 .5-.4 .6 .3 .6 .3 .5 .5 .6 .4 .6 0 .6-.1 .5-.6 .6 .1 .6 .3 .5 .4 .6 1.1 .6 .6 .5 0 .6 .1 .6-.4 .5-.8 .6-.6 .6-1 .5-1 .6-.2 .6 0 .6 .5 .5 1.1 .6 .6 .6 .7 .5 .7 .6-.2 .6-.2 .5-.4 .6-.7 .6-.3 .6-.1 .5 .1 .6 0 .6-.3 .5 0 .6-.5 .6 0 .5 .6 .6-.1 .6 .7 .6 0 .5-.7 .6-.4 .6-1 .5-.5 .6-.2 .6 0 .5 .2 .6 1 .6 .7 .5 .4 .6 .3 .6-.4 .5-.1 .6 0 .6 .2 .6-.1 .5 .2 .6 .2 .6-.1 .5 .1 .6-.4 .6-.4 .5-.3 .6-.1 .6 .2 .5 .2 .6 .4 .6 .6 .6 .2 .5 .1 .6-.5 .6-.8 .5-.5 .6-.3 .6 .5 .5 0 .6-.4 .6-1 .6-1.2 .3-.3 .2 .1 .6 1.1 .6 1.1 .5 1.1 .6 .5 .6-.2 .5 .4 .6 0 .6 .2 .5 .5 .6 .2 .6 .4 .6 .2 .5-.2 .6-.1 .6-.3 .5-.4 .6-.3 .6-.5 .5-.3 .6-.2 .6-.1 .6 .6 .5 .4 .6 .3 .6 .4 .5-.4 .6 0 .6-.3 .5-.5 .6 0 .6-.4 .5 .1 .6 .4 .6 .1 .6 .4 .5-.1 .6-.2 .6 .2 .5 .3 .6 1 .6 .4 .5-.4 .6-.9 .6-1.7 .5-.7 .6-.4 .6-.1 .5-.1 .6-.4 .6 .2 .6 .5 .5 1.1 .6 1.3 .6 .4 .5-.4 .6-.8 .6-.9 .5-.3 .6 .4 .6 .1 .6 .1 .5 .1 .6 .1 .6-.1 .5 .3 .6-.2 .6-.4 .5 .4 .6-.1 .6-.2 .6-.2 .5-1.1 .6-1.1 .6-1 .5-1.7 .6-3.6 .6-7.4 .5-14.1 .6-21.5 .6-24.5 .6-14.6 .5 10.1 .6 24.2 .5 22.7 .6 14.2 .6 8.2 .6 4.2 .5 1.1 .6 1 .6 .6 .5 1.1 .6 1.6 .6 1 .6 .9 .5 .2 .6-.3 .6-.4 .5-.6 .6-.6 .6-.3 .5-.2 .6-.6 .6-1.1 .5-1.6 .6-.5 .6 1.2 .6 1.4 .5 1.2 .6 .4 .6 .1 .5 .6 .6 .8 .6 .1 .5-.1 .6-.3 .6-.6 .5-.2 .6 0 .6 .1 .5-.1 .6 .2 .6 .6 .6 .4 .5 .4 .6 .3 .6-.5 .5-.5 .6-.5 .6-.9 .5-.8 .8-.6 .4 1 .6 1.7 .5 1.2 .6 .6 .6 0 .5 0 .6 0 .6-.3 .5 .1 .6 0 .6 0 .6 .5 .5 0 .6-.2 .6-.5 .5-.3 .6-.1 .6 .2 .5 .4 .6 .3 .6 .2 .5 .5 .6 .2 .6 0 .5-.5 .6-1 .6-.9 .6-.6 .5 0 .6 .1 .6 .7 .5 .6 .6 .6 .6 .9 .5 .1 .6 .6 .6 .4 .6 0 .5 .4 .6-.3 .6-.5 .5-1.1 .6-1.4 .6-.9 .5-.6 .6-.1 .6-.1 .6-.1 .5-.5 .6 .2 .5 .6 .6 .5 .6 .9 .6-.1 .5-.2 .6 .2 .6 0 .5 .7 .6 .7 .6 .4 .5 .2 .6 .4 .6 0 .6 0 .5-.1 .6-.5 .6-.7 .5-.3 .6 0 .6 .1 .5 .5 .6 .4 .6 .2 .6 0 .5-.7 .6-1 .6-1.1 .5-.6 .6 .2 .6 .6 .5 .8 .6 .7 .6 .2 .5 .1 .6-.3 .6-.3 .5-.3 .6-.1 .6-.3 .6-.3 .5-.5 .6-.7 .6-.5 .5-.2 .6 .2 .6 .5 .5 .5 .6 .6 .6 .3 .6-.1 .5 .1 .6-.6 .6-.5 .5 0 .6-.1 .6 .2 .5 .4 .6 .3 .6 0 .6 .5 .5 .4 .6 0 .6 .9 .5 .1 .6 0 .6 .1 .5-.5 .6-.2 .6 .2 .5 0 .6 .1 .6-.1 .5-.2 .6-.2 .6-.3 .6-.4 .5-.5 .6-.4 .6-.3 .5 .2 .6 .6 .6 .5 .5 .5 .6 .2 .6-.6 .5-.4 .6 0 .6-.1 .6 1.2 .5 .7 .6 .2 .6 .6 .5-.4 .6 .2 .6 .4 .6 .4 .5 .3 .6 0 .6-.4 .5-.5 .6-.4 .6-.3 .5 .2 .6-.3 .6-.4 .5-.6 .6-.8 .6-.5 .5-.2 .6 .2 .6 .4 .6 .5 .5 .4 .6 .3 .6 .2 .5 .2 .6 .2 .6 0 .5-.6 .6-.5 .6-.6 .6-.8 .5 .1 .6-.1 .6-.1 .5 .2 .6 .3 .6-.2 .5 .2 .6 0 .6-1.3 .5-1.8 .6-4.6 .6-7.6 .6-9.1 .5-3.7 .6 4.2 .6 7.2 .5 7.8 .6 5.5 .6 2.7 .5 .9 .6 0 .6-.2 .5 0 .6 .5 .6 .6 .6 .5 .5 .4 .6-.3 .6-.5 .5-.9 .6-.8 .6-.5 .5-.9 .6-1.2 .6-1.9 .5-2 .4-.3 .2 0 .6 1.6 .6 2 .5 1.7 .6 1 .6 .5 .5 .5 .6 .3 .6 .1 .5 .2 .6-.1 .6-.3 .6 .2 .5 .1 .6 .4 .6 .7 .5 .3 .6 0 .6-.5 .5-.1 .6 .3 .6 0 .5 .3 .6-.2 .6-.5 .5-.1 .6-.4 .6 .3 .6 .5 .5 .3 .6 .5 .6-.2 .5-.4 .6-.1 .6-.3 .6 .1 .5 .1 .6-.2 .6 .2 .5 .1 .6 .5 .6 .7 .5 .3 .6 .4 .6-.4 .5-.9 .6-.6 .6-.9 .6-.2 .5 .6 .6 0 .6 .8 .5 0 .6-.2 .6 .1 .5-.1 .6 .3 .6-.1 .5 .2 .6-.1 .6-.2 .5 .6 .6 .2 .6-.2 .6-.3 .5-.8 .6-.5 .6 0 .5 .3 .6 0 .6 0 .5 0 .6 0 .6 .5 .6 .2 .5-.1 .6-.3 .6-.6 .5-.3 .6 0 .6 .3 .5 .6 .6 .5 .6 .3 .6 .1 .5-.4 .6-.4 .6-.4 .5-.2 .6 .5 .6 .2 .5 .7 .6 .6 .6 .3 .5 .2 .6-.5 .6-.8 .5-1 .6-.7 .6-.4 .6 .2 .5 0 .6 .6 .6 .7 .5 .2 .6 .5 .6-.5 .5-.6 .6-.2 .6-.1 .6 .1 .5 .2 .6-.1 .6 .4 .5 .8 .6 .6 .6 .6 .5 0 .6-.3 .6-.9 .6-.6 .5-.7 .6-.6 .5 .2 .6-.2 .6 .4 .6 .3 .5 0 .6 .2 .6-.3 .5-.2 .6-.1 .6 0 .5 .5 .6 .1 .6 0 .6 .2 .5 0 .6 .2 .6 .3 .5-.5 .6-.4 .6-.2 .5-.3 .6 .6 .6 .2 .6 .2 .5 .2 .6-.1 .6 .2 .5-.1 .6-.1 .6-.6 .5 0 .6-.1 .6 .5 .5 1.2 .6 .7 .6 .8 .5 .1 .6-.7 .6-.7 .6-.9 .5-.9 .6-.8 .6-.5 .5 .1 .6 .3 .6 .2 .5-.1 .6-.6 .6 0 .6 .6 .5 .9 .6 .8 .6 .6 .5-.5 .6-.7 .6-.4 .5-.6 .6 .3 .6 .6 .6 .4 .5 .1 .6 0 .6-.4 .5-.1 .6 .4 .6 .5 .5 .5 .6 .5 .6-.3 .5-.6 .6-.7 .6-1.1 .5-.2 .6-.1 .6 0 .6 .3 .5 0 .6-.1 .6-.2 .5-.4 .6-.3 .6 .2 .5 .3 .6 .8 .6 .3 .5 0 .6 .1 .6-.3 .6 .1 .5 0 .6 .2 .6 .8 .5 .8 .6 .9 .6 .4 .6-1.2 .5-1.6 .6-2.1 .6-2.3 .5-1 .6-.8 .6-.6 .5-.5 .6-2.3 .6-5.9 .5-11.2 .6-17.8 .6-19 .5-8.2 .6 11.2 .6 19.5 .6 16.8 .5 10.3 .6 5.9 .6 3.1 .5 1.4 .6 .7 .6 .6 .5 .6 .6 .8 .6 .4 .6 .3 .5 0 .6 0 .6 .2 .5 .1 .6-.2 .6-.5 .5-.6 .6-.4 .6 .1 .6 .1 .5 .4 .6 .7 .6 .5 .5 1 .6 .5 .6-.4 .5-.4 .6-1 .6-.7 .5 0 .6 0 .6 0 .5 .1 .6 .1 .6 .2 .6 .3 .5 .2 .6 0 .6 .1 .5 .1 .6 0 .6 .3 .5 .2 .6 .3 .6 .2 .5 0 .6-.4 .6-.7 .6-.6 .5-.3 .6 .2 .6 .6 .5 .6 .6 .3 .6-.2 .5-.5 .6-.5 .6-.3 .6 .1 .5 .3 .6 .5 .6 .3 .5 .5 .6-.2 .6-.4 .5-.4 .6-.6 .6-.4 .5-.4 .6-.3 .6-.5 .6-.2 .5-.3 .6-.3 .6 0 .5-.7 .6-.6 .6-.7 .5-.6 .6 0 .6-.4 .6 0 .4 0 .7 .1 .6 .7 .5 .2 .6 0 .6-.2 .5-.2 .6 .5 .6 .6 .5 .8 .6 .5 .6-.1 .6-.2 .5-.1 .6 .2 .6 .6 .5 .9 .6 .6 .6 .5 .5 .3 .6-.3 .6 .2 .5-.2 .6-.1 .6 .4 .5-.3 .6 .5 .6 .3 .6-.1 .5 .7 .6 .1 .6 .2 .5 .6 .6-.1 .6-.2 .5-.4 .6-.8 .6-.4 .6-.5 .5-.1 .6 .3 .6 .5 .5 .9 .6 .8 .6 .5 .5 .2 .6-.2 .6-.4 .6-.4 .5-1 .6-.8 .6-.7 .5-.5 .6 0 .6 .1 .5-.1 .6 .3 .6 .1 .5 .4 .6 .5 .6 .1 .5 .3 .6-.1 .6 .1 .6 .4 .5 .4 .6 .6 .6-.3 .5-.3 .6-.7 .6-.9 .6-.2 .5-.8 .6-.1 .6 .6 .5 .5 .6 .8 .6 .4 .5 .1 .6 .1 .6 .5 .5 .2 .6-.2 .6-.4 .6-1.1 .5-.5 .6-.1 .6 .1 .5 .9 .6 .4 .6 .3 .5 .5 .6 0 .6-.1 .5 0 .6-1 .6-.6 .5-.2 .6-.6 .6 .1 .6-.5 .5-.2 .6 .5 .6 .4 .5 .8 .6 .2 .6-.1 .5-.3 .6-.1 .6-.1 .6 .3 .5-.1 .6-.8 .6-1.1 .5-2.4 .6-3 .6-2.9 .6-1.5 .5 1.3 .6 2.5 .6 3 .5 2.2 .6 1.1 .5 1.2 .6-.1 .6-.4 .6 .4 .5 .1 .6 1.1 .6 1 .5 .5 .6 0 .6-.7 .5-.6 .6-.8 .6-.8 .6-.5 .5-.3 .6 0 .6 .3 .5 .5 .6 .6 .6 .6 .5 .2 .6-.1 .6-.5 .6-.4 .5-.4 .6-.5 .6 .3 .5 .1 .6 .6 .6 1 .5 .2 .6 .3 .6-.4 .5-.9 .6-.2 .6-.7 .5 .2 .6 .8 .6 .7 .6 1 .5 .4 .6-.1 .6-.3 .5-.4 .6-.2 .6-.2 .5-.1 .6-.1 .6-.4 .6-.4 .5-.4 .6-.7 .6-.6 .5-.5 .6-.2 .6 .3 .5 .6 .6 .6 .6 .3 .6 .7 .5 .2 .6 .6 .6 .3 .5-.4 .6-.6 .6-.6 .5-.1 .6 .4 .6 .6 .5 .2 .6-.2 .6-.7 .5-.2 .6-.3 .6-.3 .6-.2 .5-.4 .6 .5 .6 .9 .5 1 .6 .8 .6 .1 .5-.5 .6-.7 .6-.8 .6-.8 .5 .2 .6 .3 .6 .5 .5 .2 .6-.3 .6 .1 .5 .3 .6 .4 .6 .3 .6-.4 .5-.7 .6-.9 .6-1 .5-.2 .6 0 .6 .8 .5 1 .6 .4 .6 .3 .5-.4 .6-.1 .6-.3 .5 0 .6 0 .6 .2 .6 .3 .5 0 .6 .2 .6-.6 .5-.5 .6-.5 .6-.3 .5 .8 .6 1 .6 1.2 .5 .5 .6-.4 .6-.9 .6-.5 .5-.3 .6 .1 .6 .5 .5-.2 .6 0 .6-.3 .6-.7 .5-.1 .6-.2 .6 .3 .5 .6 .6 .2 .6 .3 .5-.2 .6-.4 .6-.2 .5-.5 .6 0 .6 .2 .5 .1 .6 .5 .6 .4 .6 .5 .5 .2 .6 .4 .6 0 .5-.3 .6-.1 .6-.5 .5-.8 .6-.3 .6-.1 .6-.1 .5 .5 .6 .2 .6 .2 .5 1.2 .6 .7 .6 .6 .5 0 .6-1.5 .6-1 .5-.8 .6-.7 .6 .4 .6 .4 .5 .2 .6 .2 .6-.8 .5-2.3 .6-3.6 .6-6.2 .5-7.5 .6-9.5 .6-5.1 .5 4.4 .6 9.4 .6 7.5 .5 5.6 .6 3.4 .6 1.7 .6 .9 .5 .8 .6 .5 .6 0 .5 0 .6-.1 .6-.8 .5-.5 .6-.8 .6-1.8 .6-2.6 .5-5.1 .6-7.7 .6-13.1 .5-13.1 .5-4.9 .7 9 .5 13.9 .6 10.6 .6 7.2 .6 3.5 .5 1.1 .6-1.3 .6-4 .5-6.9 .6-8 .5-3.6 .6 6.1 .6 9.1 .6 6.9 .5 3.6 .6 2 .6 1.5 .5 .6 .6 1.1 .6 0 .6-.4 .5-.2 .6-.3 .6 .8 .5 .7 .6 .6 .6 .2 .6-.5 .5-.6 .6-.7 .6-.7 .5-.2 .6 .2 .6 .6 .5 .6 .6 .4 .6 .1 .5-.1 .6-.2 .6-.3 .6-.4 .5-.3 .6-.4 .6-.4 .5-.3 .6-.5 .6 0 .5 .5 .6 .8 .6 1.2 .5 .2 .6-.5 .6-.8 .5-.8 .6 0 .6 .4 .6 .3 .5 .3 .6 .1 .6-.2 .5 .3 .6 .4 .6 .6 .5 .6 .6 .2 .6-.3 .6-.4 .5 0 .6-.2 .6 .1 .5-.1 .6-.4 .6 0 .5 0 .6 .2 .6 .1 .6 .1 .5 .4 .6 .2 .6 .4 .5-.6 .6-1 .6-1.1 .5-.7 .6 .1 .6 .8 .5 .7 .6 .1 .6-.4 .5-.6 .6-.6 .6 .4 .6 .6 .5 .7 .6 1 .6-.1 .5-.4 .6-.4 .6-.7 .5 .3 .6 .6 .6 .5 .5 .6 .6 .3 .6 0 .6-.2 .5-.5 .6-1.1 .6-.6 .5-.2 .6 .4 .6 .7 .6 .6 .5 .5 .6 .2 .5 .2 .6-.4 .6-.6 .6-.4 .5-1 .6-.9 .6-.6 .5-.9 .6 0 .6 0 .6-.3 .5 .2 .6 0 .6 0 .5 .8 .6 .7 .6 .7 .5 1 .6 .3 .6-.1 .5-.1 .6-.7 .6-.2 .5 0 .6-.1 .6-.1 .6-.1 .5-.3 .6-.2 .6 .4 .5 .4 .6 .6 .6 .9 .5 .6 .6 .3 .6 .3 .5-.6 .6-.7 .6-.7 .6-.9 .5 .1 .6 .2 .6 .4 .5 1.1 .6 .2 .6 .2 .6 .2 .5-.1 .6 .1 .6 .2 .5-.1 .6-.4 .6-.2 .5-.3 .6-.4 .6 .1 .5-.2 .6-.4 .6-.2 .5-.6 .6 .1 .6 .6 .6 .8 .5 .8 .6 0 .6-.3 .5-.6 .6-.4 .6 0 .5-.1 .6 .7 .6 .4 .5 .1 .6 .1 .6-1 .6-.9 .5-.7 .6 0 .6 .6 .5 .8 .6 .5 .6-.2 .6-.5 .5-.8 .6-.4 .5 0 .6 .2 .6 .5 .6 .5 .5 .2 .6-.3 .6-.6 .5-.7 .6-.4 .6-.1 .5 .4 .6 .6 .6-.1 .6 .4 .5 .4 .6 .5 .6 1.2 .5 .7 .6 .2 .6-.5 .5-.7 .6-.8 .6-.7 .5 .4 .6 .2 .6 .4 .6 .3 .5-.6 .6-.4 .6-.6 .5-.1 .6 .6 .6 .7 .5 .9 .6 .2 .6-.5 .6-.6 .5-.8 .6-.5 .6 .3 .5 .2 .6 .4 .6 .3 .5 .1 .6 .2 .6 .3 .5-.1 .6-.7 .6-.7 .6-1 .5-.7 .6 0 .6 .3 .5 .2 .6 .5 .6 .5 .5-.1 .6 .1 .6-1 .5-1.8 .6-2.4 .6-3.3 .6-2.4 .3-.9 .2 .4 .6 2.5 .6 3.6 .5 3.3 .6 2.1 .6 .8 .5-.5 .6-.2 .6 0 .5 .6 .6 1.2 .6 .3 .6 0 .5-.5 .6-1 .6-.5 .5-.3 .6-.4 .6 .2 .5 .1 .6 .2 .6 .7 .6-.1 .5 .1 .6-.3 .6-.3 .5-.2 .6 0 .6 .2 .5-.2 .6 .3 .6-.4 .5-.1 .6 .2 .6-.2 .6 .5 .5 .1 .6 .1 .6 .2 .5-.1 .6 .2 .6 .2 .5-.1 .6 .1 .6 0 .6 .2 .5 .4 .6 0 .6 .3 .5-.5 .6-.8 .6-.8 .5-.7 .6 0 .6 .5 .5 .5 .6-.1 .6-.7 .6-.5 .5 .2 .6 1.1 .6 1.1 .5 .5 .6-.5 .6-1.2 .5-.4 .6 .1 .6 .6 .5 .8 .6 0 .6-.6 .6-.3 .5-.3 .6-.2 .6 .5 .5-.1 .6-.1 .6-.2 .5-.4 .6-.3 .6-.1 .5-.1 .6-.3 .6-.1 .6 .2 .5 .2 .6 .8 .6 .7 .5 .3 .6 .1 .6-.4 .5-.2 .6-.2 .6-.1 .6 .5 .5-.4 .6-.5 .6-.2 .5-1 .6 .1 .6 .5 .5 .3 .6 1.1 .6 0 .5-.3 .6-.6 .6-1.7 .6-2.1 .5-3.5 .6-4.1 .6-2.3 .5 .9 .6 3.5 .6 3.7 .5 2.7 .6 2.1 .6 .7 .6 .3 .5 .2 .6-.6 .5 .2 .6 .4 .6 .3 .6 .8 .5 .5 .6-.1 .6 .1 .5-.1 .6-.2 .6 .7 .6 .4 .5 .4 .6-.4 .6-1 .5-.4 .6-.7 .6 .4 .5 .6 .6-.4 .6 0 .5-.3 .6-.4 .6 .4 .6 .3 .5-.2 .6 0 .6-.3 .5-.2 .6 .8 .6 .9 .5 .7 .6 .4 .6-.4 .5-.6 .6-.2 .6 .1 .5 0 .6-.2 .6-.3 .6-.3 .5 .1 .6 .3 .6-.4 .5-.6 .6-1.1 .6-1 .6-.1 .5 .2 .6 1.1 .5 1 .6 .3 .6-.1 .6-.5 .5-.4 .6 .2 .6 .4 .5 .4 .6 .1 .6 0 .6-.3 .5-.4 .6-.2 .6-.5 .5-.1 .6 0 .6-.5 .5 .1 .6-.3 .6-.1 .5 .5 .6 .1 .6 .6 .5 .2 .6 0 .6-.1 .6-.4 .5-.2 .6-.2 .6 .1 .5 0 .6 .1 .6-.1 .5-.1 .6-.2 .6-.1 .5 0 .6-.5 .6-.8 .6-1 .5-1.3 .6-.9 .5-.3 .6-.2 .6 .5 .6 .7 .6 .7 .5 1.4 .6 1.1 .5 .8 .6 1 .6 .7 .6 .6 .5 .3 .6-.1 .6-.7 .5-.5 .6-.4 .6-.4 .5 .6 .6 .7 .6 .7 .6 1 .5 .2 .6-.1 .6-.2 .5-.4 .6-.2 .6 0 .5-.1 .6-.2 .6 0 .5-.3 .6-.2 .6-.1 .6-.4 .5-.2 .6 .1 .6 .1 .5 .4 .6 0 .6-.3 .6-.2 .5-.4 .6-.3 .6-.1 .5 0 .6-.3 .6 .1 .5 .1 .6-.1 .6 .2 .5 .1 .6 0 .6 .1 .5-.2 .6-.1 .6 .4 .6 .4 .5 1 .6 .4 .6-.5 .5-.5 .6-.6 .6-.2 .5 .8 .6 .5 .6 .4 .5 .6 .6-.2 .6-.2 .6-.3 .5-.7 .6-.2 .6-.2 .5 .1 .6 0 .6-.2 .5-.1 .6-.3 .6-.5 .5-.3 .6-.2 .6-.2 .6 .5 .5 .3 .6 .1 .6 .4 .5 .2 .6 .4 .6 .2 .5 0 .6-.2 .6-.1 .6 .5 .5 .6 .6 .3 .6 .1 .5-.5 .6-.8 .6-.4 .5-.2 .6-.1 .6-.2 .5-.1 .6-.6 .6-1 .6-1.4 .5-2.3 .6-2.6 .6-1.8 .5-2.2 .8-1.1 .4 0 .5 .5 .6 1.7 .6 2.2 .6 2.1 .5 1.9 .6 1.6 .6 .8 .5 .9 .6 .4 .6-.1 .5 .3 .6 .1 .6 .5 .5 .5 .6-.1 .6-.2 .6-.5 .5-.5 .6 0 .6 .3 .5 0 .6 .3 .6 .5 .5 .4 .6 .5 .6 .8 .5 .6 .6 .3 .6 .3 .6-.2 .5-.5 .6-.3 .6-.2 .5 .3 .6 .4 .6 0 .5-.1 .6-.1 .6-.1 .5 .2 .6 .5 .6-.1 .6-.3 .5-.3 .6-.5 .6 .3 .5 .6 .6 .8 .6 .5 .5-.6 .6-1 .6-1.6 .6-1.3 .5-.3 .6-.1 .6 .5 .5 .4 .6-.1 .6-.3 .5-.8 .6-1.5 .6-1.8 .5-2.2 .8-1.7 .4 .8 .6 2 .5 2.3 .6 2 .6 1.1 .5 .7 .6 .4 .6-.1 .5-.7 .6-1.2 .6-2.2 .6-3.1 .5-3.6 .6-4 .7-2.5 .4 .9 .6 3.1 .6 3.8 .5 3 .6 1.9 .6 1.3 .5 .5 .6 .5 .6 .3 .6 .4 .5 0 .6-.3 .6-.1 .5-.1 .6 .6 .6 .8 .5 .4 .6 .3 .6-.1 .5 .1 .6 .5 .6 .2 .6 .2 .5-.1 .6-.4 .6 .1 .5-.1 .6 0 .6-.2 .5-.4 .6-.3 .6 .1 .5 .2 .6 .2 .6-.2 .5-.4 .6-.1 .6 .2 .6 .8 .5 .8 .6 .4 .6-.4 .5-.5 .6-.3 .6-.5 .6 .4 .5-.1 .6-.5 .6 0 .5-.6 .6 .2 .6 .7 .5 .7 .6 .6 .6 0 .5 0 .6-.2 .6 0 .6 .1 .5-.5 .6-.3 .6-.2 .5 .5 .6 1 .6 .8 .5 .4 .6-.1 .6-.2 .5-.2 .6 .4 .6 .2 .5 .4 .6 .1 .6-.5 .6-.4 .5-.8 .6-.2 .6 0 .5-.1 .6 .1 .6-.2 .6-.3 .5-.2 .6-.5 .5-.5 .6-.4 .6-.4 .6 .2 .5-.1 .6-.2 .6-.2 .5-.4 .6 0 .6 .3 .6 .1 .5 0 .6 0 .6-.3 .5-.2 .6-.4 .6-.2 .5 0 .6 .4 .6 1.1 .5 .9 .6 .6 .6 .1 .5-.9 .6-.7 .6-.6 .6-.7 .5-.5 .6-1.1 .6-1.4 .5-.8 .8-.4 .4 .5 .5 .9 .6 .8 .6 .7 .5 .8 .6 .8 .6 1.1 .6 .8 .5 .2 .6 .1 .6-.4 .5-.1 .6 .5 .6-.1 .6 .2 .5 0 .6-.5 .6 .1 .5 .4 .6 .1 .6 .2 .5 .2 .6-.2 .6-.2 .5-.2 .6-.4 .6-.5 .5-.4 .6 .2 .6 .3 .6 .3 .5 .1 .6-.2 .6 0 .5 .3 .6 .3 .6 .1 .5-.1 .6-.3 .6-.4 .5-.3 .6-.3 .6 0 .6 0 .5 .5 .6 .3 .6 .2 .5 .2 .6-.3 .6-.2 .5-.5 .6-.5 .6 .1 .5 0 .6 .1 .6 .1 .6-.4 .5-.5" stroke="#ff0000" stroke-width="6"/>
<path d="M192.5 953.6 l.6-.9 .5-.9 .6-1 .6-.8 .5-.4 .6 0 .6 .3 .6 .6 .5 .3 .6 .3 .6-.4 .5-.1 .6-.1 .6 .3 .5 1 .6 .6 .6 .6 .6 0 .5-.2 .6-.2 .6-.4 .5 0 .6-.1 .6 0 .5 0 .6-.3 .6-.4 .5-.3 .6 .1 .6 .3 .6 .3 .5 .2 .6 0 .6-.4 .5-.5 .6-.5 .6-.4 .5 .1 .6 .4 .6 .6 .5 0 .6-.4 .6-.5 .6-.9 .5-.5 .6-.1 .6-.5 .5-.1 .6-.1 .6-.2 .5-.2 .6-.7 .6-.9 .5-.7 .6-.3 .6-.3 .6-.2 .5-.3 .6-.7 .6-.5 .5-.7 .6-.8 .6-.9 .5-.4 .8-.2 .4-.2 .6 .4 .5 .3 .6 .9 .6 1.1 .5 1.2 .6 1.2 .6 .5 .5 .4 .6-.5 .6-.4 .5-.1 .6-.3 .6 .8 .6 .8 .5 .1 .6 .6 .6-.3 .5-.2 .6 .6 .6 .6 .5 1 .6 1 .6 .7 .6 0 .5 0 .6-.3 .5-.4 .6 .2 .6-.3 .6-.1 .5 .1 .6 .3 .6 .7 .5 .6 .6-.1 .6-.5 .6-.6 .5-.5 .6-.1 .6 0 .5-.1 .6-.5 .6-.2 .5-.1 .6 .1 .6 .5 .5 .3 .6-.1 .6-.4 .6-1.2 .5-1.4 .6-.6 .6-.5 .7 .3 .4 .7 .6 .1 .5 .3 .6 .2 .6 .4 .5 .7 .6 .7 .6 .9 .5 .7 .6 .4 .6 .6 .6 .3 .5 .3 .6-.2 .6-.4 .5-.5 .6-.1 .6 .3 .5 .5 .6 .3 .6 .3 .6 .2 .5 .2 .6 .2 .6-.4 .5-.9 .6-.8 .6-.7 .5 .1 .6 .9 .6 .9 .6 1.1 .5 .5 .6-.3 .6-.5 .5-.4 .6-.1 .6 .3 .5 .3 .6-.1 .6-.4 .5-.2 .6-.2 .6-.1 .5 .4 .6 .1 .6 .6 .6 .4 .5-.2 .6 .2 .6-.8 .5 0 .6 .3 .6-.4 .5 .2 .6-.6 .6-.6 .6 0 .5 0 .6-.1 .6-.2 .5-.4 .6-.4 .6 0 .5 .2 .6 0 .6-.5 .6-.2 .5-.1 .6 .4 .6 .7 .5 .1 .6-.2 .6-1.4 .5-2.4 .6-3.4 .6-4.6 .5-3.4 .3-.4 .3 .3 .6 3.8 .5 4.2 .6 3.7 .6 2.6 .6 1.3 .5 .8 .6-.2 .6-.6 .5-.4 .6-.5 .6 .2 .5 .5 .6-.3 .6 0 .6-.5 .5-.2 .6 .9 .6 .9 .5 1 .6 .4 .6-.3 .5-.6 .6-.7 .6-.4 .6-.4 .5 .2 .6 .2 .6 .3 .5 .7 .6 .3 .6 .1 .5 .5 .6-.2 .6 .1 .5 .3 .6 0 .6 .3 .5-.2 .6-.7 .6-.6 .6-.8 .5-.2 .6 .1 .6-.2 .5 0 .6 0 .6 .2 .5 .4 .6 .2 .6-.2 .6-.8 .5-.4 .6-.8 .6-.5 .5-.3 .6-.8 .3-.1 .3 .2 .5 .7 .6 1.3 .6 1.1 .5 .5 .6 .3 .6 .1 .5-.1 .6 .4 .6 .5 .6 .6 .5 .3 .6 .1 .6-.2 .5-.7 .6-.1 .6-.3 .5 0 .6 .5 .6 .2 .5 .1 .6 .1 .6-.4 .6-.5 .5-.5 .6-.6 .6-.3 .5 .3 .6 2.9 .6 0 .6 0 .5 0 .6 0 .6 0 .5 0 .6 0 .6 0 .5 0 .6 0 .6 0 .5 0 .6 0 .6 0 .6 0 .5 0 .6 0 .6 0 .5 0 .6 0 .6 0 .5 0 .6 0 .6 0 .5 0 .6 0 .6 0 .5 0 .6 0 .6 0 .6 0 .5 0 .6 0 .6 0 .5 0 .6 0 .6 0 .6 0 .5 0 .6 0 .6 0 .5 0 .6 0 .6 0 .5 0 .6 0 .6 0 .5 0 .6 0 .6 0 .5 0 .6 0 .6 0 .6 0 .5 0 .6 0 .6 0 .5 0 .6 0 .6 0 .5 0 .6 0 .6 0 .5 0 .6 0 .6 0 .6 0 .5 0 .6 0 .6 0 .5 0 .6 0 .6 0 .6 0 .5 0 .6 0 .6 0 .5 0 .6 0 .6 0 .5 0 .6 0 .6-3.5 .5 .3 .6 .1 .6-.2 .6-.1 .5-.5 .6-.4 .6-.2 .5-.3 .6-.8 .6-1.8 .5-3.5 .6-4.5 .6-2.6 .5 1.4 .6 4 .6 4 .5 2.4 .6 1.3 .6 .2 .6 0 .5-.2 .6 0 .6 .4 .5 .3 .6 .7 .6 .5 .5 0 .6 .4 .6-.1 .6 .3 .5 .5 .6-.2 .6 .3 .5-.2 .6-.6 .6-.2 .5-.2 .6 .4 .6 .7 .5 .3 .6-.4 .6-1.1 .5-.8 .6-.4 .6 .2 .6 .8 .5 .1 .6 .2 .6 .3 .5-.2 .6 .6 .6 .2 .5 .4 .6 .4 .6-.1 .6-.1 .5-.8 .6-.9 .6-.5 .5-.1 .6 .8 .6 1.5 .5 1.1 .6 .9 .6 .1 .6-1 .5-.8 .6-.6 .6-.1 .5 .5 .6-.4 .6-.6 .5-1 .6-1.4 .6-.4 .5 0 .6 .4 .6 .9 .5-.1 .6-.9 .6-.6 .2-.2 .4 1 .5 1.7 .6 1.4 .6 .5 .5-.5 .6-.7 .6-.6 .5 0 .6 .6 .6 .7 .6 .4 .5 .3 .6-.4 .6-.6 .5-.7 .6-.6 .6-.4 .5-.1 .6 .5 .6 .2 .6 .7 .5 .6 .6 .3 .6 .5 .5-.3 .6-.1 .6-.5 .5-.9 .6-.2 .6-.5 .5-.5 .6 .2 .6-.1 .5 .4 .6 .8 .6 1 .6 1 .5 .1 .6-.5 .6-1 .5-1.7 .6-.6 .6 0 .5 .1 .6 .9 .6 .2 .6-.2 .5 .1 .6-.2 .6 0 .5 .2 .6 .1 .6 .1 .5 .4 .6 0 .6-.1 .6-.4 .5-.7 .6-.2 .6 .4 .5 .6 .6 .5 .6-.2 .5-.5 .6-.6 .6-.1 .5 .5 .6 .4 .6 .6 .5 0 .6-.6 .6-.7 .6-.6 .5-.4 .6 .3 .6 .4 .5 .2 .6 .3 .6 .2 .5-.1 .6 .2 .6 0 .6-.4 .5 .3 .6-.2 .6-.2 .5 .2 .6-.6 .6-.3 .5-.1 .6-.4 .6-.1 .6-.1 .5 .1 .6 0 .5 0 .6-.6 .6-1.6 .6-1.8 .6-1.6 .5 .5 .6 1.6 .5 1.5 .6 1.4 .6 .4 .5 .3 .6 .5 .6 .3 .6 .5 .5-.1 .6 0 .6-.3 .5-.2 .6 .4 .6 .2 .5 .1 .6-.1 .6-.4 .6-.5 .5 .1 .6-.1 .6 .1 .5 .5 .6 .3 .6 .7 .5 .7 .6 .6 .6 .2 .5 .1 .6-.7 .6-.9 .6-.4 .5-.1 .6 .5 .6 .4 .5 0 .6-.2 .6-.3 .5 .5 .6 .7 .6 .8 .6 .7 .5 0 .6-.3 .5-.1 .6-.4 .6-.3 .6 .1 .5-.5 .6-.3 .6 .1 .5-.7 .6-.3 .6-.3 .6-.4 .5 .4 .6 .1 .6 .1 .5 .2 .6 .4 .6 .4 .5 0 .6-.1 .6-.7 .5-.5 .6 .1 .6 .3 .5 .6 .6 .6 .6 .3 .6 0 .5 .3 .6-.3 .6 0 .5-.3 .6-.4 .6 0 .5-.1 .6-.1 .6-.2 .5-.6 .6-.5 .6-.4 .6-.1 .5 .1 .6 .2 .6 .2 .5-.2 .6 .4 .6 0 .6 0 .5-.1 .6-1.3 .5-1.8 .8-1.7 .4-.3 .6 1 .5 1.8 .6 1.5 .6 .8 .5 .2 .6-.3 .6-.2 .6-.4 .5-.3 .6-.2 .6-.1 .5 .5 .6 .5 .6 .3 .5 .3 .6-.5 .6-.2 .5-.3 .6-.4 .6 .3 .5 .2 .6 .8 .6 .4 .6 .3 .5 .5 .6 .4 .6 .6 .5 .4 .6 .1 .6 .1 .6-.4 .5-.5 .6-.4 .5-.7 .6-.1 .6-.2 .6 .1 .5 .3 .6 0 .6 0 .5-.4 .6-.5 .6-.9 .5-.7 .6-.3 .6-.4 .6-.1 .5-.3 .6-.5 .6-.1 .5 0 .6-.2 .4 .6 .7 1 .6 .5 .6 .2 .5-.1 .6 .1 .6 .6 .6 .6 .5 .8 .6 .6 .6 .4 .5 0 .6-.9 .6-.6 .5-.9 .6-.7 .6 .5 .5 .6 .6 1.5 .6 1.7 .6 .3 .5-.1 .6-.9 .6-1.3 .5-.5 .6-.7 .6-.1 .6 0 .5 .2 .6 .9 .6 .2 .5-.4 .6-.4 .6-.6 .5-.4 .6 .1 .6-.2 .5-.4 .6-.5 .6-.6 .5-.6 .6-.9 .6-1.5 .6-2.2 .5-2.6 .6-3 .6-3.6 .5-4.9 .6-3.6 .6-2.6 .5-.9 .6 1.2 .6 2.7 .5 3.8 .6 4.6 .6 3.1 .6 2.6 .5 1.7 .6 1.9 .6 1.8 .5 1.5 .6 1.5 .6 1.1 .5-.1 .6-.2 .6-.6 .6-.4 .5 .5 .6 .8 .6 .6 .5 .7 .6 0 .6-.2 .5 .4 .6 .3 .6 .5 .5 .2 .6-.5 .6-.5 .6-.7 .5 0 .6 .2 .6-.1 .5 .3 .6 0 .6 .2 .5 .5 .6 .3 .6 .1 .5-.4 .6-.7 .6-1.1 .6-1.5 .5-1 .6-1.9 .6-3.2 .5-5.6 .6-11.8 .6-21.1 .5-31.2 .6-32.8 .5-12.7 .7 21 .5 34 .6 28.7 .6 18.2 .5 8.6 .6 4.9 .6 2.8 .5 1.7 .6 1.1 .6 1.2 .5 .7 .6 .4 .6 0 .6-.2 .5-.3 .6-.2 .6 .2 .5 .2 .6 .4 .6 .5 .5 .1 .6 .1 .6 .1 .5-.1 .6 0 .6 0 .5-.2 .6 .1 .6 .2 .6 .3 .5 .5 .6 .4 .6 .6 .5 .5 .6-.3 .6-.5 .6-.4 .5-.8 .6-.3 .6 .1 .5-.6 .6 0 .6-.1 .5-.1 .6 .3 .6 .2 .5 0 .6-.2 .6-.2 .6-.1 .5 .5 .6 .5 .6 .1 .5-.5 .6-1.9 .6-3 .5-4.4 .6-4.9 .5-1.8 .6 3.3 .6 5 .6 3.7 .6 2.3 .5 1.1 .6 .7 .6 .4 .5 .2 .6 .4 .6 .2 .5 .2 .6 0 .6-.5 .6-.3 .5-.8 .6-.7 .6 .1 .5-.3 .6 .1 .6 .2 .5-.3 .6 .4 .6 .4 .5 .1 .6 0 .6-.8 .6-.4 .5-.2 .6 1 .6 1.3 .5 .7 .6 .2 .6-1 .5-1 .6-.4 .6-.5 .5 .4 .6-.8 .6-1.9 .5-2.3 .6-3.1 .4-.9 .8 1.2 .5 2.2 .6 2.6 .6 1.5 .5 1.3 .6 .5 .6 .2 .6 .2 .5 .2 .6 .4 .5 .4 .6 .5 .6 .1 .6 0 .5 0 .6-.4 .6-.4 .5-.3 .6-.6 .6-.4 .6 0 .5-.2 .6 0 .6 .1 .5 0 .6 .3 .6 .4 .5 .6 .6 .2 .6 0 .5-.5 .6-1.3 .6-2.4 .6-2 .2-1 .3-.3 .6 2.1 .6 1.9 .5 1.4 .6 .2 .6-.7 .5-.8 .6-.5 .6 .7 .5 1.1 .6 1.2 .6 1 .5 .1 .6-.4 .6-.5 .6-.4 .5 .2 .6 0 .6 .2 .5 .2 .6-.2 .6 .1 .6 0 .5-.5 .6 .1 .5-.1 .6 .2 .6 .8 .6 .2 .5 .4 .6-.2 .6-.8 .5-.6 .6-1.1 .6-1.4 .5-1.7 .8-1.7 .4 .8 .6 2 .5 1.8 .6 .9 .6 0 .5-.2 .6 0 .6 0 .5 .3 .6 .4 .6 .2 .5 .5 .6 .8 .6 .5 .6 .1 .5 .2 .6-.9 .6-.4 .5 0 .6-.6 .6 .3 .5 .1 .6-.1 .6 .4 .5 .2 .6 0 .6-.1 .6-.5 .5-.9 .6-1.2 .6-.4 .5 .2 .6 .5 .6 1.1 .6 .4 .5-.1 .6-.6 .6-1.2 .5-1.6 .6-1.8 .6-1.7 .5-1.5 .6-1 .7-.8 .4 .1 .6 .7 .6 1.1 .5 1.5 .6 1.3 .6 .8 .6 .5 .5 .5 .6-.2 .6-.1 .5-.7 .6-2.1 .6-2 .7-1.6 .4 .7 .6 2.3 .5 2.1 .6 1.3 .6 .8 .6 .8 .5 .8 .6 .8 .6 .7 .5-.1 .6-.4 .6-.1 .5-.1 .6 .2 .6 .3 .6-.7 .5-.9 .6-.9 .6-.7 .5 .4 .6 .7 .6 .5 .5 .3 .6 .2 .6 .1 .5 .1 .6 .3 .6-.2 .6 0 .5 .2 .6-.3 .6-.2 .5-.3 .6-.6 .6-.6 .5-.4 .6-.6 .6-.7 .5-.3 .6-1 .6-1.4 .6-2 .5-2.7 .6-2.7 .7-1.4 .4 .9 .6 2.6 .6 2.4 .5 1.8 .6 1.2 .6 .4 .6-.3 .5-2.8 .6-11.3 .6-34.2 .5-88.6 .6-159.1 .6-197.8 .5-147 .3-25.9 .3 8.1 .6 96.9 .5 122.6 .6 86.5 .5 51.9 .7 79.2 .5 81.2 .6 67.7 .6 38.3 .5 12.4 .6 .1 .3-.1 .3 1.4 .5 6.8 .6 6 .6 3.7 .5 1.6 .6 .5 .6 .8 .6 .8 .5 .8 .6 .9 .6 .4 .5 .1 .6 .3 .6 .2 .5 .3 .6 .1 .6-.3 .6 .2 .5 0 .6 .7 .6 1.1 .5 .5 .6 .5 .6-.2 .5-.1 .6 .2 .6 .1 .5-.2 .6 .2 .6-.2 .6-.1 .5 .4 .6-.8 .6-1 .5-2.1 .6-3.5 .6-3.5 .5-2 .6 1.7 .6 3.5 .5 2.2 .6 1.5 .6 1.6 .6 .7 .5 1.1 .6 .6 .6-.2 .5-.6 .6-1.9 .6-3.7 .5-7 .6-11.4 .6-13.3 .7-9.8 .4 3.8 .6 12.5 .6 12.7 .5 10.5 .6 4.1 .6 2.2 .5 .6 .6 1.4 .6 1.2 .5 .4 .6 .6 .6-.6 .6-.6 .5-.2 .6-.5 .6 .6 .5 1.1 .6 .5 .6 1 .5 .3 .6-.5 .6-.1 .5-.4 .6-.6 .6-.1 .5-.6 .6-.6 .6-.2 .6-.4 .5-.1 .6 .2 .6 .2 .5 .3 .6 .7 .6 .3 .6-.5 .5 0 .6-.3 .6-.2 .5 1 .6 .3 .6 .5 .5 .9 .6 .2 .6 .5 .5 .1 .6-.4 .6-.5 .6-1 .5-.7 .6-.6 .6-.4 .5 .2 .6 .3 .6 0 .5 .4 .6 .2 .6-.1 .5 .3 .6 .4 .6-.2 .6 .3 .5-.1 .6-.5 .6-.5 .5-1.5 .6-2.1 .6-2.9 .5-2.4 .5-.2 .7 2.3 .6 3.1 .5 2.5 .6 1.1 .5-.1 .6-.2 .6-.2 .6-.2 .5 .3 .6 .3 .6 .2 .5 .1 .6 0 .6-.2 .6-.5 .5 .3 .6 0 .6-.1 .5 .2 .6-.5 .6-.6 .5-.4 .6-1.4 .6-1.7 .5-2 .6-2.8 .6-1.8 .3-.3 .2-.2 .6 1.7 .6 2.4 .6 2.7 .5 2.5 .6 2.2 .6 1.5 .5 .5 .6-.1 .6-.8 .5-.3 .6-.4 .6 .3 .5 .9 .6 .3 .6 .7 .6-.4 .5-.6 .6-.1 .6-.4 .5 .3 .6 .1 .6-.8 .6-1.1 .5-1.9 .6-2.4 .5-.9 .6 1.2 .6 2.1 .6 2 .5 1.3 .6 .8 .6 .1 .5-.6 .6-.7 .6-.9 .6-.3 .5 .1 .6 0 .6 .6 .5 .3 .6 .5 .6 .4 .5-.1 .6 .2 .6-.1 .5 .2 .6 .6 .6 .2 .5 .2 .6-.5 .6-.8 .6-.7 .5-.7 .6-.1 .6 0 .5 .2 .6 .3 .6 .1 .5 .1 .6 0 .6-.3 .5-.7 .6-1.3 .6-2 .6-2.3 .7-1.6 .4 1.6 .6 3 .5 2.4 .6 1 .6-.4 .5-.6 .6-.6 .6 0 .6 1 .5 1.2 .6 1 .6 .9 .5 .1 .6 .2 .6 .3 .5-.2 .6 0 .6-.4 .5-.8 .6-.3 .6-.8 .6-.2 .5 .4 .6 .2 .6 .9 .5 .5 .6 0 .6 .5 .5 .1 .6-.2 .6 0 .5-.6 .6-.6 .6 .1 .6 .5 .5 .5 .6 .1 .6-.8 .5-1.1 .6-.8 .6 .2 .6 1 .5 .8 .6 .4 .6-.1 .5-.5 .6-.3 .6-.6 .5-.5 .6-.5 .6 0 .5 .3 .6 0 .6-.2 .5-.8 .6-.4 .6 .2 .6 .7 .5 .9 .6 .5 .6 .5 .5 .5 .6 .6 .6 .2 .5-.1 .6-.4 .6-.4 .5-.4 .6-.3 .6-.3 .6-.7 .5-.1 .6 0 .6-.2 .5 .3 .6 .2 .6 .1 .5 .6 .6 .5 .6 0 .6 0 .5-.4 .6-.5 .6 .2 .5 .2 .6 .9 .6 .8 .5-.2 .6 0 .6-.9 .5-.8 .6 .2 .6-.1 .6 .4 .5 .3 .6 .2 .6 .3 .5-.3 .6-.1 .6-.5 .5-.8 .6 0 .6-.6 .5-.3 .6 .1 .6 .1 .6 .6 .5 .5 .6 .3 .6-.3 .5-.2 .6-.4 .6-.2 .5 .1 .6-.4 .6-.1 .6-.2 .5 .3 .6 .4 .6 0 .5-.2 .6-.6 .6-.4 .5 .7 .6 .5 .6 .9 .5 1 .6 .1 .6 .3 .6-.6 .5-.9 .6-.8 .6-1 .5-.4 .6-.4 .6-.5 .5 0 .6 .2 .6 .5 .5 .8 .6 .7 .6 .6 .5 .7 .6 .4 .6 .3 .6 0 .5-.5 .6-.2 .6-.8 .5-.4 .6-.6 .6-1 .6 0 .5-.6 .6-.4 .6-.4 .5-.6 .6-.3 .6-.3 .5-.2 .6-1.3 .6-1 .5-.8 .6-.8 .6-.1 .5-.7 .6-.8 .7-.6 .5-.2 .5 .4 .6 .7 .6 .9 .5 .6 .6 .9 .6 .4 .5 .3 .6 .5 .6-.7 .6 .1 .5-.3 .6-.9 .6-1.2 .5-2.7 .6-3.5 .6-4.1 .5-3.8 .6-3.8 .6-2.8 .6-1.2 .5 .9 .6 2.8 .6 3.8 .5 3.2 .6 4 .6 3.9 .5 3.1 .6 2.8 .6 1.8 .5 1.2 .6 .7 .6 .4 .5 .9 .6 .9 .6 .7 .6 .9 .5 0 .6-.5 .6 0 .5-.7 .6-.2 .6 .1 .5-.2 .6 .4 .6 .6 .5 .5 .6 .7 .6 .5 .6 .2 .5 .2 .6-.3 .6-.3 .5-.5 .6-.6 .6-.6 .6-.6 .5 0 .6 .1 .6 .4 .5 .2 .6 0 .6-.2 .5-.2 .6 .1 .6-.1 .5 .1 .6 0 .6-.3 .5-.1 .6-.3 .6 0 .6 .1 .5 .1 .6 .3 .6 0 .5-.1 .6 .1 .6-.2 .5-.3 .6 0 .6-.6 .6-.3 .5-.2 .6-.5 .6 .3 .5 0 .6-.4 .6 0 .5-.6 .6-.7 .6-.7 .5-1.7 .6-2.9 .6-5.6 .6-7.1 .5-12.8 .6-11.2 .3-2.1 .3 1.5 .5 10.6 .6 13 .6 10.2 .5 5.3 .6 2.7 .6 1.7 .5 .7 .6 0 .6 0 .5-.3 .6 .3 .6 1 .6 .8 .5 1 .6 .3 .6-.3 .5-.3 .6-.7 .6-.3 .5-.3 .6-.4 .6 .1 .6 .3 .5 .6 .6 .6 .6 .4 .5 .2 .6-.2 .6-.5 .5-1 .6-.9 .5-.5 .7 .3 .5 .9 .6 0 .6-.1 .5-.3 .6-.6 .6 .3 .5 .3 .6 .2 .6 .4 .5-.1 .6 .1 .6 .4 .5 .1 .6 .1 .6-.4 .6-1.3 .5-1.1 .6-.9 .6-.4 .5 .5 .6 .4 .6-.1 .6-.5 .5-1.3 .6-1.2 .6-.2 .5-.1 .6 .5 .6 .7 .5 .2 .6 .7 .6 .6 .5 .8 .6 .7 .6 .3 .6 .4 .5 .2 .6-.1 .6 .3 .5 .3 .6 .5 .6 .9 .5 .1 .6 0 .6-.4 .5-1 .6 0 .6-.1 .5 .1 .6 .7 .6 .3 .6 .5 .5 .5 .6 .1 .6 .2 .5-.1 .6-.1 .6 0 .5-.3 .6 .3 .6 .2 .6 .1 .5 .2 .6-.1 .6-.3 .5-.1 .6-.1 .6-.1 .5 .1 .6 0 .6 0 .6-.2 .5-.2 .6-.3 .6 .1 .5 .2 .6-.1 .6-.2 .5-.5 .6-.3 .6 .1 .5 .4 .6 .5 .6-.1 .5-.5 .6-.4 .6-.2 .6 .4 .5 .6 .6 0 .6-.1 .5 .1 .6-.1 .6 .6 .5 .3 .6 0 .6-.2 .6-.7 .5-.4 .6-.7 .6-.3 .5-.1 .6-.2 .6 .1 .5-.1 .6-.7 .6-1.5 .6-3.3 .5-6.7 .6-10.3 .5-10.7 .6-5.1 .6 5.7 .6 10.9 .5 10.2 .6 6.1 .6 3.5 .5 1.5 .6 .6 .6-.1 .5-.7 .6-.3 .6 .1 .6 .8 .5 1.6 .6 .8 .6 .5 .5-.3 .6-.7 .6 0 .5 .2 .6 .6 .6 .5 .6-.1 .5-.4 .6-.4 .6-.9 .5-.5 .6-.4 .6-.1 .5 .5 .6 .2 .6 .7 .5 .4 .6 .3 .6 0 .5-.3 .6-.7 .6-1.7 .6-2.8 .5-4.5 .6-5.5 .5-2 .6 4 .6 5.6 .6 4.6 .5 2.6 .6 1 .6 0 .6-.8 .5-.4 .6-.7 .6 0 .5 .4 .6-.1 .6 .5 .5 .5 .6 .5 .6 .7 .6 .2 .5-.1 .6-.1 .6 0 .5-.3 .6-.3 .6-.5 .5-1 .6-.5 .6-.1 .5 .5 .6 1 .6 1.1 .5 .2 .6-.8 .6-1 .6-1.2 .5-.2 .6 .5 .6 .5 .5 .2 .6 0 .6-.1 .5-.1 .6-.3 .6-.7 .3-.5 .2-.6 .6 .3 .6 .8 .6 .8 .5 .9 .6 .4 .6 .4 .5 0 .6 .1 .6-.1 .6-.7 .5-.2 .6-.8 .6-.5 .5 .1 .6-.3 .6 .1 .5 .2 .6 .3 .6 .7 .5 .8 .6 .7 .6 .4 .5 .1 .6 0 .6-.1 .6-.4 .5-.5 .6-.7 .6-.7 .5-.4 .6 0 .6 0 .5 .2 .6 .3 .6 .2 .6 .4 .5 0 .6-.3 .6 .1 .5 0 .6 .2 .6 .3 .5 0 .6-.1 .6-.1 .6 0 .5 .1 .6-.4 .6-.7 .5-.9 .6-1.5 .6-.6 .5-.2 .6 .1 .6 .8 .5 .8 .6 .7 .6 .4 .5-.3 .6-1.7 .6-3.5 .6-6.2 .5-8.5 .6-6.9 .3-1.3 .3 .9 .5 6.6 .6 7.8 .6 5.6 .5 3.9 .6 2.4 .6 1.7 .5 .9 .6-.1 .6 0 .6-.6 .5-.4 .6-.2 .6-.6 .5-.2 .6 0 .6 .1 .5 .7 .6 .3 .6-.2 .6-.2 .5-.5 .6 .3 .6 .3 .5 .4 .6 .6 .6-.1 .5 .7 .6 .8 .6 .3 .5 .4 .6-.6 .6-.8 .5-.7 .6-.4 .6 0 .6-.2 .5 .2 .6 .1 .6 0 .5 0 .6 0 .6 .5 .6 .7 .5 .8 .6 .3 .6-.5 .5-1 .6-1.1 .6-.5 .5 0 .6 .2 .6 .5 .5 .4 .6 .5 .6 .2 .6-.4 .5-.8 .6-1.1 .6-.4 .5 .5 .6 1.1 .6 1.2 .5 .4 .6-.3 .6-.6 .5-.2 .6 .1 .6 .5 .5 .9 .6 .1 .6 .1 .6 0 .5-.1 .6 .1 .6 0 .5-.4 .6-1 .6-.9 .5-.6 .6-.1 .6 .6 .6 1 .5 .8 .6 .5 .6-.1 .5-.7 .6-.5 .6-.4 .5 0 .6 .1 .6 .1 .6 0 .5-.3 .6-.3 .6-.5 .5-.6 .6-.1 .6 .5 .5 .6 .6 1.2 .6 .9 .5 0 .6 0 .6-.8 .5-.8 .6-.3 .6-.2 .6 .7 .5 .5 .6 0 .6 .1 .5-.4 .6-.4 .6 .1 .5-.3 .6-.1 .6-.2 .6-.3 .5 0 .6 .1 .6 .3 .5 .3 .6 .2 .6 .1 .5 0 .6-.1 .6 .2 .6 .4 .5 .3 .6 0 .6-.2 .5-.7 .6-.7 .6 0 .5-.2 .6 .2 .6 .2 .5 0 .6 .6 .6 .5 .5 .4 .6-.1 .6-1 .6-1.4 .5-1.2 .6-1 .6-.4 .5 .4 .4 .4 .8 .6 .5 .7 .6 .2 .6 .3 .6 .3 .5 0 .6 .1 .6-.3 .5-.1 .6-.3 .6-.3 .5-.2 .6-.5 .6-1 .6-2.5 .5-4.2 .6-5.5 .6-3.5 .5 3.1 .6 5.5 .6 4.4 .5 2.5 .6 .5 .6 .5 .5 .3 .6 .2 .6 .3 .5 .1 .6 .2 .6 .1 .6 .5 .5 .4 .6 .4 .6 .2 .5 .2 .6-.4 .6-.4 .5-.3 .6-.3 .6 .4 .6 .1 .5 .5 .6 .3 .6-.2 .5 .2 .6-.5 .6-.3 .5 0 .6-.4 .6 .5 .5 .4 .6 0 .6 .2 .5-.2 .6 0 .6 .3 .6 .7 .5 .1 .6-.4 .6-.2 .5-.8 .6-.1 .6 .1 .5-.2 .6-.2 .6-.1 .5 0 .6 .5 .6 1 .6 .8 .5 .4 .6-.3 .6-.8 .5-1.1 .6-1.1 .6 .1 .6 0 .5 .1 .6 .9 .6 .1 .5 .5 .6 .9 .6 .1 .5 .2 .6 .1 .6-.3 .5-.2 .6-.2 .6-.3 .5 0 .6 .2 .6 .1 .6-.1 .5-.2 .6-.5 .6 .1 .5 .2 .6 .3 .6 .2 .5-.2 .6-.1 .6-.3 .6 .3 .5 .3 .6-.1 .6 0 .5-.1 .6-.2 .6 .4 .5 .3 .6-.2 .6-.2 .6-.6 .5-.8 .6 0 .6 0 .5 .2 .6 .5 .6 .1 .5 0 .6 .1 .6-.2 .5-.3 .6-.2 .6-.5 .5 0 .6-.1 .6-.8 .6-.7 .4-.8 .7-.4 .6 .6 .5 .8 .6 1 .6 .9 .5 .2 .6 .1 .6 0 .5 0 .6 .2 .6 .5 .6 .2 .5 .2 .6-.3 .6-.6 .5-.6 .6-.2 .6 .3 .5 .6 .6 .9 .6 0 .6-.2 .5-.7 .6-.6 .6 .1 .5-.3 .6 .5 .6 0 .5-.1 .6 .4 .6-.5 .5 0 .6-.2 .6-.4 .6 .1 .5 0 .6 .5 .6 .7 .5 .7 .6 .4 .6 .2 .5-.3 .6-.3 .6 .1 .6-.1 .5 .1 .6 .3 .6-.4 .5-.7 .6-.6 .6-.9 .5 0 .6 .2 .6 0 .5 .5 .6 0 .6 .2 .6 .3 .5 0 .6 0 .6-.2 .5-.1 .6-.2 .6-.2 .5 0 .6-.3 .6-.1 .5-.2 .6 .4 .6 .9 .5 1.2 .6 1.2 .6 .6 .6 .1 .5-.2 .6-.5 .6-.7 .5-.5 .6-.6 .6-.5 .5-.2 .6-.4 .6-.2 .6 0 .5-.3 .6-.1 .6-.3 .5 .4 .6 .3 .6 1 .5 .8 .6-.4 .6-.1 .6-1 .5-.7 .6-.6 .6-.9 .5-1.1 .6-1.7 .6-2.5 .5-4.7 .6-7.4 .6-15.1 .5-20.5 .6-17.5 .3-2.9 .3 2.7 .5 17.3 .6 20.6 .6 15.3 .6 8.7 .5 5.4 .6 2.8 .6 1.5 .5 .4 .6 0 .6-.3 .6-.2 .5 .2 .6 .9 .6 1.5 .5 1.4 .6 .5 .6-.5 .5-1.3 .6-1.7 .6-.9 .5-.6 .6-.4 .6 1.1 .6 .7 .5 0 .6 .1 .6-.1 .5 .1 .6 .8 .6 .6 .5 .2 .6 .4 .6-.2 .5-.3 .6-.1 .6-.6 .5-.9 .6-.8 .6-.6 .6-.4 .5 .4 .6 .5 .6 .2 .5 .3 .6-.1 .6-.5 .5-.5 .8-.9 .4 .8 .6 1.4 .5 1.1 .6 1 .6 .1 .5-.2 .6-.2 .6-.5 .5-.2 .6 .3 .6 .1 .6 .4 .5 .7 .6 .3 .6 .6 .5 .6 .6-.1 .6 .2 .5-.3 .6-.9 .6-.6 .5-.5 .6-.1 .6 .7 .5 .7 .6 .5 .6 0 .6-.7 .5-.7 .6-1 .6-.2 .5 .2 .6 .4 .6 1 .5 .7 .6 0 .6 .1 .6-.2 .5-.7 .6 .1 .6-.1 .5 .1 .6 .4 .6 .3 .5 .2 .6 0 .6 0 .6-.2 .5-.3 .6-.6 .5-.4 .6-.2 .6-.1 .6 .1 .5 .3 .6-.4 .6-.3 .5-.3 .6-.4 .6 .2 .5 0 .6 .1 .6 .2 .6 .1 .5 .2 .6-.3 .6-.1 .5-.2 .6 .1 .6 .4 .5 .2 .6-.1 .6-.1 .6-.5 .5-.4 .6-.3 .6-.5 .5-.2 .6 .2 .6 .2 .5-.1 .6 .2 .6-.3 .5 .1 .6 1 .6 .5 .5 .4 .6 .2 .6-.2 .6-.1 .5 .5 .6 .7 .6 .6 .5 .7 .6 .3 .6-.1 .5-.6 .6-.9 .6-1 .6-1.2 .5-.5 .6-.4 .6-.4 .5 .1 .6 .2 .6 .3 .5 .4 .6 .2 .6 .2 .6 .1 .5 .1 .6 .2 .6-.5 .5-.5 .6-.6 .6-.6 .5 .2 .6 .9 .6 .6 .5 .8 .6 .5 .6 .1 .5 .4 .6-.1 .6-.4 .6-.4 .5-.5 .6 .1 .6 .4 .5 .3 .6 .4 .6-.2 .5-.5 .6-.3 .6-.8 .5-.4 .6-.1 .6-.4 .6 .2 .5 .7 .6 .9 .6 .9 .5 .3 .6-.1 .6-.3 .6-.3 .5 .3 .6 .1 .6 .2 .5 .4 .6-.2 .6-.2 .5 0 .6-.5 .6 .1 .5 .2 .6 .2 .6-.2 .5-.6 .6-.6 .6-.8 .6-.2 .5 .5 .6 .2 .6 .7 .5 .8 .6 .2 .6 .3 .5-.1 .6-.3 .6-.3 .6-.5 .5-.3 .6-.3 .6-.5 .5 .2 .6 0 .6 0 .5 .1 .6-.5 .6-.7 .5-.2 .6-.6 .6-1.3 .6-2.9 .5-5.4 .6-6.4 .7-4.3 .4 1.8 .6 4.9 .6 5.6 .5 4.2 .6 2.8 .6 2 .5 1.2 .6 .7 .6 .4 .6-.1 .5 0 .6-.2 .6 0 .5-.1 .6-.3 .6-.3 .5-.4 .6-1.1 .6-1.8 .5-2.8 .6-3.5 .6-1.6 .6 1.1 .5 2.7 .6 3.2 .6 2.4 .5 1.3 .6 .7 .6 .1 .5-.4 .6 .2 .6 .1 .6 .2 .5 .2 .6-.3 .6-.1 .5-.1 .6 .2 .6 .4 .5 .4 .6 .2 .6 0 .5-.5 .6-.5 .6-.1 .5-.1 .6 .3 .6 .3 .6-.1 .5 .5 .6 0 .6 .2 .5 .3 .6 .1 .6 0 .6-.4 .5-.7 .6-1 .6-.6 .5-.1 .6 .3 .6 .3 .5 .2 .6 .1 .6 .1 .5 .5 .6 .5 .6 .8 .6 .6 .5 .5 .6 .1 .6-.5 .5-.1 .6-.5 .6-.3 .5 0 .6-.3 .6 .3 .5 .5 .6 .3 .6 .2 .5-.3 .6-.8 .6-.5 .6-.4 .5-.3 .6 .4 .6 0 .5-.2 .6 .2 .6-.5 .5-.2 .6 .2 .6-.2 .6 .5 .5 0 .6 .1 .6-.1 .5-.2 .6 .2 .6-.4 .5 .2 .6-.1 .6-.2 .6 .4 .5 .1 .6 .5 .6 0 .5 .2 .6 0 .6 .1 .5 .3 .6-.3 .6-.3 .5-.5 .6-.3 .6 .3 .5 .1 .6-.2 .6-.6 .6-.8 .5-.6 .6 .1 .6 .1 .5 .5 .6 .1 .6-.3 .5 0 .6-.3 .6 0 .6 .2 .5 .4 .6 .8 .6 .7 .5 .4 .6-.2 .6-.8 .5-.5 .6-.1 .6 .4 .6 .5 .5 .5 .6 .4 .5 .2 .6 0 .6-.2 .6-.6 .5-.6 .6-.3 .6 0 .5 .1 .6 .5 .6-.2 .5-.4 .6-.3 .6-.9 .6-.4 .5-.1 .6 .3 .6 .7 .5 .8 .6 .4 .6 .4 .5 0 .6-.3 .6 .2 .6-.1 .5 .2 .6 1.1 .6 .1 .5 .5 .6 .3 .6-.8 .5-.2 .6-.8 .6-.5 .5-.1 .6-.1 .6 .3 .5 .3 .6 .2 .6 .2 .6 0 .5-.3 .6-.3 .6-.1 .5 0 .6 .3 .6 .4 .5 .1 .6-.1 .6-.3 .6-.5 .5-.7 .6-.4 .6-.4 .5 .3 .6 .9 .6 .8 .5 1.2 .6 .4 .6-.6 .6-.8 .5-1.2 .6-.6 .6 0 .5 0 .6 .5 .6 .5 .5 .4 .6 .7 .6-.2 .5-.4 .6-.6 .6-.9 .5-.7 .6 .2 .6 .5 .6 .6 .5 .8 .6 .2 .6-.4 .5-.2 .6-.2 .6-.3 .5 .4 .6 .4 .6 .2 .5 .5 .6-.1 .6-.4 .6-.1 .5-.2 .6 .1 .6 .3 .5-.1 .6-.5 .6-.5 .6-.7 .5-.1 .6 .3 .6 .2 .5 .2 .6-.5 .6-.8 .5-.8 .6-1.4 .6-2.1 .5-4.5 .6-9.1 .6-12.7 .5-12.9 .5-4.4 .7 9.3 .6 13.7 .5 11.1 .6 6.4 .6 3.7 .5 1.9 .6 1.2 .6 1.5 .5 1.1 .6 1 .6-.3 .6-1 .5-1.5 .6-1.6 .6-.4 .5 .4 .6 1.2 .6 1.6 .5 .9 .6 .7 .6 .3 .6 .4 .5 .6 .6-.1 .6-.1 .5-.8 .6-1 .6-.4 .5-.6 .6-.1 .6 .1 .5 0 .6 .5 .6 .3 .5 .4 .6 .8 .6 .2 .6 .2 .5-.5 .6-.9 .6-.2 .5-.3 .6 .6 .6 .7 .5-.1 .6 0 .6-.8 .5-1 .6-.8 .6-.2 .6 .4 .5 .7 .6 .7 .6 .1 .5-.4 .6-.5 .6-.2 .5 .2 .6 .5 .6 .7 .6 .1 .5 .2 .6 0 .6 0 .5-.1 .6-.1 .6 0 .5-.2 .6-.1 .6-.6 .5-1 .6-1.2 .6-1 .6-.7 .5-.7 .6 0 .6-.5 .5-.5 .6 .1 .6-.4 .5-.4 .6-.4 .6-.6 .6 0 .4 0 .7 .7 .6 .2 .5-.1 .6 .3 .6-.4 .5 .1 .6 .5 .6 .6 .5 1.2 .6 .7 .6 .4 .6-.2 .5-.1 .6 .7 .6 1.1 .5 1.5 .6 .8 .6-.2 .5-.9 .6-1 .6-.3 .5 .4 .6 .6 .6 .6 .5 .1 .6-.2 .6-.3 .6-.7 .5-.2 .6-.2 .6 .2 .5 1 .6 .7 .6 1 .5 .6 .6 .4 .6 .2 .6-.8 .5-.7 .6-1.3 .6-1.2 .5-.5 .6-.3 .6 .3 .5 .5 .6 .5 .6 .1 .6-.1 .5 0 .6 0 .6 .3 .5 .6 .6 .5 .6 .3 .5-.2 .6-.1 .6-.1 .5 0 .6 .6 .6 .2 .5-.3 .6 .1 .6-.2 .6 .1 .5 .4 .6 .2 .6 .4 .5 .1 .6-.1 .6-.2 .6-.6 .5-.2 .6-.1 .6-.3 .5 .3 .6-.4 .6-.6 .5-.3 .6-.6 .6 .3 .5 .4 .6 0 .6 .1 .6-.5 .5-.4 .6 .5 .6 .1 .5 .3 .6 .4 .6-.1 .5 .5 .6 .4 .6 .4 .5 .2 .6-.1 .6-.2 .5-.2 .6 .2 .6 .2 .6 .4 .5-.1 .6-.4 .6 .2 .5 0 .6 .8 .6 .5 .5-.3 .6-.1 .6-1 .6-1 .5-.1 .6-.6 .6 .1 .5 .1 .6-.9 .6-1.5 .5-1.9 .7-1.2 .5 .9 .6 2.3 .5 2.1 .6 1.5 .5 .2 .6-.3 .6-.6 .6-.3 .5 .4 .6 0 .6 .5 .5 .1 .6-.3 .6 .1 .5 0 .6 .1 .6 .3 .6 .3 .5-.1 .6-.3 .6-.3 .5-.1 .6 .3 .6 .8 .5 .6 .6 .4 .6 .4 .6-.1 .5-.2 .6-.4 .6-.7 .5-.7 .6-.9 .6-.7 .5-.9 .6-.5 .6 .3 .5 .5 .6 .9 .6 .6 .5 0 .6-.3 .6-.1 .6 .2 .5 .5 .6 .5 .6 .2 .5-.1 .6 0 .6 .3 .5 .1 .6-.3 .6-.2 .6-.1 .5 .4 .6 .7 .6 0 .5-.4 .6-.9 .6-.4 .5 .1 .6 .1 .6 .6 .6-.2 .5-.3 .6-.2 .6-.8 .5-.2 .6-.1 .6 .2 .5 .7 .6 .5 .6 .7 .5 .6 .6 0 .6-.3 .5-.7 .6-.8 .6-.4 .6-.2 .5-.4 .6-.2 .6-.1 .5 .5 .6 .7 .6 .5 .5 0 .6-.4 .6-.4 .6-.2 .5 .4 .6 .6 .6 .4 .5 .4 .6-.2 .6-.6 .5-.3 .6-.1 .6 0 .6 .5 .5 0 .6-.6 .6 0 .5-.1 .6 .3 .6 .7 .5 .1 .6-.2 .6-.6 .5-.6 .6-.1 .6 .2 .5 .6 .6 .2 .6 .3 .6 .1 .5-.4 .6 .1 .6-.4 .5-.1 .6 .1 .6 .1 .5 .2 .6-.2 .6-.3 .5-.4 .6-.7 .6-.2 .6 .7 .5 .8 .6 1.3 .6 .9 .5 0 .6-.5 .6-.7 .6-1 .5-.5 .6-.3 .6-.3 .5-.1 .6-.1 .6 .1 .5 .6 .6 .2 .6 .3 .5 .1 .6-.3 .6 .3 .5 .1 .6 .3 .6 .8 .6 .2 .5-.1 .6-.5 .6-1 .5-.8 .6-.4 .6 0 .5 .4 .6 0 .6 .3 .6 0 .5-.4 .6 .2 .6-.3 .5 .3 .6 .6 .6 .3 .5 .5 .6-.6 .6-.3 .5-.2 .6-.5 .6 .3 .6-.3 .5-.4 .6-.5 .6-.7 .5-.1 .6 .2 .6 .1 .5-.6 .6-3.3 .6-6.2 .5-9.7 .8-6.1 .4 1.9 .5 6.5 .6 7.1 .6 4.9 .6 2.9 .5 1.2 .6 .2 .6 .2 .5 .3 .6 .4 .6 .7 .5 .5 .6 .1 .6-.2 .6-.8 .5-1.5 .6-3.1 .6-5.7 .5-8.5 .6-10.7 .7-7.5 .4 3.2 .6 10 .6 12 .6 6.6 .5 2.6 .6 .2 .6-.7 .5-1.1 .6-2.2 .6-3.8 .5-4.4 .4-1.1 .2 .5 .6 4.5 .5 6 .6 4.4 .6 2 .5 1.1 .6-.1 .6-.4 .6 0 .5-.4 .6 .1 .6-.2 .5 .2 .6 .3 .6 .1 .6 .4 .5 .1 .6-.2 .6 0 .5-.1 .6 0 .6-.1 .5-.4 .6-.5 .6-.4 .5 .3 .6 .5 .6 .7 .6 .6 .5-.1 .6-.1 .6-.1 .5-.3 .6-.3 .6-.4 .5-.5 .6-.3 .6 .1 .5 .2 .6-.2 .6-.2 .5-.5 .6-.7 .6 .2 .6 .1 .5 .8 .6 1 .6 0 .5 .3 .6 0 .6-.1 .5 .5 .6 .2 .6-.3 .6 0 .5-.2 .6 0 .6 .3 .5 0 .6-.1 .6-.3 .5-.1 .6-.1 .6-.2 .6 0 .5-.6 .6-.1 .6 .1 .5-.2 .6 .6 .6 .1 .5 .1 .6 .3 .6-.2 .5 .1 .6 0 .6 .1 .5-.1 .6-.1 .6-.1 .6-.3 .5 .3 .6 0 .6 .1 .5 0 .6 0 .6 0 .5 .3 .6 .2 .6 .3 .5 .4 .6-.1 .6 .1 .6-.1 .5 0 .6-.2 .6-.5 .5-.3 .6-.6 .6-.1 .6 .2 .5-.2 .6 .2 .5-.2 .6 .2 .6 .5 .6 .5 .5 .6 .6 0 .6 .1 .5-.4 .6-.2 .6 .2 .6 .4 .5 .5 .6 .1 .6-.2 .5-.7 .6-.5 .6 .1 .5 .2 .6 .4 .6-.1 .5-.6 .6-.2 .6-.2 .5 .3 .6 .2 .6 0 .6-.3 .5-.3 .6 .2 .6 .5 .5 .7 .6 .9 .6 .3 .5 0 .6-.3 .6-1.1 .5-.8 .6-.6 .6-.3 .6 .1 .5-.1 .6-.1 .6-.4 .5-.5 .6-.4 .6-.1 .6-.1 .5 .6 .6 .7 .6 .5 .5 .6 .6-.3 .6-.1 .5-.2 .6-1 .6-.2 .5-.1 .6 .6 .6 1.7 .5 .7 .6 .4 .6-.6 .6-1 .5-.2 .6-.1 .6 .4 .5 .3 .6 0 .6 .2 .5 .1 .6 .5 .6 .5 .5 .3 .6 .1 .6-.4 .6-.4 .5-.5 .6-.3 .6 0 .5-.2 .6 .1 .6-.3 .6-.2 .5 .3 .6 .4 .5 .5 .6 .4 .6 .1 .6-.1 .5 0 .6-.5 .6-.5 .5-.7 .6-.9 .6 0 .5-.1 .6 0 .6 .6 .6 0 .5 0 .6 .3 .6-.3 .5-.1 .6 .1 .6-.4 .5-.4 .6-.5 .6-.2 .5 .4 .6 .6 .6 .7 .6 .4 .5 .1 .6 .1 .6 .1 .5-.1 .6-.1 .6-.1 .5-.5 .6 .4 .6 .2 .6 .3 .5 .5 .6-.6 .6-.3 .5-.1 .6-.3 .6 .9 .5 .7 .6 .4 .6 .7 .5 .3 .6-.4 .6 0 .6-.6 .5-1 .6-.5 .6-.6 .5-.1 .6 .3 .6 .6 .5 .7 .6 .6 .6 .1 .5-.6 .6-1.4 .6-1.9 .6-2.5 .5-2.8 .6-2.2 .5-.5 .6 1.9 .6 2.8 .6 2.5 .5 1.9 .6 1.1 .6 1 .5 .5 .6 0 .6-.6 .6-.5 .5-.4 .6 .1 .6 .7 .5 .4 .6 0 .6 0 .5-.5 .6-.4 .6 .2 .6-.4 .5-.3 .6 0 .6-.5 .5 0 .6-.1 .6-.1 .5-.1 .6 .6 .6 .6 .5 .5 .6 .9 .6-.1 .6 0 .5 .1 .6-.3 .6-.3 .5-.1 .6-.4 .6-.4 .5 0 .6-.5 .6-.1 .6 .2 .5 .3 .6 .4 .6 .6 .5 .1 .6 0 .6 0 .5-.5 .6 0 .6 .1 .5 .2 .6 .1 .6 .2 .6-.3 .5-.1 .6-.2 .6-.3 .5-.2 .6-.1 .6 .3 .5 0 .6 .4 .6 .1 .5 .2 .6 .4 .6-.4 .6-.6 .5-.7 .6-.1 .6 .6 .5 .9 .6 .7 .6 .3 .5 .1 .6 0 .6 .1 .5-.1 .6-.4 .6-.5 .6-.3 .5-.1 .6 .3 .6 .5 .5 .5 .6 .1 .6-.5 .5-.8 .6-1 .6-.7 .6 0 .5 .2 .6 0 .6-.1 .5-.4 .6-.1 .6-.2 .5 .7 .6 .5 .6 .1 .5 .1 .6-.7 .6-.3 .6-.5 .5-.8 .6-1.5 .6-2.6 .5-3.1 .8-2.7 .4 0 .5 2.6 .6 3 .6 3 .6 2.1 .5 .8 .6 .6 .5 .1 .6 0 .6 .2 .6-.1 .5-.2 .6 .1 .6 .2 .5-.1 .6 .1 .6-.1 .6-.8 .5-.3 .6-.2 .6 0 .5 .8 .6 1 .6 .2 .5 .3 .6-.1 .6-.4 .5 .2 .6 0 .6 .5 .6 .2 .5 .2 .6-.1 .6-.3 .5-.4 .6-.7 .6 0 .5 .1 .6 .3 .6 .7 .5 0 .6-.1 .6-.1 .5-.4 .6-.2 .6 .1 .6 .1 .5-.1 .6 0 .6-.6 .5-.5 .6 0 .6 .3 .6 1 .5 .7 .6 .5 .5 .2 .6-.2 .6-.3 .6-.7 .5-.8 .6-.4 .6 .1 .5 .5 .6 1 .6 .5 .6-.1 .5-.6 .6-1.1 .6-.9 .5-.4 .6 .2 .6 .6 .5 .6 .6 .2 .6-.5 .5-.5 .6-.6 .6-.4 .5 .2 .6 .2 .6 .3 .6 .2 .5 0 .6 0 .6-.3 .5 .1 .6 .2 .6-.1 .5 .1 .6-.4 .6-.9 .5-.1 .6-.1 .6 .1 .6 .6 .5-.2 .6-.2 .6-.1 .5-.2 .7 .2 .5 .8 .6 .6 .5 .3 .6 .2 .5 .1 .6-.1 .6-.2 .6-.4 .5 .1 .6 .4 .6 .5 .5 .6 .6-.1 .6 0 .5 .3 .6 .2 .6 .3 .6-.4 .5-.9 .6-.9 .6-.4 .5 .4 .6 .4 .6 .5 .5 .4 .6-.4 .6 .3 .5-.1 .6-.2 .6 .3 .6-.5 .5-.2 .6-.2 .6 .1 .5 .7 .6 .7 .6 .4 .6-.4 .5-.6 .6 0 .6 .1 .5 .2 .6-.2 .6-1.4 .5-.9 .6-.4 .6 .1 .5 1.1 .6 .4 .6 .2 .5 .4 .6 .2 .6 .3 .6 .6 .5 .3 .6 0 .6 0 .5-.5 .6-.8 .6-.8 .5-.6 .6-.1 .6 0 .5 .6 .6 0 .6-.6 .6 .1 .5 .1 .6 .6 .6 1 .5 .8 .6 .4 .6 .2 .5 .1 .6-.2 .6-.1 .5-.4 .6-.5 .6 .2 .6-.3 .5 .1 .6-.2 .6-.8 .5-.3 .6-.4 .6 .1 .5 .4 .6 .1 .6 0 .6-.1 .5-.6 .6-.1 .6-.3 .5-.6 .6 .3 .6 .2 .5 .5 .6 .4 .6-.3 .5-1 .6-1.2 .6-.8 .6-.6 .5-.1 .6-.3 .6-.9 .5-.9 .6-1.4 .6-1.1 .7-.6 .4 0 .6 .9 .6 1.6 .5 1.7 .6 1.8 .6 1.4 .5 1 .6 .7 .6 .3 .5 .6 .6 .3 .6 .4 .5 .4 .6 .1 .6 .2 .6-.1 .5-.5 .6-.6 .6-1.1 .5-.6 .6 .2 .6 0 .5 .7 .6 .2 .6-.3 .5 .1 .6-.2 .6 .1 .6 .2 .5-.1 .6 .2 .6-.2 .5-.2 .6 .2 .6-.1 .5 .7 .6 .5 .6-.1 .5 .4 .6-.6 .6-.2 .6 .5 .5-.2 .6 0 .6 .2 .5-.4 .6 0 .6 .4 .5-.2 .6-.2 .6-.4 .6-.9 .5-.5 .6-.2 .6 0 .5 .4 .6-.2 .6-.4 .5-.7 .6-.9 .6-.7 .5-1.4 .6-1.6 .6-1.2 .2 .1 .4 .9 .5 1.9 .6 2 .6 1.2 .5 .4 .6 .4 .6 .3 .5 .5 .6 .1 .6-.3 .6-1.4 .5-2.6 .6-2.6 .7-1.9 .4 1 .6 3.1 .6 3 .5 2 .6 .8 .6-.5 .5-.8 .6 0 .6-.2 .6 .3 .5 .8 .6 .1 .6 .2 .5 .1 .6-.2 .6 .1 .5 .2 .6-.2 .6-.2 .5-.4 .6-.8 .6-.3 .6-.4 .5-.3 .6 .3 .6 .2 .5 .4 .6 .2 .6-.2 .5-.2 .6 0 .6-.1 .5 .3 .6 .5 .6 .1 .5 .2 .6 .1 .6 .1 .6 .4 .5 .9 .6 .5 .6 .2 .5-.4 .6-1.3 .6-1.1 .6-.9 .5-.5 .6 .1 .6 .3 .5 .5 .6 .3 .6 .4 .5 .3 .6 0 .6 .2 .5 .1 .6-.1 .6 .2 .6-.1 .5-.1 .6-.2 .6-.3 .5 0 .6 .5 .6 .5 .5 .1 .6-.3 .6-1 .5-.6 .6-.1 .6 .3 .5 .3 .6 .2 .6 .1 .6 0 .5 .1 .6 0 .6 .1 .5 .2 .6 .3 .6 .4 .6 .1 .5 .5 .6 .6 .5 .2 .6 .6 .6-.6 .6-1 .5-.3 .6-1.1 .6-.4 .5 .1 .6-.8 .6 .2 .6 .3 .5 0 .6 1 .6 .3 .5 .5 .6 .9 .6 0 .5 0 .6-.2 .6-.5 .5 .2 .6 .7 .6 .2 .5 .2 .6-.3 .6-1.4 .6-1.1 .5-1.4 .6-1.5 .6-.8 .5-.6 .6 .3 .6 .5 .5 .5 .4 .3 .2-.6 .6-.1 .5 .5 .6 .9 .6 1.2 .6 .6 .5 0 .6-.3 .6 .1 .5 .7 .6 .7 .6 .4 .6-.3 .5-.7 .6-.7 .6-.1 .5 .6 .6 .8 .6 1.1 .5 .4 .6-.3 .6-.4 .5-.7 .6-.4 .6 .2 .5-.4 .6-.4 .6 0 .6-.2 .5 1.1 .6 1.3 .6 .6 .5 .5 .6-.7 .6-.9 .5-.8 .6-.7 .6-.2 .5 .2 .6 .2 .6 .4 .6 0 .5 .2 .6-.1 .6 0 .5 .5 .6 0 .6 .4 .5 .1 .6-.2 .6-.2 .5-.6 .6-.1 .6 0 .6 .6 .5 .6" stroke="#000000" stroke-width="6"/>
</g>
<rect x="192.5" y="21.5" width="2277" height="1683" fill="none" stroke="#000" stroke-width="7"/>
<path d="M192.1 1704V1721M334.4 1704V1737M476.8 1704V1721M619.1 1704V1737M761.5 1704V1721M903.9 1704V1737M1046.2 1704V1721M1188.5 1704V1737M1330.9 1704V1721M1473.2 1704V1737M1615.6 1704V1721M1757.9 1704V1737M1900.3 1704V1721M2042.6 1704V1737M2185.0 1704V1721M2327.3 1704V1737M2469.7 1704V1721" stroke="#000" stroke-width="7" fill="none"/>
<text x="1277.7" y="114.5" font-size="88" textLength="308.7" lengthAdjust="spacingAndGlyphs">1-Quartz</text>
<text x="1275.2" y="251.8" font-size="88" textLength="320.9" lengthAdjust="spacingAndGlyphs">2-Calcite</text>
<text x="1281.8" y="378.6" font-size="88" textLength="417.0" lengthAdjust="spacingAndGlyphs">3-K-feldspa</text>
<text x="1282.6" y="507.5" font-size="88" textLength="288.4" lengthAdjust="spacingAndGlyphs">4-Albite</text>
<text x="1803.9" y="120.7" font-size="88" textLength="441.8" lengthAdjust="spacingAndGlyphs">5-Muscovite</text>
<text x="1806.9" y="239.0" font-size="88" textLength="358.2" lengthAdjust="spacingAndGlyphs">6-Chlorite</text>
<text x="1803.9" y="378.6" font-size="88" textLength="399.1" lengthAdjust="spacingAndGlyphs">7-Kaolinite</text>
<text x="2119.4" y="920.1" font-size="88" textLength="317.4" lengthAdjust="spacingAndGlyphs">10%-28d</text>
<text x="2163.1" y="1077.0" font-size="88" textLength="273.7" lengthAdjust="spacingAndGlyphs">10%-7d</text>
<text x="2157.8" y="1220.1" font-size="88" textLength="277.2" lengthAdjust="spacingAndGlyphs">6%-28d</text>
<text x="2198.6" y="1372.3" font-size="88" textLength="233.0" lengthAdjust="spacingAndGlyphs">6%-7d</text>
<text x="2094.5" y="1572.5" font-size="88" textLength="340.9" lengthAdjust="spacingAndGlyphs">Plain Soil</text>
<text x="1130.1" y="1949.0" font-size="88" textLength="401.8" lengthAdjust="spacingAndGlyphs">2θ(Degree)</text>
<g transform="translate(86.3 1117) rotate(-90)"><text x="-3.2" y="0.0" font-size="88" textLength="513.0" lengthAdjust="spacingAndGlyphs">Intensity (a.u.)</text></g>
<text x="296.4" y="1819.5" font-size="72.5" textLength="74.2" lengthAdjust="spacingAndGlyphs" class="tk">10</text>
<text x="582.9" y="1819.5" font-size="72.5" textLength="72.2" lengthAdjust="spacingAndGlyphs" class="tk">20</text>
<text x="868.5" y="1819.5" font-size="72.5" textLength="69.8" lengthAdjust="spacingAndGlyphs" class="tk">30</text>
<text x="1153.6" y="1819.5" font-size="72.5" textLength="70.4" lengthAdjust="spacingAndGlyphs" class="tk">40</text>
<text x="1437.1" y="1819.5" font-size="72.5" textLength="70.6" lengthAdjust="spacingAndGlyphs" class="tk">50</text>
<text x="1722.9" y="1819.5" font-size="72.5" textLength="70.5" lengthAdjust="spacingAndGlyphs" class="tk">60</text>
<text x="2006.9" y="1819.5" font-size="72.5" textLength="70.6" lengthAdjust="spacingAndGlyphs" class="tk">70</text>
<text x="2293.2" y="1819.5" font-size="72.5" textLength="69.1" lengthAdjust="spacingAndGlyphs" class="tk">80</text>
<text x="206.9" y="916.8" font-size="74.5">6</text>
<text x="285.3" y="909.3" font-size="74.5">5</text>
<text x="332.4" y="923.3" font-size="74.5">6</text>
<text x="386.4" y="920.0" font-size="74.5">7</text>
<text x="419.9" y="932.0" font-size="74.5">4</text>
<text x="537.5" y="928.1" font-size="74.5">5</text>
<text x="597.5" y="916.0" font-size="74.5">7</text>
<text x="625.3" y="790.0" font-size="74.5">1</text>
<text x="658.7" y="926.7" font-size="74.5">4</text>
<text x="709.5" y="935.8" font-size="74.5">5</text>
<text x="756.9" y="927.1" font-size="74.5">6</text>
<text x="792.3" y="214.6" font-size="74.5">1</text>
<text x="825.5" y="881.8" font-size="74.5">4</text>
<text x="914.8" y="935.3" font-size="74.5">3</text>
<text x="1027.5" y="896.3" font-size="74.5">7</text>
<text x="1072.5" y="887.0" font-size="74.5">1</text>
<text x="1154.4" y="891.6" font-size="74.5">1</text>
<text x="1178.3" y="921.4" font-size="74.5">1</text>
<text x="1239.3" y="905.6" font-size="74.5">1</text>
<text x="1335.4" y="917.5" font-size="74.5">1</text>
<text x="1459.7" y="841.3" font-size="74.5">1</text>
<text x="1593.3" y="918.0" font-size="74.5">1</text>
<text x="1735.3" y="870.9" font-size="74.5">1</text>
<text x="1967.1" y="896.3" font-size="74.5">1</text>
<text x="870.4" y="1075.6" font-size="74.5">2</text>
<text x="1040.3" y="1089.3" font-size="74.5">2</text>
<text x="1412.2" y="1100.4" font-size="74.5">2</text>
</svg>
</body></html>
